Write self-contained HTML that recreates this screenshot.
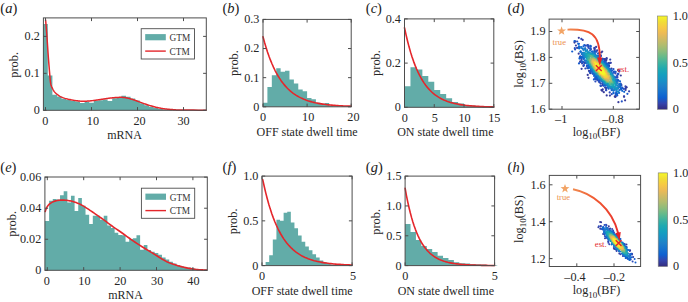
<!DOCTYPE html>
<html><head><meta charset="utf-8"><style>
html,body{margin:0;padding:0;background:#fff;width:688px;height:302px;overflow:hidden}
svg{display:block;font-family:"Liberation Serif", serif}
</style></head><body>
<svg width="688" height="302" viewBox="0 0 688 302">
<rect width="688" height="302" fill="#fff"/>
<g>
<path d="M43.2 110.3V24H47.8V110.3ZM47.8 110.3V75.56H52.4V110.3ZM52.4 110.3V94.8H57V110.3ZM57 110.3V96.54H61.6V110.3ZM61.6 110.3V98.72H66.2V110.3ZM66.2 110.3V99.98H70.8V110.3ZM70.8 110.3V100.89H75.4V110.3ZM75.4 110.3V101.57H80V110.3ZM80 110.3V102.9H84.6V110.3ZM84.6 110.3V101.83H89.2V110.3ZM89.2 110.3V102.84H93.8V110.3ZM93.8 110.3V100.85H98.4V110.3ZM98.4 110.3V100.19H103V110.3ZM103 110.3V99.46H107.6V110.3ZM107.6 110.3V101.01H112.2V110.3ZM112.2 110.3V98.34H116.8V110.3ZM116.8 110.3V98.07H121.4V110.3ZM121.4 110.3V95.77H126V110.3ZM126 110.3V96.67H130.6V110.3ZM130.6 110.3V98.48H135.2V110.3ZM135.2 110.3V100.61H139.8V110.3ZM139.8 110.3V103.14H144.4V110.3ZM144.4 110.3V105.24H149V110.3ZM149 110.3V106.68H153.6V110.3ZM153.6 110.3V107.92H158.2V110.3ZM158.2 110.3V108.89H162.8V110.3ZM162.8 110.3V109.61H167.4V110.3ZM167.4 110.3V110.07H172V110.3Z" fill="#62aca8"/>
<path d="M45.6 20 L45.81 22.39 L46.1 25.78 L46.44 29.9 L46.8 34.5 L47.16 39.75 L47.56 45.72 L47.97 51.95 L48.4 58 L48.9 64.32 L49.45 70.97 L49.95 76.88 L50.3 81 L50.37 81.44 L50.45 82.06 L50.56 82.78 L50.68 83.56 L50.83 84.32 L51 85 L51.2 85.62 L51.44 86.23 L51.7 86.83 L51.97 87.41 L52.24 87.97 L52.5 88.5 L52.74 89 L52.98 89.48 L53.22 89.93 L53.46 90.37 L53.72 90.79 L54 91.2 L54.3 91.6 L54.61 91.98 L54.94 92.35 L55.28 92.71 L55.63 93.06 L56 93.4 L56.39 93.74 L56.8 94.07 L57.22 94.39 L57.65 94.71 L58.08 95.01 L58.5 95.3 L58.9 95.57 L59.28 95.83 L59.66 96.07 L60.06 96.31 L60.5 96.55 L61 96.8 L61.57 97.07 L62.19 97.34 L62.84 97.62 L63.54 97.89 L64.26 98.16 L65 98.4 L65.78 98.63 L66.59 98.84 L67.44 99.04 L68.3 99.24 L69.16 99.42 L70 99.6 L70.83 99.77 L71.67 99.93 L72.5 100.09 L73.33 100.23 L74.17 100.37 L75 100.5 L75.83 100.62 L76.67 100.74 L77.5 100.85 L78.33 100.95 L79.17 101.03 L80 101.1 L80.83 101.15 L81.67 101.19 L82.5 101.21 L83.33 101.21 L84.17 101.21 L85 101.2 L85.83 101.18 L86.67 101.14 L87.5 101.09 L88.33 101.04 L89.17 100.97 L90 100.9 L90.83 100.82 L91.67 100.73 L92.5 100.63 L93.33 100.52 L94.17 100.41 L95 100.3 L95.83 100.19 L96.67 100.08 L97.5 99.96 L98.33 99.84 L99.17 99.72 L100 99.6 L100.83 99.47 L101.67 99.34 L102.5 99.2 L103.33 99.06 L104.17 98.93 L105 98.8 L105.83 98.68 L106.67 98.55 L107.5 98.43 L108.33 98.31 L109.17 98.2 L110 98.1 L110.83 98 L111.67 97.91 L112.5 97.82 L113.33 97.74 L114.17 97.67 L115 97.6 L115.84 97.54 L116.7 97.48 L117.56 97.43 L118.41 97.39 L119.22 97.37 L120 97.35 L120.72 97.35 L121.41 97.35 L122.06 97.37 L122.7 97.39 L123.34 97.44 L124 97.5 L124.67 97.58 L125.33 97.68 L126 97.79 L126.67 97.92 L127.33 98.05 L128 98.2 L128.68 98.36 L129.37 98.54 L130.06 98.73 L130.74 98.93 L131.39 99.12 L132 99.3 L132.56 99.47 L133.07 99.64 L133.56 99.8 L134.04 99.96 L134.51 100.13 L135 100.3 L135.49 100.47 L135.96 100.64 L136.44 100.82 L136.93 101 L137.44 101.19 L138 101.4 L138.61 101.63 L139.26 101.87 L139.94 102.13 L140.63 102.39 L141.32 102.65 L142 102.9 L142.67 103.14 L143.33 103.38 L144 103.61 L144.67 103.84 L145.33 104.07 L146 104.3 L146.66 104.52 L147.3 104.74 L147.94 104.95 L148.59 105.16 L149.28 105.38 L150 105.6 L150.78 105.83 L151.59 106.07 L152.44 106.31 L153.3 106.55 L154.16 106.78 L155 107 L155.83 107.2 L156.67 107.4 L157.5 107.59 L158.33 107.77 L159.17 107.94 L160 108.1 L160.83 108.25 L161.67 108.4 L162.5 108.54 L163.33 108.67 L164.17 108.79 L165 108.9 L165.83 109 L166.67 109.09 L167.5 109.18 L168.33 109.25 L169.17 109.33 L170 109.4 L170.83 109.47 L171.67 109.55 L172.5 109.62 L173.33 109.69 L174.17 109.75 L175 109.8 L175.59 109.84 L175.89 109.88 L176.19 109.91 L176.78 109.94 L177.95 109.97 L180 110 L183.42 110.04 L188.07 110.07 L193.31 110.11 L198.48 110.15 L202.93 110.18 L206 110.2" fill="none" stroke="#e4262b" stroke-width="1.5" stroke-linejoin="round" stroke-linecap="round"/>
<rect x="43.4" y="17.9" width="162.9" height="92.4" fill="none" stroke="#4d4d4d" stroke-width="1"/>
<path d="M45.5 110.3v-3.2M45.5 17.9v3.2" stroke="#4d4d4d" stroke-width="1"/>
<text x="45.4" y="124.6" font-size="12.2" text-anchor="middle" fill="#262626" >0</text>
<path d="M91.5 110.3v-3.2M91.5 17.9v3.2" stroke="#4d4d4d" stroke-width="1"/>
<text x="92.9" y="124.6" font-size="12.2" text-anchor="middle" fill="#262626" >10</text>
<path d="M137.5 110.3v-3.2M137.5 17.9v3.2" stroke="#4d4d4d" stroke-width="1"/>
<text x="139.5" y="124.6" font-size="12.2" text-anchor="middle" fill="#262626" >20</text>
<path d="M183.5 110.3v-3.2M183.5 17.9v3.2" stroke="#4d4d4d" stroke-width="1"/>
<text x="183.6" y="124.6" font-size="12.2" text-anchor="middle" fill="#262626" >30</text>
<path d="M43.4 110.3h3.2M206.3 110.3h-3.2" stroke="#4d4d4d" stroke-width="1"/>
<text x="39.8" y="114.2" font-size="12.2" text-anchor="end" fill="#262626" >0</text>
<path d="M43.4 73.34h3.2M206.3 73.34h-3.2" stroke="#4d4d4d" stroke-width="1"/>
<text x="39.8" y="77.24" font-size="12.2" text-anchor="end" fill="#262626" >0.1</text>
<path d="M43.4 36.38h3.2M206.3 36.38h-3.2" stroke="#4d4d4d" stroke-width="1"/>
<text x="39.8" y="40.28" font-size="12.2" text-anchor="end" fill="#262626" >0.2</text>
<rect x="141.2" y="28.7" width="53.3" height="30.3" fill="#fff" stroke="#4d4d4d" stroke-width="0.9"/>
<rect x="145.2" y="34.1" width="20.6" height="6.2" fill="#62aca8"/>
<path d="M145.2 51.1h20.6" stroke="#e4262b" stroke-width="1.4"/>
<text x="169.6" y="41.1" font-size="9.3" text-anchor="start" fill="#333" >GTM</text>
<text x="169.6" y="54.5" font-size="9.3" text-anchor="start" fill="#333" >CTM</text>
<text x="124.5" y="139.2" font-size="12.0" text-anchor="middle" fill="#262626" >mRNA</text>
<text transform="translate(18.4,64.9) rotate(-90)" font-size="12.4" text-anchor="middle" fill="#262626">prob.</text>
<text x="0.3" y="12.8" font-size="14.5" fill="#1a1a1a">(<tspan font-style="italic">a</tspan>)</text>
</g>
<path d="M263 106.8V102.7H267.41V106.8ZM267.41 106.8V87.1H271.82V106.8ZM271.82 106.8V75.2H276.23V106.8ZM276.23 106.8V68.2H280.64V106.8ZM280.64 106.8V71.7H285.05V106.8ZM285.05 106.8V70.8H289.46V106.8ZM289.46 106.8V79.6H293.87V106.8ZM293.87 106.8V83.6H298.28V106.8ZM298.28 106.8V89.4H302.69V106.8ZM302.69 106.8V91.2H307.1V106.8ZM307.1 106.8V98.1H311.51V106.8ZM311.51 106.8V99.3H315.92V106.8ZM315.92 106.8V102.8H320.33V106.8ZM320.33 106.8V103.8H324.74V106.8ZM324.74 106.8V103.1H329.15V106.8ZM329.15 106.8V105.4H333.56V106.8ZM333.56 106.8V106.2H337.97V106.8ZM337.97 106.8V106.5H342.38V106.8ZM342.38 106.8V106.6H346.79V106.8ZM346.79 106.8V106.6H351.2V106.8Z" fill="#62aca8"/>
<path d="M263 36.74 L264.49 42.22 L265.99 47.26 L267.48 51.91 L268.98 56.2 L270.47 60.16 L271.97 63.8 L273.46 67.16 L274.96 70.26 L276.45 73.11 L277.95 75.75 L279.44 78.17 L280.94 80.41 L282.43 82.47 L283.93 84.37 L285.42 86.12 L286.92 87.74 L288.41 89.23 L289.91 90.6 L291.4 91.87 L292.9 93.03 L294.39 94.11 L295.89 95.1 L297.38 96.02 L298.88 96.86 L300.37 97.63 L301.87 98.35 L303.36 99.01 L304.86 99.62 L306.35 100.18 L307.85 100.7 L309.34 101.17 L310.84 101.61 L312.33 102.02 L313.83 102.39 L315.32 102.74 L316.82 103.05 L318.31 103.35 L319.81 103.62 L321.3 103.87 L322.8 104.1 L324.29 104.31 L325.79 104.5 L327.28 104.68 L328.78 104.85 L330.27 105 L331.77 105.14 L333.26 105.27 L334.76 105.39 L336.25 105.5 L337.75 105.6 L339.24 105.69 L340.74 105.78 L342.23 105.86 L343.73 105.93 L345.22 106 L346.72 106.06 L348.21 106.12 L349.71 106.17 L351.2 106.22" fill="none" stroke="#e4262b" stroke-width="1.6" stroke-linejoin="round" stroke-linecap="round"/>
<rect x="263" y="19.4" width="88.2" height="87.4" fill="none" stroke="#4d4d4d" stroke-width="1"/>
<path d="M263 106.8v-3.2M263 19.4v3.2" stroke="#4d4d4d" stroke-width="1"/>
<text x="263.1" y="121.4" font-size="12.2" text-anchor="middle" fill="#262626" >0</text>
<path d="M307.1 106.8v-3.2M307.1 19.4v3.2" stroke="#4d4d4d" stroke-width="1"/>
<text x="308.2" y="121.4" font-size="12.2" text-anchor="middle" fill="#262626" >10</text>
<path d="M351.2 106.8v-3.2M351.2 19.4v3.2" stroke="#4d4d4d" stroke-width="1"/>
<text x="353.4" y="121.4" font-size="12.2" text-anchor="middle" fill="#262626" >20</text>
<path d="M263 106.8h3.2M351.2 106.8h-3.2" stroke="#4d4d4d" stroke-width="1"/>
<text x="259.4" y="110.7" font-size="12.2" text-anchor="end" fill="#262626" >0</text>
<path d="M263 77.67h3.2M351.2 77.67h-3.2" stroke="#4d4d4d" stroke-width="1"/>
<text x="259.4" y="81.57" font-size="12.2" text-anchor="end" fill="#262626" >0.1</text>
<path d="M263 48.54h3.2M351.2 48.54h-3.2" stroke="#4d4d4d" stroke-width="1"/>
<text x="259.4" y="52.44" font-size="12.2" text-anchor="end" fill="#262626" >0.2</text>
<path d="M263 19.41h3.2M351.2 19.41h-3.2" stroke="#4d4d4d" stroke-width="1"/>
<text x="259.4" y="23.31" font-size="12.2" text-anchor="end" fill="#262626" >0.3</text>
<text x="307.1" y="135.9" font-size="12.0" text-anchor="middle" fill="#262626" >OFF state dwell time</text>
<text transform="translate(237.6,63) rotate(-90)" font-size="12.4" text-anchor="middle" fill="#262626">prob.</text>
<text x="222.4" y="12.8" font-size="14.5" fill="#1a1a1a">(<tspan font-style="italic">b</tspan>)</text>
<path d="M404.5 107.3V86.2H410.45V107.3ZM410.45 107.3V67.2H416.41V107.3ZM416.41 107.3V69.5H422.36V107.3ZM422.36 107.3V76.1H428.31V107.3ZM428.31 107.3V81.8H434.26V107.3ZM434.26 107.3V90.1H440.22V107.3ZM440.22 107.3V94.1H446.17V107.3ZM446.17 107.3V98.2H452.12V107.3ZM452.12 107.3V101.9H458.08V107.3ZM458.08 107.3V103.4H464.03V107.3ZM464.03 107.3V105.4H469.98V107.3ZM469.98 107.3V105.4H475.94V107.3ZM475.94 107.3V106.7H481.89V107.3ZM481.89 107.3V107H487.84V107.3ZM487.84 107.3V107.2H493.8V107.3Z" fill="#62aca8"/>
<path d="M404.5 27.74 L406.01 34.7 L407.53 41.05 L409.04 46.84 L410.55 52.13 L412.07 56.96 L413.58 61.36 L415.09 65.38 L416.61 69.04 L418.12 72.39 L419.63 75.44 L421.15 78.23 L422.66 80.77 L424.18 83.09 L425.69 85.21 L427.2 87.14 L428.72 88.9 L430.23 90.51 L431.74 91.98 L433.26 93.32 L434.77 94.54 L436.28 95.66 L437.8 96.68 L439.31 97.61 L440.82 98.45 L442.34 99.23 L443.85 99.93 L445.36 100.58 L446.88 101.17 L448.39 101.7 L449.9 102.19 L451.42 102.64 L452.93 103.05 L454.44 103.42 L455.96 103.76 L457.47 104.07 L458.99 104.35 L460.5 104.61 L462.01 104.84 L463.53 105.06 L465.04 105.25 L466.55 105.43 L468.07 105.6 L469.58 105.75 L471.09 105.88 L472.61 106.01 L474.12 106.12 L475.63 106.22 L477.15 106.32 L478.66 106.4 L480.17 106.48 L481.69 106.55 L483.2 106.62 L484.71 106.68 L486.23 106.73 L487.74 106.78 L489.25 106.83 L490.77 106.87 L492.28 106.91 L493.8 106.94" fill="none" stroke="#e4262b" stroke-width="1.6" stroke-linejoin="round" stroke-linecap="round"/>
<rect x="404.5" y="18.9" width="89.3" height="88.4" fill="none" stroke="#4d4d4d" stroke-width="1"/>
<path d="M404.5 107.3v-3.2M404.5 18.9v3.2" stroke="#4d4d4d" stroke-width="1"/>
<text x="404.7" y="121.6" font-size="12.2" text-anchor="middle" fill="#262626" >0</text>
<path d="M434.26 107.3v-3.2M434.26 18.9v3.2" stroke="#4d4d4d" stroke-width="1"/>
<text x="434.8" y="121.6" font-size="12.2" text-anchor="middle" fill="#262626" >5</text>
<path d="M464.03 107.3v-3.2M464.03 18.9v3.2" stroke="#4d4d4d" stroke-width="1"/>
<text x="464.6" y="121.6" font-size="12.2" text-anchor="middle" fill="#262626" >10</text>
<path d="M493.8 107.3v-3.2M493.8 18.9v3.2" stroke="#4d4d4d" stroke-width="1"/>
<text x="494.3" y="121.6" font-size="12.2" text-anchor="middle" fill="#262626" >15</text>
<path d="M404.5 107.3h3.2M493.8 107.3h-3.2" stroke="#4d4d4d" stroke-width="1"/>
<text x="400.9" y="111.2" font-size="12.2" text-anchor="end" fill="#262626" >0</text>
<path d="M404.5 63.1h3.2M493.8 63.1h-3.2" stroke="#4d4d4d" stroke-width="1"/>
<text x="400.9" y="67" font-size="12.2" text-anchor="end" fill="#262626" >0.2</text>
<path d="M404.5 18.9h3.2M493.8 18.9h-3.2" stroke="#4d4d4d" stroke-width="1"/>
<text x="400.9" y="22.8" font-size="12.2" text-anchor="end" fill="#262626" >0.4</text>
<text x="445.3" y="136.2" font-size="12.0" text-anchor="middle" fill="#262626" >ON state dwell time</text>
<text transform="translate(380,63) rotate(-90)" font-size="12.4" text-anchor="middle" fill="#262626">prob.</text>
<text x="365.8" y="12.8" font-size="14.5" fill="#1a1a1a">(<tspan font-style="italic">c</tspan>)</text>
<g><circle cx="615.3" cy="97.0" r="1.1" fill="#373b9b"/><circle cx="601.9" cy="59.2" r="1.1" fill="#373b9b"/><circle cx="590.3" cy="72.0" r="1.1" fill="#373b9b"/><circle cx="604.3" cy="59.2" r="1.1" fill="#373b9b"/><circle cx="602.7" cy="84.7" r="1.1" fill="#373b9b"/><circle cx="606.7" cy="95.4" r="1.1" fill="#373b9b"/><circle cx="583.4" cy="65.9" r="1.1" fill="#373b9b"/><circle cx="608.6" cy="63.1" r="1.1" fill="#373b9b"/><circle cx="590.2" cy="71.1" r="1.1" fill="#373b9b"/><circle cx="625.6" cy="90.0" r="1.1" fill="#373b9b"/><circle cx="615.8" cy="96.2" r="1.1" fill="#373b9b"/><circle cx="625.1" cy="100.3" r="1.1" fill="#373b9b"/><circle cx="617.6" cy="80.4" r="1.1" fill="#373b9b"/><circle cx="606.0" cy="60.2" r="1.1" fill="#373b9b"/><circle cx="606.4" cy="63.5" r="1.1" fill="#373b9b"/><circle cx="594.5" cy="50.3" r="1.1" fill="#373b9b"/><circle cx="580.4" cy="56.4" r="1.1" fill="#373b9b"/><circle cx="574.5" cy="42.6" r="1.1" fill="#373b9b"/><circle cx="625.6" cy="88.6" r="1.1" fill="#373b9b"/><circle cx="608.1" cy="64.0" r="1.1" fill="#373b9b"/><circle cx="587.7" cy="74.9" r="1.1" fill="#373b9b"/><circle cx="600.6" cy="55.7" r="1.1" fill="#373b9b"/><circle cx="602.7" cy="89.4" r="1.1" fill="#373b9b"/><circle cx="589.0" cy="70.9" r="1.1" fill="#373b9b"/><circle cx="614.8" cy="96.4" r="1.1" fill="#373b9b"/><circle cx="601.4" cy="90.1" r="1.1" fill="#373b9b"/><circle cx="602.2" cy="90.8" r="1.1" fill="#373b9b"/><circle cx="590.2" cy="73.2" r="1.1" fill="#373b9b"/><circle cx="618.2" cy="70.2" r="1.1" fill="#373b9b"/><circle cx="599.7" cy="82.5" r="1.1" fill="#373b9b"/><circle cx="606.2" cy="60.6" r="1.1" fill="#373b9b"/><circle cx="626.7" cy="87.3" r="1.1" fill="#373b9b"/><circle cx="609.1" cy="65.8" r="1.1" fill="#373b9b"/><circle cx="626.0" cy="87.2" r="1.1" fill="#373b9b"/><circle cx="587.4" cy="45.1" r="1.1" fill="#373b9b"/><circle cx="601.3" cy="52.5" r="1.1" fill="#373b9b"/><circle cx="618.4" cy="74.0" r="1.1" fill="#373b9b"/><circle cx="615.8" cy="94.4" r="1.1" fill="#373b9b"/><circle cx="595.4" cy="77.8" r="1.1" fill="#373b9b"/><circle cx="585.3" cy="62.7" r="1.1" fill="#373b9b"/><circle cx="603.8" cy="92.2" r="1.1" fill="#373b9b"/><circle cx="620.8" cy="75.5" r="1.1" fill="#373b9b"/><circle cx="618.4" cy="102.2" r="1.1" fill="#373b9b"/><circle cx="609.9" cy="95.6" r="1.1" fill="#373b9b"/><circle cx="605.1" cy="87.6" r="1.1" fill="#373b9b"/><circle cx="588.5" cy="77.8" r="1.1" fill="#373b9b"/><circle cx="611.5" cy="68.5" r="1.1" fill="#373b9b"/><circle cx="578.8" cy="37.8" r="1.1" fill="#373b9b"/><circle cx="605.6" cy="63.2" r="1.1" fill="#373c9c"/><circle cx="578.7" cy="53.7" r="1.1" fill="#373c9c"/><circle cx="619.2" cy="71.6" r="1.1" fill="#373c9d"/><circle cx="602.2" cy="51.6" r="1.1" fill="#373c9d"/><circle cx="616.6" cy="77.3" r="1.1" fill="#373c9d"/><circle cx="580.2" cy="62.0" r="1.1" fill="#373d9e"/><circle cx="606.6" cy="58.9" r="1.1" fill="#373d9e"/><circle cx="609.0" cy="63.6" r="1.1" fill="#373d9e"/><circle cx="581.6" cy="68.8" r="1.1" fill="#373d9f"/><circle cx="581.5" cy="59.2" r="1.1" fill="#373e9f"/><circle cx="582.7" cy="39.9" r="1.1" fill="#373ea0"/><circle cx="580.3" cy="61.4" r="1.1" fill="#373ea0"/><circle cx="604.4" cy="60.7" r="1.1" fill="#373ea0"/><circle cx="594.7" cy="49.1" r="1.1" fill="#373ea1"/><circle cx="577.1" cy="47.9" r="1.1" fill="#373ea1"/><circle cx="600.9" cy="55.5" r="1.1" fill="#373fa3"/><circle cx="594.4" cy="47.8" r="1.1" fill="#373fa3"/><circle cx="610.8" cy="62.8" r="1.1" fill="#3740a4"/><circle cx="588.7" cy="46.6" r="1.1" fill="#3740a4"/><circle cx="606.7" cy="58.0" r="1.1" fill="#3740a4"/><circle cx="582.1" cy="57.1" r="1.1" fill="#3740a5"/><circle cx="597.1" cy="50.4" r="1.1" fill="#3641a5"/><circle cx="618.4" cy="80.5" r="1.1" fill="#3641a6"/><circle cx="624.1" cy="96.7" r="1.1" fill="#3641a6"/><circle cx="594.5" cy="48.4" r="1.1" fill="#3641a6"/><circle cx="580.5" cy="57.6" r="1.1" fill="#3641a7"/><circle cx="575.3" cy="41.3" r="1.1" fill="#3642a7"/><circle cx="600.9" cy="85.9" r="1.1" fill="#3642a7"/><circle cx="585.2" cy="62.7" r="1.1" fill="#3642a7"/><circle cx="608.2" cy="66.0" r="1.1" fill="#3642a7"/><circle cx="575.9" cy="45.5" r="1.1" fill="#3642a8"/><circle cx="597.4" cy="79.9" r="1.1" fill="#3642a8"/><circle cx="624.0" cy="96.4" r="1.1" fill="#3642a8"/><circle cx="606.1" cy="88.2" r="1.1" fill="#3642a8"/><circle cx="596.1" cy="46.9" r="1.1" fill="#3543aa"/><circle cx="605.3" cy="59.0" r="1.1" fill="#3543aa"/><circle cx="610.2" cy="62.9" r="1.1" fill="#3543aa"/><circle cx="616.9" cy="93.9" r="1.1" fill="#3544ab"/><circle cx="605.0" cy="62.5" r="1.1" fill="#3544ac"/><circle cx="602.9" cy="85.3" r="1.1" fill="#3544ac"/><circle cx="595.2" cy="78.7" r="1.1" fill="#3544ac"/><circle cx="582.1" cy="63.5" r="1.1" fill="#3544ad"/><circle cx="592.6" cy="73.6" r="1.1" fill="#3545ad"/><circle cx="625.5" cy="86.4" r="1.1" fill="#3545ad"/><circle cx="619.9" cy="84.3" r="1.1" fill="#3545ad"/><circle cx="617.2" cy="75.3" r="1.1" fill="#3446af"/><circle cx="629.1" cy="91.3" r="1.1" fill="#3446af"/><circle cx="594.3" cy="52.2" r="1.1" fill="#3446af"/><circle cx="610.2" cy="59.6" r="1.1" fill="#3446b0"/><circle cx="620.7" cy="84.2" r="1.1" fill="#3347b0"/><circle cx="600.8" cy="83.5" r="1.1" fill="#3347b1"/><circle cx="581.4" cy="57.4" r="1.1" fill="#3347b1"/><circle cx="621.5" cy="85.1" r="1.1" fill="#3347b1"/><circle cx="606.1" cy="90.2" r="1.1" fill="#3348b2"/><circle cx="590.9" cy="49.3" r="1.1" fill="#3248b3"/><circle cx="606.7" cy="64.5" r="1.1" fill="#3248b3"/><circle cx="588.7" cy="68.0" r="1.1" fill="#3248b3"/><circle cx="596.1" cy="76.2" r="1.1" fill="#3248b3"/><circle cx="585.3" cy="45.7" r="1.1" fill="#3248b3"/><circle cx="599.2" cy="80.9" r="1.1" fill="#3248b3"/><circle cx="606.8" cy="87.5" r="1.1" fill="#3248b4"/><circle cx="584.4" cy="63.3" r="1.1" fill="#3249b4"/><circle cx="603.0" cy="58.8" r="1.1" fill="#3249b4"/><circle cx="596.4" cy="51.7" r="1.1" fill="#3249b4"/><circle cx="583.4" cy="62.0" r="1.1" fill="#3149b5"/><circle cx="615.3" cy="73.5" r="1.1" fill="#314ab6"/><circle cx="617.4" cy="77.4" r="1.1" fill="#314ab6"/><circle cx="585.4" cy="68.5" r="1.1" fill="#304ab7"/><circle cx="594.8" cy="51.4" r="1.1" fill="#304ab7"/><circle cx="616.9" cy="77.5" r="1.1" fill="#304bb8"/><circle cx="579.5" cy="46.9" r="1.1" fill="#304bb8"/><circle cx="618.1" cy="80.4" r="1.1" fill="#304bb8"/><circle cx="581.3" cy="38.9" r="1.1" fill="#304bb8"/><circle cx="587.4" cy="68.2" r="1.1" fill="#304bb8"/><circle cx="588.4" cy="47.8" r="1.1" fill="#304bb8"/><circle cx="598.8" cy="53.4" r="1.1" fill="#304bb9"/><circle cx="599.9" cy="57.8" r="1.1" fill="#2f4bb9"/><circle cx="582.2" cy="62.3" r="1.1" fill="#2f4cb9"/><circle cx="609.7" cy="92.4" r="1.1" fill="#2f4cb9"/><circle cx="613.7" cy="72.7" r="1.1" fill="#2f4cba"/><circle cx="613.5" cy="93.1" r="1.1" fill="#2e4dbb"/><circle cx="595.4" cy="81.5" r="1.1" fill="#2e4dbb"/><circle cx="620.5" cy="83.6" r="1.1" fill="#2e4dbb"/><circle cx="611.7" cy="94.2" r="1.1" fill="#2d4dbb"/><circle cx="599.3" cy="80.8" r="1.1" fill="#2d4dbc"/><circle cx="616.0" cy="94.0" r="1.1" fill="#2c4ebc"/><circle cx="596.1" cy="79.4" r="1.1" fill="#2c4ebd"/><circle cx="600.9" cy="55.9" r="1.1" fill="#2b4fbe"/><circle cx="617.3" cy="76.0" r="1.1" fill="#2b4fbe"/><circle cx="606.2" cy="90.2" r="1.1" fill="#2b4fbf"/><circle cx="579.8" cy="57.5" r="1.1" fill="#2a50c0"/><circle cx="588.3" cy="45.4" r="1.1" fill="#2950c0"/><circle cx="593.9" cy="73.7" r="1.1" fill="#2950c0"/><circle cx="622.3" cy="87.5" r="1.1" fill="#2950c1"/><circle cx="619.4" cy="70.6" r="1.1" fill="#2950c1"/><circle cx="599.2" cy="79.9" r="1.1" fill="#2950c1"/><circle cx="601.6" cy="59.2" r="1.1" fill="#2951c1"/><circle cx="596.4" cy="77.1" r="1.1" fill="#2951c1"/><circle cx="577.2" cy="41.5" r="1.1" fill="#2851c2"/><circle cx="615.7" cy="71.9" r="1.1" fill="#2851c2"/><circle cx="623.9" cy="88.9" r="1.1" fill="#2851c2"/><circle cx="598.9" cy="81.7" r="1.1" fill="#2851c2"/><circle cx="591.4" cy="71.6" r="1.1" fill="#2851c2"/><circle cx="586.9" cy="66.3" r="1.1" fill="#2851c2"/><circle cx="575.1" cy="49.5" r="1.1" fill="#2752c3"/><circle cx="611.0" cy="71.9" r="1.1" fill="#2752c4"/><circle cx="593.1" cy="73.6" r="1.1" fill="#2752c4"/><circle cx="583.9" cy="65.2" r="1.1" fill="#2653c4"/><circle cx="574.8" cy="48.2" r="1.1" fill="#2553c5"/><circle cx="590.1" cy="48.7" r="1.1" fill="#2553c5"/><circle cx="604.8" cy="61.5" r="1.1" fill="#2553c5"/><circle cx="621.8" cy="101.4" r="1.1" fill="#2553c5"/><circle cx="599.1" cy="57.0" r="1.1" fill="#2454c5"/><circle cx="607.0" cy="66.9" r="1.1" fill="#2454c5"/><circle cx="590.6" cy="48.3" r="1.1" fill="#2354c6"/><circle cx="598.2" cy="55.8" r="1.1" fill="#2354c6"/><circle cx="598.7" cy="81.0" r="1.1" fill="#2354c6"/><circle cx="602.5" cy="83.1" r="1.1" fill="#2255c7"/><circle cx="581.6" cy="60.7" r="1.1" fill="#2255c7"/><circle cx="613.5" cy="69.1" r="1.1" fill="#2155c7"/><circle cx="591.1" cy="70.7" r="1.1" fill="#2056c8"/><circle cx="580.0" cy="56.8" r="1.1" fill="#2056c8"/><circle cx="599.2" cy="78.5" r="1.1" fill="#2056c8"/><circle cx="589.7" cy="72.1" r="1.1" fill="#1f56c8"/><circle cx="595.3" cy="74.8" r="1.1" fill="#1f56c8"/><circle cx="600.5" cy="85.7" r="1.1" fill="#1f56c8"/><circle cx="587.2" cy="45.8" r="1.1" fill="#1e57c9"/><circle cx="613.9" cy="71.8" r="1.1" fill="#1d58c9"/><circle cx="583.6" cy="58.7" r="1.1" fill="#1c58ca"/><circle cx="596.2" cy="76.6" r="1.1" fill="#1c58ca"/><circle cx="612.3" cy="70.6" r="1.1" fill="#1c58ca"/><circle cx="608.1" cy="87.0" r="1.1" fill="#1b59cb"/><circle cx="609.0" cy="66.6" r="1.1" fill="#1b59cb"/><circle cx="627.4" cy="93.8" r="1.1" fill="#1b59cb"/><circle cx="617.3" cy="95.4" r="1.1" fill="#1a59cb"/><circle cx="602.3" cy="59.7" r="1.1" fill="#1a59cb"/><circle cx="610.5" cy="70.2" r="1.1" fill="#1a59cb"/><circle cx="605.5" cy="85.7" r="1.1" fill="#1a59cc"/><circle cx="608.7" cy="88.7" r="1.1" fill="#195acc"/><circle cx="617.8" cy="73.8" r="1.1" fill="#195acc"/><circle cx="595.2" cy="74.0" r="1.1" fill="#185acd"/><circle cx="590.8" cy="46.4" r="1.1" fill="#185bcd"/><circle cx="611.6" cy="90.1" r="1.1" fill="#175bcd"/><circle cx="616.9" cy="94.1" r="1.1" fill="#175bcd"/><circle cx="579.0" cy="63.4" r="1.1" fill="#175bcd"/><circle cx="593.9" cy="79.4" r="1.1" fill="#165bcd"/><circle cx="587.0" cy="65.3" r="1.1" fill="#165bcd"/><circle cx="614.5" cy="71.6" r="1.1" fill="#165ccd"/><circle cx="582.3" cy="62.1" r="1.1" fill="#165ccd"/><circle cx="607.0" cy="63.6" r="1.1" fill="#165ccd"/><circle cx="620.7" cy="88.1" r="1.1" fill="#155ccd"/><circle cx="604.8" cy="85.2" r="1.1" fill="#155cce"/><circle cx="605.5" cy="61.9" r="1.1" fill="#155cce"/><circle cx="603.8" cy="85.8" r="1.1" fill="#155cce"/><circle cx="600.0" cy="58.4" r="1.1" fill="#145dce"/><circle cx="597.2" cy="78.2" r="1.1" fill="#135dce"/><circle cx="574.5" cy="41.2" r="1.1" fill="#135dce"/><circle cx="616.1" cy="92.8" r="1.1" fill="#135dce"/><circle cx="583.0" cy="56.6" r="1.1" fill="#135dce"/><circle cx="622.0" cy="88.5" r="1.1" fill="#135ece"/><circle cx="588.3" cy="65.1" r="1.1" fill="#135ece"/><circle cx="620.3" cy="85.0" r="1.1" fill="#135ece"/><circle cx="615.2" cy="77.5" r="1.1" fill="#125ece"/><circle cx="590.4" cy="45.8" r="1.1" fill="#125ece"/><circle cx="613.4" cy="90.5" r="1.1" fill="#125ecf"/><circle cx="584.3" cy="45.0" r="1.1" fill="#125ecf"/><circle cx="572.2" cy="51.5" r="1.1" fill="#125ecf"/><circle cx="578.9" cy="43.8" r="1.1" fill="#115ecf"/><circle cx="597.6" cy="75.9" r="1.1" fill="#115fcf"/><circle cx="598.0" cy="53.5" r="1.1" fill="#105fcf"/><circle cx="596.6" cy="78.9" r="1.1" fill="#105fcf"/><circle cx="621.1" cy="89.2" r="1.1" fill="#105fcf"/><circle cx="595.4" cy="51.7" r="1.1" fill="#0f60cf"/><circle cx="615.2" cy="77.5" r="1.1" fill="#0f60cf"/><circle cx="583.4" cy="46.3" r="1.1" fill="#0e60d0"/><circle cx="595.7" cy="77.6" r="1.1" fill="#0d61d0"/><circle cx="605.2" cy="84.2" r="1.1" fill="#0d61d0"/><circle cx="597.7" cy="77.0" r="1.1" fill="#0d61d0"/><circle cx="581.4" cy="57.4" r="1.1" fill="#0d61d0"/><circle cx="589.2" cy="67.1" r="1.1" fill="#0d61d0"/><circle cx="579.5" cy="58.6" r="1.1" fill="#0d61d0"/><circle cx="595.3" cy="54.3" r="1.1" fill="#0d62d0"/><circle cx="594.1" cy="75.9" r="1.1" fill="#0c63d0"/><circle cx="624.2" cy="91.8" r="1.1" fill="#0c63d0"/><circle cx="622.2" cy="90.8" r="1.1" fill="#0c63d0"/><circle cx="620.0" cy="81.3" r="1.1" fill="#0c63d0"/><circle cx="578.2" cy="43.8" r="1.1" fill="#0c63d0"/><circle cx="598.8" cy="56.6" r="1.1" fill="#0c63d0"/><circle cx="613.5" cy="93.1" r="1.1" fill="#0c63d0"/><circle cx="602.0" cy="58.9" r="1.1" fill="#0c63d0"/><circle cx="588.6" cy="68.2" r="1.1" fill="#0c63d0"/><circle cx="620.5" cy="86.6" r="1.1" fill="#0c64d0"/><circle cx="581.8" cy="57.7" r="1.1" fill="#0c64d0"/><circle cx="608.3" cy="67.0" r="1.1" fill="#0c64d0"/><circle cx="596.1" cy="75.8" r="1.1" fill="#0c65d0"/><circle cx="583.3" cy="56.9" r="1.1" fill="#0c65d0"/><circle cx="592.3" cy="73.0" r="1.1" fill="#0c65d0"/><circle cx="611.7" cy="73.0" r="1.1" fill="#0c66d1"/><circle cx="605.8" cy="65.3" r="1.1" fill="#0c66d1"/><circle cx="580.4" cy="51.8" r="1.1" fill="#0c66d1"/><circle cx="616.0" cy="94.5" r="1.1" fill="#0c66d1"/><circle cx="620.1" cy="84.0" r="1.1" fill="#0c66d1"/><circle cx="581.7" cy="53.9" r="1.1" fill="#0c66d1"/><circle cx="591.0" cy="69.4" r="1.1" fill="#0c67d1"/><circle cx="594.5" cy="74.2" r="1.1" fill="#0c67d1"/><circle cx="606.1" cy="65.0" r="1.1" fill="#0c67d0"/><circle cx="609.8" cy="68.9" r="1.1" fill="#0d67d0"/><circle cx="592.5" cy="70.9" r="1.1" fill="#0d67d0"/><circle cx="599.1" cy="57.0" r="1.1" fill="#0d67d0"/><circle cx="617.8" cy="80.3" r="1.1" fill="#0d68d0"/><circle cx="603.0" cy="61.9" r="1.1" fill="#0d68d0"/><circle cx="592.2" cy="71.0" r="1.1" fill="#0d68d0"/><circle cx="599.3" cy="79.2" r="1.1" fill="#0d68d0"/><circle cx="597.8" cy="56.2" r="1.1" fill="#0d68d0"/><circle cx="612.4" cy="73.8" r="1.1" fill="#0d68d0"/><circle cx="592.7" cy="51.6" r="1.1" fill="#0d68d0"/><circle cx="579.2" cy="48.4" r="1.1" fill="#0d68d0"/><circle cx="606.9" cy="65.2" r="1.1" fill="#0d68d0"/><circle cx="588.8" cy="66.1" r="1.1" fill="#0d69d0"/><circle cx="619.1" cy="92.8" r="1.1" fill="#0d69d0"/><circle cx="585.6" cy="60.5" r="1.1" fill="#0e69d0"/><circle cx="611.3" cy="70.4" r="1.1" fill="#0e69d0"/><circle cx="619.6" cy="90.2" r="1.1" fill="#0e69d0"/><circle cx="578.8" cy="47.8" r="1.1" fill="#0e6ad0"/><circle cx="580.7" cy="51.4" r="1.1" fill="#0e6ad0"/><circle cx="599.2" cy="57.6" r="1.1" fill="#0e6ad0"/><circle cx="581.2" cy="47.0" r="1.1" fill="#0e6ad0"/><circle cx="591.9" cy="51.7" r="1.1" fill="#0e6ad0"/><circle cx="597.9" cy="76.2" r="1.1" fill="#0e6ad0"/><circle cx="613.5" cy="90.7" r="1.1" fill="#0e6ad0"/><circle cx="617.1" cy="80.6" r="1.1" fill="#0e6ad0"/><circle cx="583.9" cy="58.8" r="1.1" fill="#0e6ad0"/><circle cx="578.9" cy="46.3" r="1.1" fill="#0e6ad0"/><circle cx="585.9" cy="50.8" r="1.1" fill="#0f6bd0"/><circle cx="619.3" cy="86.6" r="1.1" fill="#0f6bd0"/><circle cx="582.5" cy="48.6" r="1.1" fill="#0f6bd0"/><circle cx="608.5" cy="64.5" r="1.1" fill="#0f6bd0"/><circle cx="595.8" cy="75.4" r="1.1" fill="#106cd0"/><circle cx="616.1" cy="80.1" r="1.1" fill="#106cd0"/><circle cx="620.3" cy="86.0" r="1.1" fill="#106cd0"/><circle cx="590.9" cy="68.2" r="1.1" fill="#116dcf"/><circle cx="604.2" cy="63.5" r="1.1" fill="#116dcf"/><circle cx="607.6" cy="87.5" r="1.1" fill="#116dcf"/><circle cx="607.3" cy="66.9" r="1.1" fill="#116dcf"/><circle cx="607.9" cy="85.6" r="1.1" fill="#116dcf"/><circle cx="620.1" cy="84.1" r="1.1" fill="#116dcf"/><circle cx="612.0" cy="88.4" r="1.1" fill="#126ecf"/><circle cx="614.6" cy="76.6" r="1.1" fill="#126ecf"/><circle cx="608.4" cy="69.3" r="1.1" fill="#126ecf"/><circle cx="615.4" cy="80.8" r="1.1" fill="#126ecf"/><circle cx="608.4" cy="87.4" r="1.1" fill="#126ecf"/><circle cx="612.6" cy="89.1" r="1.1" fill="#126ecf"/><circle cx="583.6" cy="49.5" r="1.1" fill="#126ecf"/><circle cx="582.8" cy="54.5" r="1.1" fill="#126fcf"/><circle cx="602.4" cy="81.5" r="1.1" fill="#136fcf"/><circle cx="583.5" cy="56.7" r="1.1" fill="#136fcf"/><circle cx="585.1" cy="48.9" r="1.1" fill="#136fcf"/><circle cx="604.6" cy="84.1" r="1.1" fill="#136fcf"/><circle cx="583.4" cy="57.0" r="1.1" fill="#136fcf"/><circle cx="619.1" cy="84.3" r="1.1" fill="#1470cf"/><circle cx="601.3" cy="60.4" r="1.1" fill="#1470cf"/><circle cx="602.9" cy="61.5" r="1.1" fill="#1470ce"/><circle cx="594.6" cy="53.2" r="1.1" fill="#1470ce"/><circle cx="592.6" cy="71.1" r="1.1" fill="#1570ce"/><circle cx="597.6" cy="56.8" r="1.1" fill="#1571ce"/><circle cx="590.1" cy="50.5" r="1.1" fill="#1571ce"/><circle cx="615.9" cy="82.3" r="1.1" fill="#1571ce"/><circle cx="596.0" cy="74.7" r="1.1" fill="#1571ce"/><circle cx="601.1" cy="81.0" r="1.1" fill="#1571ce"/><circle cx="592.7" cy="71.6" r="1.1" fill="#1672ce"/><circle cx="599.1" cy="78.6" r="1.1" fill="#1672ce"/><circle cx="593.7" cy="71.8" r="1.1" fill="#1672ce"/><circle cx="605.0" cy="63.3" r="1.1" fill="#1672ce"/><circle cx="616.4" cy="91.2" r="1.1" fill="#1672ce"/><circle cx="604.0" cy="83.1" r="1.1" fill="#1672ce"/><circle cx="618.7" cy="92.6" r="1.1" fill="#1672ce"/><circle cx="605.1" cy="84.4" r="1.1" fill="#1772ce"/><circle cx="586.6" cy="62.8" r="1.1" fill="#1772ce"/><circle cx="606.8" cy="66.9" r="1.1" fill="#1773ce"/><circle cx="604.6" cy="64.0" r="1.1" fill="#1773ce"/><circle cx="591.7" cy="68.7" r="1.1" fill="#1773ce"/><circle cx="593.0" cy="53.5" r="1.1" fill="#1773cd"/><circle cx="599.0" cy="57.7" r="1.1" fill="#1773cd"/><circle cx="607.3" cy="67.2" r="1.1" fill="#1873cd"/><circle cx="594.7" cy="54.5" r="1.1" fill="#1874cd"/><circle cx="611.4" cy="73.1" r="1.1" fill="#1874cd"/><circle cx="598.7" cy="78.0" r="1.1" fill="#1874cd"/><circle cx="586.4" cy="63.2" r="1.1" fill="#1874cd"/><circle cx="593.6" cy="53.6" r="1.1" fill="#1874cd"/><circle cx="616.0" cy="81.1" r="1.1" fill="#1874cd"/><circle cx="582.4" cy="54.6" r="1.1" fill="#1874cd"/><circle cx="606.9" cy="67.5" r="1.1" fill="#1874cd"/><circle cx="583.5" cy="53.0" r="1.1" fill="#1874cd"/><circle cx="608.6" cy="69.4" r="1.1" fill="#1975cd"/><circle cx="594.4" cy="72.4" r="1.1" fill="#1975cd"/><circle cx="595.7" cy="55.9" r="1.1" fill="#1975cd"/><circle cx="595.9" cy="55.9" r="1.1" fill="#1975cd"/><circle cx="606.5" cy="85.0" r="1.1" fill="#1975cd"/><circle cx="596.3" cy="75.0" r="1.1" fill="#1975cd"/><circle cx="616.4" cy="88.9" r="1.1" fill="#1975cd"/><circle cx="587.2" cy="50.0" r="1.1" fill="#1975cd"/><circle cx="602.1" cy="60.8" r="1.1" fill="#1975cc"/><circle cx="582.1" cy="52.8" r="1.1" fill="#1975cc"/><circle cx="584.6" cy="60.7" r="1.1" fill="#1975cc"/><circle cx="616.7" cy="81.9" r="1.1" fill="#1975cc"/><circle cx="597.0" cy="55.5" r="1.1" fill="#1976cc"/><circle cx="599.7" cy="78.1" r="1.1" fill="#1a76cc"/><circle cx="585.1" cy="48.3" r="1.1" fill="#1a76cc"/><circle cx="602.8" cy="61.8" r="1.1" fill="#1a76cc"/><circle cx="585.3" cy="48.6" r="1.1" fill="#1a76cc"/><circle cx="609.8" cy="70.7" r="1.1" fill="#1a76cc"/><circle cx="601.2" cy="80.2" r="1.1" fill="#1a76cc"/><circle cx="619.2" cy="86.6" r="1.1" fill="#1a77cc"/><circle cx="619.3" cy="87.2" r="1.1" fill="#1a77cc"/><circle cx="616.0" cy="80.4" r="1.1" fill="#1b77cc"/><circle cx="584.4" cy="56.7" r="1.1" fill="#1b77cc"/><circle cx="584.0" cy="54.5" r="1.1" fill="#1b77cc"/><circle cx="614.9" cy="89.8" r="1.1" fill="#1b77cc"/><circle cx="609.1" cy="86.6" r="1.1" fill="#1b77cc"/><circle cx="584.3" cy="55.3" r="1.1" fill="#1b78cb"/><circle cx="614.9" cy="80.7" r="1.1" fill="#1b78cb"/><circle cx="605.8" cy="84.2" r="1.1" fill="#1b78cb"/><circle cx="586.0" cy="60.5" r="1.1" fill="#1c79cb"/><circle cx="611.5" cy="73.6" r="1.1" fill="#1c79cb"/><circle cx="597.3" cy="75.0" r="1.1" fill="#1c79cb"/><circle cx="607.7" cy="67.3" r="1.1" fill="#1d7aca"/><circle cx="609.4" cy="69.7" r="1.1" fill="#1d7aca"/><circle cx="592.0" cy="68.7" r="1.1" fill="#1d7aca"/><circle cx="615.0" cy="79.3" r="1.1" fill="#1d7bca"/><circle cx="596.7" cy="74.3" r="1.1" fill="#1d7bca"/><circle cx="618.0" cy="87.8" r="1.1" fill="#1d7bca"/><circle cx="605.8" cy="65.5" r="1.1" fill="#1d7bca"/><circle cx="596.1" cy="74.6" r="1.1" fill="#1d7bca"/><circle cx="611.4" cy="87.5" r="1.1" fill="#1d7bca"/><circle cx="612.5" cy="88.3" r="1.1" fill="#1d7bca"/><circle cx="592.5" cy="54.5" r="1.1" fill="#1d7bca"/><circle cx="610.9" cy="73.4" r="1.1" fill="#1d7cca"/><circle cx="612.2" cy="75.2" r="1.1" fill="#1d7cca"/><circle cx="617.5" cy="85.3" r="1.1" fill="#1d7cca"/><circle cx="583.4" cy="55.8" r="1.1" fill="#1d7cca"/><circle cx="610.7" cy="88.3" r="1.1" fill="#1d7cca"/><circle cx="611.9" cy="74.0" r="1.1" fill="#1d7cca"/><circle cx="598.6" cy="77.1" r="1.1" fill="#1d7cca"/><circle cx="604.4" cy="64.2" r="1.1" fill="#1e7cc9"/><circle cx="592.8" cy="53.2" r="1.1" fill="#1e7cc9"/><circle cx="592.9" cy="53.7" r="1.1" fill="#1e7cc9"/><circle cx="606.8" cy="67.5" r="1.1" fill="#1e7cc9"/><circle cx="595.9" cy="74.5" r="1.1" fill="#1e7dc9"/><circle cx="612.8" cy="90.0" r="1.1" fill="#1e7dc9"/><circle cx="618.1" cy="91.5" r="1.1" fill="#1e7dc9"/><circle cx="606.5" cy="83.8" r="1.1" fill="#1e7dc9"/><circle cx="608.7" cy="86.7" r="1.1" fill="#1e7dc9"/><circle cx="601.6" cy="80.7" r="1.1" fill="#1e7dc9"/><circle cx="584.9" cy="57.2" r="1.1" fill="#1e7dc9"/><circle cx="617.7" cy="83.1" r="1.1" fill="#1e7ec9"/><circle cx="597.7" cy="75.6" r="1.1" fill="#1e7ec9"/><circle cx="598.3" cy="58.8" r="1.1" fill="#1e7ec9"/><circle cx="605.9" cy="66.0" r="1.1" fill="#1e7ec9"/><circle cx="615.8" cy="79.8" r="1.1" fill="#1e7ec9"/><circle cx="609.1" cy="85.9" r="1.1" fill="#1e7fc8"/><circle cx="607.6" cy="68.8" r="1.1" fill="#1e7fc8"/><circle cx="603.0" cy="63.4" r="1.1" fill="#1e7fc8"/><circle cx="617.8" cy="85.8" r="1.1" fill="#1e7fc8"/><circle cx="585.8" cy="56.9" r="1.1" fill="#1e80c8"/><circle cx="612.5" cy="75.8" r="1.1" fill="#1f80c8"/><circle cx="591.5" cy="53.5" r="1.1" fill="#1f80c8"/><circle cx="604.0" cy="81.6" r="1.1" fill="#1f80c8"/><circle cx="592.2" cy="69.5" r="1.1" fill="#1f80c8"/><circle cx="608.6" cy="86.5" r="1.1" fill="#1f81c8"/><circle cx="604.3" cy="64.5" r="1.1" fill="#1f81c8"/><circle cx="593.4" cy="53.0" r="1.1" fill="#1f81c8"/><circle cx="607.3" cy="84.6" r="1.1" fill="#1f81c8"/><circle cx="594.3" cy="72.6" r="1.1" fill="#1f81c8"/><circle cx="582.5" cy="53.6" r="1.1" fill="#1f81c8"/><circle cx="601.0" cy="79.5" r="1.1" fill="#1f81c8"/><circle cx="581.3" cy="47.9" r="1.1" fill="#1f81c8"/><circle cx="609.1" cy="86.2" r="1.1" fill="#1f81c8"/><circle cx="602.2" cy="62.7" r="1.1" fill="#1f81c8"/><circle cx="612.5" cy="87.4" r="1.1" fill="#1f82c7"/><circle cx="612.6" cy="75.0" r="1.1" fill="#1f82c7"/><circle cx="599.3" cy="60.3" r="1.1" fill="#1f82c7"/><circle cx="601.6" cy="61.7" r="1.1" fill="#1f82c7"/><circle cx="588.8" cy="52.6" r="1.1" fill="#1f82c7"/><circle cx="605.1" cy="82.1" r="1.1" fill="#1f82c7"/><circle cx="613.7" cy="77.0" r="1.1" fill="#1f82c7"/><circle cx="598.7" cy="76.8" r="1.1" fill="#1f83c7"/><circle cx="589.0" cy="63.6" r="1.1" fill="#1f83c7"/><circle cx="610.5" cy="73.1" r="1.1" fill="#1e83c7"/><circle cx="608.3" cy="84.9" r="1.1" fill="#1e83c7"/><circle cx="618.1" cy="88.7" r="1.1" fill="#1e83c7"/><circle cx="596.8" cy="74.5" r="1.1" fill="#1e84c7"/><circle cx="591.0" cy="67.9" r="1.1" fill="#1e84c7"/><circle cx="587.1" cy="61.7" r="1.1" fill="#1e84c7"/><circle cx="597.0" cy="57.4" r="1.1" fill="#1e84c7"/><circle cx="615.8" cy="87.0" r="1.1" fill="#1e85c7"/><circle cx="587.0" cy="63.0" r="1.1" fill="#1e85c7"/><circle cx="608.8" cy="85.2" r="1.1" fill="#1e85c7"/><circle cx="589.6" cy="52.5" r="1.1" fill="#1e85c7"/><circle cx="615.9" cy="83.8" r="1.1" fill="#1e85c7"/><circle cx="604.9" cy="82.5" r="1.1" fill="#1e85c7"/><circle cx="603.7" cy="64.7" r="1.1" fill="#1e86c7"/><circle cx="583.5" cy="49.9" r="1.1" fill="#1e86c7"/><circle cx="588.7" cy="62.9" r="1.1" fill="#1e86c7"/><circle cx="615.9" cy="84.0" r="1.1" fill="#1e86c7"/><circle cx="612.8" cy="75.6" r="1.1" fill="#1e87c7"/><circle cx="589.3" cy="53.1" r="1.1" fill="#1e87c7"/><circle cx="616.7" cy="89.5" r="1.1" fill="#1e87c7"/><circle cx="585.6" cy="53.7" r="1.1" fill="#1e87c7"/><circle cx="599.5" cy="77.9" r="1.1" fill="#1d87c7"/><circle cx="593.6" cy="55.2" r="1.1" fill="#1d87c7"/><circle cx="594.3" cy="55.8" r="1.1" fill="#1d87c7"/><circle cx="585.8" cy="57.2" r="1.1" fill="#1d88c7"/><circle cx="584.2" cy="49.5" r="1.1" fill="#1d88c7"/><circle cx="599.6" cy="59.8" r="1.1" fill="#1d88c7"/><circle cx="611.0" cy="87.6" r="1.1" fill="#1d88c7"/><circle cx="591.5" cy="67.2" r="1.1" fill="#1d88c7"/><circle cx="608.3" cy="86.1" r="1.1" fill="#1d88c7"/><circle cx="584.0" cy="52.6" r="1.1" fill="#1d88c7"/><circle cx="591.1" cy="66.8" r="1.1" fill="#1d88c6"/><circle cx="610.4" cy="72.3" r="1.1" fill="#1d88c6"/><circle cx="607.1" cy="84.4" r="1.1" fill="#1d89c6"/><circle cx="594.4" cy="55.1" r="1.1" fill="#1d89c6"/><circle cx="610.2" cy="87.0" r="1.1" fill="#1d89c6"/><circle cx="613.7" cy="78.2" r="1.1" fill="#1d89c6"/><circle cx="614.7" cy="88.5" r="1.1" fill="#1d89c6"/><circle cx="601.9" cy="61.7" r="1.1" fill="#1c89c6"/><circle cx="602.1" cy="63.2" r="1.1" fill="#1c89c6"/><circle cx="591.4" cy="66.4" r="1.1" fill="#1c89c6"/><circle cx="590.5" cy="65.5" r="1.1" fill="#1c89c6"/><circle cx="607.7" cy="70.0" r="1.1" fill="#1c8ac6"/><circle cx="612.0" cy="75.3" r="1.1" fill="#1c8ac6"/><circle cx="585.8" cy="53.8" r="1.1" fill="#1c8ac6"/><circle cx="590.9" cy="66.5" r="1.1" fill="#1c8ac6"/><circle cx="599.7" cy="60.0" r="1.1" fill="#1b8bc6"/><circle cx="595.6" cy="72.3" r="1.1" fill="#1b8bc6"/><circle cx="594.7" cy="71.9" r="1.1" fill="#1b8bc6"/><circle cx="609.3" cy="85.6" r="1.1" fill="#1b8cc6"/><circle cx="600.4" cy="77.8" r="1.1" fill="#1b8cc6"/><circle cx="607.9" cy="69.6" r="1.1" fill="#1b8cc6"/><circle cx="606.7" cy="68.5" r="1.1" fill="#1a8dc6"/><circle cx="611.0" cy="74.8" r="1.1" fill="#1a8dc6"/><circle cx="584.5" cy="54.5" r="1.1" fill="#1a8dc6"/><circle cx="591.5" cy="67.4" r="1.1" fill="#1a8dc6"/><circle cx="587.2" cy="50.8" r="1.1" fill="#1a8dc6"/><circle cx="590.9" cy="54.0" r="1.1" fill="#1a8dc6"/><circle cx="585.0" cy="55.6" r="1.1" fill="#1a8ec6"/><circle cx="604.6" cy="82.7" r="1.1" fill="#1a8ec6"/><circle cx="601.2" cy="61.8" r="1.1" fill="#1a8ec6"/><circle cx="593.3" cy="68.9" r="1.1" fill="#198ec6"/><circle cx="588.2" cy="61.7" r="1.1" fill="#198fc6"/><circle cx="601.0" cy="77.8" r="1.1" fill="#198fc6"/><circle cx="617.8" cy="91.5" r="1.1" fill="#198fc6"/><circle cx="615.8" cy="88.9" r="1.1" fill="#1890c6"/><circle cx="587.8" cy="52.9" r="1.1" fill="#1890c6"/><circle cx="588.3" cy="62.8" r="1.1" fill="#1890c6"/><circle cx="584.1" cy="53.7" r="1.1" fill="#1890c6"/><circle cx="592.0" cy="67.4" r="1.1" fill="#1791c6"/><circle cx="588.2" cy="62.0" r="1.1" fill="#1791c6"/><circle cx="611.1" cy="74.2" r="1.1" fill="#1791c6"/><circle cx="595.2" cy="55.9" r="1.1" fill="#1792c6"/><circle cx="615.3" cy="82.5" r="1.1" fill="#1792c6"/><circle cx="611.2" cy="74.4" r="1.1" fill="#1792c6"/><circle cx="607.1" cy="69.2" r="1.1" fill="#1792c6"/><circle cx="612.6" cy="77.1" r="1.1" fill="#1792c6"/><circle cx="606.7" cy="83.8" r="1.1" fill="#1693c6"/><circle cx="608.5" cy="84.2" r="1.1" fill="#1693c6"/><circle cx="588.1" cy="52.1" r="1.1" fill="#1693c6"/><circle cx="607.2" cy="83.3" r="1.1" fill="#1693c6"/><circle cx="594.6" cy="71.4" r="1.1" fill="#1693c6"/><circle cx="588.1" cy="61.5" r="1.1" fill="#1693c6"/><circle cx="589.9" cy="65.0" r="1.1" fill="#1694c6"/><circle cx="596.6" cy="73.9" r="1.1" fill="#1594c6"/><circle cx="602.0" cy="62.6" r="1.1" fill="#1594c6"/><circle cx="595.7" cy="72.4" r="1.1" fill="#1594c6"/><circle cx="602.6" cy="63.7" r="1.1" fill="#1594c6"/><circle cx="612.1" cy="76.5" r="1.1" fill="#1595c6"/><circle cx="609.4" cy="72.4" r="1.1" fill="#1595c5"/><circle cx="615.4" cy="88.9" r="1.1" fill="#1595c5"/><circle cx="599.3" cy="60.1" r="1.1" fill="#1595c5"/><circle cx="614.6" cy="81.4" r="1.1" fill="#1596c5"/><circle cx="591.0" cy="65.2" r="1.1" fill="#1596c5"/><circle cx="604.8" cy="66.5" r="1.1" fill="#1596c5"/><circle cx="596.0" cy="56.9" r="1.1" fill="#1596c5"/><circle cx="594.8" cy="71.1" r="1.1" fill="#1596c5"/><circle cx="605.8" cy="82.2" r="1.1" fill="#1596c5"/><circle cx="616.2" cy="85.1" r="1.1" fill="#1596c5"/><circle cx="611.4" cy="86.9" r="1.1" fill="#1596c5"/><circle cx="586.6" cy="57.7" r="1.1" fill="#1497c5"/><circle cx="590.1" cy="53.5" r="1.1" fill="#1497c5"/><circle cx="599.7" cy="60.8" r="1.1" fill="#1497c5"/><circle cx="584.7" cy="53.0" r="1.1" fill="#1497c5"/><circle cx="589.6" cy="53.2" r="1.1" fill="#1498c5"/><circle cx="607.6" cy="69.9" r="1.1" fill="#1498c5"/><circle cx="604.8" cy="81.8" r="1.1" fill="#1498c5"/><circle cx="616.9" cy="88.1" r="1.1" fill="#1498c4"/><circle cx="589.9" cy="53.8" r="1.1" fill="#1498c4"/><circle cx="603.3" cy="80.0" r="1.1" fill="#1499c4"/><circle cx="587.2" cy="53.3" r="1.1" fill="#1499c4"/><circle cx="609.4" cy="84.7" r="1.1" fill="#1499c4"/><circle cx="585.8" cy="56.5" r="1.1" fill="#1499c4"/><circle cx="614.3" cy="87.2" r="1.1" fill="#1499c4"/><circle cx="613.8" cy="87.3" r="1.1" fill="#1499c4"/><circle cx="597.4" cy="58.5" r="1.1" fill="#1499c4"/><circle cx="608.8" cy="71.4" r="1.1" fill="#149bc3"/><circle cx="607.4" cy="69.2" r="1.1" fill="#149bc3"/><circle cx="589.6" cy="63.0" r="1.1" fill="#149bc3"/><circle cx="586.7" cy="58.1" r="1.1" fill="#149bc3"/><circle cx="594.1" cy="55.4" r="1.1" fill="#149bc3"/><circle cx="609.2" cy="85.4" r="1.1" fill="#149bc3"/><circle cx="596.8" cy="73.6" r="1.1" fill="#149cc3"/><circle cx="600.0" cy="76.8" r="1.1" fill="#149cc3"/><circle cx="591.8" cy="66.8" r="1.1" fill="#149cc2"/><circle cx="591.8" cy="67.2" r="1.1" fill="#149cc2"/><circle cx="592.3" cy="66.7" r="1.1" fill="#149cc2"/><circle cx="593.9" cy="70.7" r="1.1" fill="#149cc2"/><circle cx="603.2" cy="80.6" r="1.1" fill="#149cc2"/><circle cx="615.4" cy="84.9" r="1.1" fill="#149cc2"/><circle cx="607.3" cy="69.9" r="1.1" fill="#149cc2"/><circle cx="612.7" cy="86.4" r="1.1" fill="#149dc2"/><circle cx="587.4" cy="56.0" r="1.1" fill="#149dc1"/><circle cx="598.6" cy="60.2" r="1.1" fill="#149dc1"/><circle cx="590.7" cy="64.8" r="1.1" fill="#149dc1"/><circle cx="609.5" cy="72.3" r="1.1" fill="#149dc1"/><circle cx="611.8" cy="77.6" r="1.1" fill="#149dc1"/><circle cx="608.3" cy="71.3" r="1.1" fill="#149dc1"/><circle cx="597.7" cy="74.1" r="1.1" fill="#149ec1"/><circle cx="604.8" cy="66.4" r="1.1" fill="#149ec0"/><circle cx="614.4" cy="82.6" r="1.1" fill="#149ec0"/><circle cx="597.8" cy="59.7" r="1.1" fill="#149fc0"/><circle cx="587.6" cy="53.4" r="1.1" fill="#149fc0"/><circle cx="590.3" cy="64.5" r="1.1" fill="#149fc0"/><circle cx="586.0" cy="51.3" r="1.1" fill="#149fc0"/><circle cx="587.5" cy="57.1" r="1.1" fill="#149fc0"/><circle cx="605.5" cy="82.5" r="1.1" fill="#149fc0"/><circle cx="604.3" cy="66.5" r="1.1" fill="#149fbf"/><circle cx="611.4" cy="75.1" r="1.1" fill="#14a0bf"/><circle cx="587.4" cy="55.8" r="1.1" fill="#14a0bf"/><circle cx="598.4" cy="60.7" r="1.1" fill="#14a0bf"/><circle cx="586.4" cy="55.7" r="1.1" fill="#14a0be"/><circle cx="589.4" cy="54.0" r="1.1" fill="#14a0be"/><circle cx="587.4" cy="58.6" r="1.1" fill="#14a0be"/><circle cx="609.8" cy="84.7" r="1.1" fill="#14a1bd"/><circle cx="613.1" cy="78.9" r="1.1" fill="#14a1bd"/><circle cx="591.9" cy="54.6" r="1.1" fill="#14a1bd"/><circle cx="603.1" cy="80.1" r="1.1" fill="#14a1bd"/><circle cx="587.6" cy="59.4" r="1.1" fill="#14a1bd"/><circle cx="602.3" cy="63.9" r="1.1" fill="#14a1bd"/><circle cx="602.8" cy="64.5" r="1.1" fill="#14a2bd"/><circle cx="602.4" cy="64.2" r="1.1" fill="#14a2bd"/><circle cx="589.1" cy="61.9" r="1.1" fill="#14a2bd"/><circle cx="613.4" cy="79.6" r="1.1" fill="#14a2bd"/><circle cx="612.4" cy="77.1" r="1.1" fill="#14a2bd"/><circle cx="598.0" cy="74.0" r="1.1" fill="#14a2bc"/><circle cx="604.2" cy="66.6" r="1.1" fill="#14a2bc"/><circle cx="605.8" cy="81.6" r="1.1" fill="#14a2bc"/><circle cx="601.3" cy="77.8" r="1.1" fill="#14a2bc"/><circle cx="603.4" cy="64.6" r="1.1" fill="#14a2bc"/><circle cx="590.9" cy="54.2" r="1.1" fill="#14a2bc"/><circle cx="613.8" cy="80.7" r="1.1" fill="#14a2bc"/><circle cx="612.0" cy="78.6" r="1.1" fill="#14a2bc"/><circle cx="597.2" cy="73.1" r="1.1" fill="#14a2bb"/><circle cx="606.7" cy="69.3" r="1.1" fill="#14a3bb"/><circle cx="604.5" cy="80.8" r="1.1" fill="#14a3bb"/><circle cx="594.0" cy="70.5" r="1.1" fill="#14a3bb"/><circle cx="587.1" cy="54.6" r="1.1" fill="#14a3bb"/><circle cx="613.8" cy="86.6" r="1.1" fill="#15a3ba"/><circle cx="600.8" cy="77.6" r="1.1" fill="#15a3ba"/><circle cx="602.9" cy="64.5" r="1.1" fill="#15a3ba"/><circle cx="587.1" cy="58.3" r="1.1" fill="#15a3ba"/><circle cx="597.0" cy="72.9" r="1.1" fill="#15a3ba"/><circle cx="603.6" cy="80.2" r="1.1" fill="#15a4ba"/><circle cx="613.3" cy="80.6" r="1.1" fill="#15a4ba"/><circle cx="605.3" cy="67.5" r="1.1" fill="#15a4ba"/><circle cx="601.2" cy="63.4" r="1.1" fill="#15a4b9"/><circle cx="590.3" cy="62.9" r="1.1" fill="#15a4b9"/><circle cx="602.3" cy="78.3" r="1.1" fill="#15a4b9"/><circle cx="588.8" cy="60.9" r="1.1" fill="#15a4b9"/><circle cx="586.0" cy="54.2" r="1.1" fill="#15a4b9"/><circle cx="596.7" cy="58.6" r="1.1" fill="#15a4b9"/><circle cx="614.1" cy="79.6" r="1.1" fill="#15a4b9"/><circle cx="590.5" cy="54.3" r="1.1" fill="#15a4b9"/><circle cx="614.6" cy="82.7" r="1.1" fill="#16a5b9"/><circle cx="588.0" cy="59.5" r="1.1" fill="#16a5b9"/><circle cx="598.2" cy="61.0" r="1.1" fill="#16a5b8"/><circle cx="602.7" cy="78.9" r="1.1" fill="#16a5b8"/><circle cx="588.8" cy="54.3" r="1.1" fill="#16a5b8"/><circle cx="592.3" cy="66.7" r="1.1" fill="#16a5b8"/><circle cx="612.3" cy="83.3" r="1.1" fill="#16a5b8"/><circle cx="606.2" cy="81.3" r="1.1" fill="#16a5b8"/><circle cx="597.6" cy="60.2" r="1.1" fill="#16a5b8"/><circle cx="592.4" cy="67.2" r="1.1" fill="#16a5b8"/><circle cx="605.8" cy="68.7" r="1.1" fill="#17a6b7"/><circle cx="604.8" cy="67.2" r="1.1" fill="#17a6b6"/><circle cx="597.8" cy="60.5" r="1.1" fill="#17a6b6"/><circle cx="609.0" cy="84.6" r="1.1" fill="#18a7b6"/><circle cx="587.2" cy="58.0" r="1.1" fill="#18a7b5"/><circle cx="590.1" cy="62.6" r="1.1" fill="#19a7b5"/><circle cx="601.6" cy="78.5" r="1.1" fill="#19a7b5"/><circle cx="587.3" cy="56.5" r="1.1" fill="#19a7b5"/><circle cx="603.1" cy="79.6" r="1.1" fill="#1aa7b4"/><circle cx="613.7" cy="85.1" r="1.1" fill="#1aa7b4"/><circle cx="606.1" cy="83.1" r="1.1" fill="#1aa7b4"/><circle cx="609.7" cy="72.7" r="1.1" fill="#1aa8b4"/><circle cx="587.8" cy="59.6" r="1.1" fill="#1aa8b4"/><circle cx="587.8" cy="57.0" r="1.1" fill="#1aa8b4"/><circle cx="613.6" cy="82.9" r="1.1" fill="#1aa8b4"/><circle cx="588.0" cy="54.9" r="1.1" fill="#1ba8b4"/><circle cx="589.2" cy="58.3" r="1.1" fill="#1ba8b4"/><circle cx="589.5" cy="62.7" r="1.1" fill="#1ba8b4"/><circle cx="596.1" cy="72.0" r="1.1" fill="#1ba8b4"/><circle cx="591.5" cy="65.6" r="1.1" fill="#1ba8b3"/><circle cx="600.2" cy="62.2" r="1.1" fill="#1ba8b3"/><circle cx="590.2" cy="54.8" r="1.1" fill="#1ba8b3"/><circle cx="588.4" cy="59.3" r="1.1" fill="#1ba8b3"/><circle cx="592.9" cy="55.3" r="1.1" fill="#1ca8b3"/><circle cx="606.1" cy="69.1" r="1.1" fill="#1ca8b3"/><circle cx="591.1" cy="65.0" r="1.1" fill="#1da9b2"/><circle cx="588.0" cy="54.8" r="1.1" fill="#1da9b2"/><circle cx="591.3" cy="55.4" r="1.1" fill="#1da9b2"/><circle cx="612.4" cy="85.2" r="1.1" fill="#1da9b2"/><circle cx="606.7" cy="70.2" r="1.1" fill="#1da9b2"/><circle cx="601.0" cy="76.6" r="1.1" fill="#1da9b2"/><circle cx="608.8" cy="83.6" r="1.1" fill="#1da9b2"/><circle cx="595.0" cy="58.1" r="1.1" fill="#1da9b2"/><circle cx="589.8" cy="63.2" r="1.1" fill="#1ea9b1"/><circle cx="614.4" cy="82.7" r="1.1" fill="#1eaab1"/><circle cx="603.3" cy="79.2" r="1.1" fill="#1faab1"/><circle cx="603.6" cy="79.8" r="1.1" fill="#1faab1"/><circle cx="613.7" cy="83.7" r="1.1" fill="#1faab1"/><circle cx="603.4" cy="66.1" r="1.1" fill="#1faab1"/><circle cx="603.8" cy="65.9" r="1.1" fill="#1faab0"/><circle cx="596.1" cy="71.3" r="1.1" fill="#1faab0"/><circle cx="605.3" cy="67.6" r="1.1" fill="#1faab0"/><circle cx="598.5" cy="60.9" r="1.1" fill="#1faab0"/><circle cx="592.8" cy="67.6" r="1.1" fill="#20aab0"/><circle cx="603.8" cy="67.2" r="1.1" fill="#20aab0"/><circle cx="588.6" cy="55.0" r="1.1" fill="#20aab0"/><circle cx="587.6" cy="54.8" r="1.1" fill="#20aab0"/><circle cx="598.5" cy="73.9" r="1.1" fill="#20aab0"/><circle cx="613.0" cy="82.4" r="1.1" fill="#21abaf"/><circle cx="612.1" cy="84.7" r="1.1" fill="#22abaf"/><circle cx="590.0" cy="62.9" r="1.1" fill="#24abae"/><circle cx="589.0" cy="58.7" r="1.1" fill="#25acad"/><circle cx="603.9" cy="67.3" r="1.1" fill="#26acac"/><circle cx="593.3" cy="67.6" r="1.1" fill="#26acac"/><circle cx="589.9" cy="62.5" r="1.1" fill="#26acac"/><circle cx="612.8" cy="81.9" r="1.1" fill="#26acac"/><circle cx="590.5" cy="56.1" r="1.1" fill="#26acac"/><circle cx="589.3" cy="57.7" r="1.1" fill="#27adac"/><circle cx="600.1" cy="76.2" r="1.1" fill="#27adab"/><circle cx="606.2" cy="69.3" r="1.1" fill="#28adab"/><circle cx="602.7" cy="65.0" r="1.1" fill="#28adab"/><circle cx="591.7" cy="65.5" r="1.1" fill="#28adab"/><circle cx="602.0" cy="78.0" r="1.1" fill="#29adaa"/><circle cx="601.2" cy="63.7" r="1.1" fill="#29adaa"/><circle cx="611.2" cy="82.3" r="1.1" fill="#29adaa"/><circle cx="613.5" cy="81.5" r="1.1" fill="#29adaa"/><circle cx="589.1" cy="54.7" r="1.1" fill="#2aaeaa"/><circle cx="605.9" cy="69.5" r="1.1" fill="#2aaeaa"/><circle cx="612.1" cy="82.7" r="1.1" fill="#2aaeaa"/><circle cx="589.1" cy="56.1" r="1.1" fill="#2aaeaa"/><circle cx="588.8" cy="60.3" r="1.1" fill="#2baea9"/><circle cx="588.8" cy="55.3" r="1.1" fill="#2baea9"/><circle cx="612.0" cy="84.5" r="1.1" fill="#2baea9"/><circle cx="603.8" cy="79.3" r="1.1" fill="#2daea8"/><circle cx="589.8" cy="59.7" r="1.1" fill="#2daea8"/><circle cx="612.1" cy="78.1" r="1.1" fill="#2daea8"/><circle cx="605.0" cy="80.2" r="1.1" fill="#2daea8"/><circle cx="596.9" cy="60.1" r="1.1" fill="#2daea8"/><circle cx="588.5" cy="58.9" r="1.1" fill="#2dafa8"/><circle cx="599.6" cy="75.3" r="1.1" fill="#2eafa8"/><circle cx="612.5" cy="82.2" r="1.1" fill="#2eafa7"/><circle cx="591.0" cy="63.5" r="1.1" fill="#2eafa7"/><circle cx="604.0" cy="79.5" r="1.1" fill="#2eafa7"/><circle cx="610.6" cy="83.7" r="1.1" fill="#2eafa7"/><circle cx="597.2" cy="60.3" r="1.1" fill="#2fafa7"/><circle cx="610.5" cy="84.5" r="1.1" fill="#30afa6"/><circle cx="595.6" cy="71.8" r="1.1" fill="#31b0a6"/><circle cx="592.7" cy="56.3" r="1.1" fill="#32b0a5"/><circle cx="590.2" cy="63.2" r="1.1" fill="#33b0a4"/><circle cx="588.1" cy="58.5" r="1.1" fill="#33b0a4"/><circle cx="588.3" cy="58.2" r="1.1" fill="#34b0a4"/><circle cx="590.4" cy="55.5" r="1.1" fill="#34b0a4"/><circle cx="592.4" cy="56.0" r="1.1" fill="#35b1a3"/><circle cx="595.7" cy="70.4" r="1.1" fill="#35b1a3"/><circle cx="611.3" cy="83.1" r="1.1" fill="#35b1a3"/><circle cx="590.1" cy="62.4" r="1.1" fill="#36b1a3"/><circle cx="601.0" cy="76.0" r="1.1" fill="#37b1a2"/><circle cx="601.4" cy="64.7" r="1.1" fill="#37b1a2"/><circle cx="592.8" cy="56.8" r="1.1" fill="#38b1a2"/><circle cx="610.3" cy="83.5" r="1.1" fill="#38b1a2"/><circle cx="610.3" cy="76.8" r="1.1" fill="#39b2a1"/><circle cx="588.9" cy="59.6" r="1.1" fill="#3ab2a1"/><circle cx="590.8" cy="56.1" r="1.1" fill="#3bb2a0"/><circle cx="608.9" cy="73.3" r="1.1" fill="#3cb2a0"/><circle cx="592.7" cy="66.9" r="1.1" fill="#3cb2a0"/><circle cx="601.9" cy="64.7" r="1.1" fill="#3cb29f"/><circle cx="611.1" cy="76.8" r="1.1" fill="#3db39f"/><circle cx="590.5" cy="63.5" r="1.1" fill="#3db39f"/><circle cx="611.5" cy="83.3" r="1.1" fill="#3fb39e"/><circle cx="594.3" cy="68.6" r="1.1" fill="#40b39d"/><circle cx="610.9" cy="82.8" r="1.1" fill="#41b49d"/><circle cx="596.6" cy="71.8" r="1.1" fill="#41b49d"/><circle cx="612.8" cy="83.1" r="1.1" fill="#41b49c"/><circle cx="590.2" cy="59.9" r="1.1" fill="#42b49c"/><circle cx="599.0" cy="62.1" r="1.1" fill="#42b49c"/><circle cx="607.2" cy="81.7" r="1.1" fill="#42b49c"/><circle cx="591.3" cy="63.7" r="1.1" fill="#43b49c"/><circle cx="590.3" cy="62.5" r="1.1" fill="#43b49b"/><circle cx="598.2" cy="61.2" r="1.1" fill="#43b49b"/><circle cx="592.2" cy="56.8" r="1.1" fill="#44b49b"/><circle cx="588.4" cy="59.9" r="1.1" fill="#44b49b"/><circle cx="598.0" cy="73.4" r="1.1" fill="#44b49b"/><circle cx="598.3" cy="73.1" r="1.1" fill="#45b49b"/><circle cx="606.4" cy="70.6" r="1.1" fill="#45b49b"/><circle cx="589.3" cy="57.8" r="1.1" fill="#45b59a"/><circle cx="597.3" cy="72.2" r="1.1" fill="#46b59a"/><circle cx="608.6" cy="73.6" r="1.1" fill="#46b59a"/><circle cx="605.1" cy="68.8" r="1.1" fill="#47b59a"/><circle cx="611.1" cy="76.6" r="1.1" fill="#47b59a"/><circle cx="596.3" cy="59.2" r="1.1" fill="#48b599"/><circle cx="611.4" cy="80.3" r="1.1" fill="#48b599"/><circle cx="595.9" cy="70.6" r="1.1" fill="#4ab598"/><circle cx="597.9" cy="62.0" r="1.1" fill="#4ab598"/><circle cx="609.4" cy="75.3" r="1.1" fill="#4ab598"/><circle cx="601.4" cy="64.9" r="1.1" fill="#4ab698"/><circle cx="590.5" cy="62.5" r="1.1" fill="#4ab698"/><circle cx="599.8" cy="62.6" r="1.1" fill="#4bb698"/><circle cx="610.1" cy="82.1" r="1.1" fill="#4bb697"/><circle cx="607.8" cy="71.7" r="1.1" fill="#4bb697"/><circle cx="610.3" cy="84.0" r="1.1" fill="#4eb696"/><circle cx="590.6" cy="58.8" r="1.1" fill="#4fb696"/><circle cx="611.4" cy="81.9" r="1.1" fill="#4fb695"/><circle cx="608.3" cy="81.7" r="1.1" fill="#50b695"/><circle cx="601.5" cy="64.6" r="1.1" fill="#50b695"/><circle cx="603.1" cy="78.3" r="1.1" fill="#50b795"/><circle cx="600.7" cy="76.0" r="1.1" fill="#50b795"/><circle cx="594.4" cy="68.4" r="1.1" fill="#51b795"/><circle cx="602.2" cy="77.0" r="1.1" fill="#51b794"/><circle cx="606.1" cy="81.2" r="1.1" fill="#52b794"/><circle cx="599.3" cy="74.5" r="1.1" fill="#52b794"/><circle cx="598.0" cy="73.4" r="1.1" fill="#52b794"/><circle cx="591.1" cy="62.8" r="1.1" fill="#52b794"/><circle cx="604.5" cy="79.3" r="1.1" fill="#53b794"/><circle cx="602.4" cy="65.8" r="1.1" fill="#53b794"/><circle cx="597.9" cy="61.3" r="1.1" fill="#55b793"/><circle cx="603.3" cy="78.3" r="1.1" fill="#55b793"/><circle cx="605.6" cy="70.1" r="1.1" fill="#56b892"/><circle cx="600.0" cy="74.7" r="1.1" fill="#56b892"/><circle cx="611.3" cy="78.2" r="1.1" fill="#56b892"/><circle cx="606.5" cy="70.7" r="1.1" fill="#58b891"/><circle cx="590.5" cy="56.0" r="1.1" fill="#58b891"/><circle cx="607.1" cy="81.7" r="1.1" fill="#59b891"/><circle cx="590.0" cy="60.7" r="1.1" fill="#5bb890"/><circle cx="601.0" cy="76.3" r="1.1" fill="#5bb890"/><circle cx="590.1" cy="61.5" r="1.1" fill="#5bb890"/><circle cx="595.8" cy="69.7" r="1.1" fill="#5eb98e"/><circle cx="599.4" cy="62.9" r="1.1" fill="#5fb98e"/><circle cx="609.9" cy="83.1" r="1.1" fill="#5fb98e"/><circle cx="590.6" cy="62.0" r="1.1" fill="#60b98d"/><circle cx="595.7" cy="69.5" r="1.1" fill="#62b98d"/><circle cx="610.2" cy="81.5" r="1.1" fill="#62b98d"/><circle cx="590.9" cy="56.1" r="1.1" fill="#62b98d"/><circle cx="602.1" cy="65.3" r="1.1" fill="#64b98c"/><circle cx="591.2" cy="62.3" r="1.1" fill="#64b98c"/><circle cx="612.2" cy="82.1" r="1.1" fill="#65b98b"/><circle cx="599.7" cy="74.4" r="1.1" fill="#66ba8b"/><circle cx="590.8" cy="59.6" r="1.1" fill="#66ba8b"/><circle cx="598.0" cy="61.8" r="1.1" fill="#67ba8a"/><circle cx="591.8" cy="57.0" r="1.1" fill="#68ba8a"/><circle cx="609.7" cy="82.5" r="1.1" fill="#68ba8a"/><circle cx="589.6" cy="59.6" r="1.1" fill="#6aba89"/><circle cx="605.7" cy="70.1" r="1.1" fill="#6bba89"/><circle cx="593.0" cy="58.0" r="1.1" fill="#6cba88"/><circle cx="594.8" cy="59.3" r="1.1" fill="#6cba88"/><circle cx="609.5" cy="76.3" r="1.1" fill="#6dba88"/><circle cx="593.6" cy="67.4" r="1.1" fill="#6dba88"/><circle cx="595.2" cy="68.8" r="1.1" fill="#6dba88"/><circle cx="590.5" cy="62.1" r="1.1" fill="#6eba88"/><circle cx="607.8" cy="81.0" r="1.1" fill="#6eba88"/><circle cx="607.4" cy="80.3" r="1.1" fill="#6fbb87"/><circle cx="605.0" cy="69.4" r="1.1" fill="#6fbb87"/><circle cx="595.1" cy="59.5" r="1.1" fill="#70bb87"/><circle cx="599.1" cy="73.8" r="1.1" fill="#71bb86"/><circle cx="608.9" cy="74.6" r="1.1" fill="#71bb86"/><circle cx="597.6" cy="61.4" r="1.1" fill="#71bb86"/><circle cx="596.7" cy="70.6" r="1.1" fill="#71bb86"/><circle cx="592.9" cy="58.6" r="1.1" fill="#71bb86"/><circle cx="602.8" cy="67.1" r="1.1" fill="#71bb86"/><circle cx="604.7" cy="79.5" r="1.1" fill="#72bb86"/><circle cx="605.4" cy="79.6" r="1.1" fill="#73bb85"/><circle cx="603.2" cy="67.2" r="1.1" fill="#74bb85"/><circle cx="591.3" cy="62.7" r="1.1" fill="#75bb85"/><circle cx="603.1" cy="78.0" r="1.1" fill="#75bb85"/><circle cx="608.2" cy="74.1" r="1.1" fill="#76bb84"/><circle cx="593.7" cy="66.8" r="1.1" fill="#77bb84"/><circle cx="601.5" cy="65.1" r="1.1" fill="#78bb84"/><circle cx="596.2" cy="60.2" r="1.1" fill="#78bb84"/><circle cx="605.9" cy="69.8" r="1.1" fill="#78bb84"/><circle cx="592.1" cy="64.8" r="1.1" fill="#79bb83"/><circle cx="607.1" cy="81.6" r="1.1" fill="#79bb83"/><circle cx="596.5" cy="70.7" r="1.1" fill="#79bb83"/><circle cx="595.2" cy="69.6" r="1.1" fill="#7abb83"/><circle cx="608.3" cy="73.4" r="1.1" fill="#7abb83"/><circle cx="607.8" cy="81.1" r="1.1" fill="#7bbb83"/><circle cx="595.7" cy="60.4" r="1.1" fill="#7cbb82"/><circle cx="597.5" cy="71.9" r="1.1" fill="#7cbb82"/><circle cx="593.1" cy="65.5" r="1.1" fill="#7dbb82"/><circle cx="604.1" cy="78.8" r="1.1" fill="#7ebc81"/><circle cx="610.9" cy="82.0" r="1.1" fill="#7ebc81"/><circle cx="606.3" cy="80.2" r="1.1" fill="#81bc80"/><circle cx="599.3" cy="73.7" r="1.1" fill="#82bc80"/><circle cx="608.5" cy="74.2" r="1.1" fill="#82bc80"/><circle cx="609.8" cy="78.0" r="1.1" fill="#82bc80"/><circle cx="608.4" cy="74.0" r="1.1" fill="#83bc7f"/><circle cx="600.6" cy="64.1" r="1.1" fill="#84bc7f"/><circle cx="608.7" cy="74.1" r="1.1" fill="#84bc7f"/><circle cx="596.5" cy="61.1" r="1.1" fill="#85bc7f"/><circle cx="591.4" cy="60.0" r="1.1" fill="#85bc7f"/><circle cx="610.3" cy="79.1" r="1.1" fill="#86bc7e"/><circle cx="605.3" cy="79.1" r="1.1" fill="#86bc7e"/><circle cx="599.5" cy="73.7" r="1.1" fill="#87bc7e"/><circle cx="593.7" cy="58.9" r="1.1" fill="#87bc7e"/><circle cx="610.8" cy="79.8" r="1.1" fill="#87bc7e"/><circle cx="594.8" cy="69.0" r="1.1" fill="#88bc7d"/><circle cx="604.2" cy="68.1" r="1.1" fill="#89bc7d"/><circle cx="592.9" cy="59.4" r="1.1" fill="#89bc7d"/><circle cx="595.2" cy="68.9" r="1.1" fill="#89bc7d"/><circle cx="606.3" cy="70.3" r="1.1" fill="#89bc7d"/><circle cx="609.4" cy="75.9" r="1.1" fill="#8abc7d"/><circle cx="599.9" cy="74.8" r="1.1" fill="#8abc7d"/><circle cx="598.8" cy="62.5" r="1.1" fill="#8abc7d"/><circle cx="595.2" cy="69.0" r="1.1" fill="#8bbc7d"/><circle cx="609.0" cy="79.5" r="1.1" fill="#8bbc7c"/><circle cx="606.0" cy="79.8" r="1.1" fill="#8cbc7c"/><circle cx="594.9" cy="59.6" r="1.1" fill="#8cbc7c"/><circle cx="602.0" cy="77.0" r="1.1" fill="#8dbc7c"/><circle cx="596.8" cy="71.0" r="1.1" fill="#8dbc7c"/><circle cx="590.7" cy="61.5" r="1.1" fill="#8ebc7b"/><circle cx="590.3" cy="60.3" r="1.1" fill="#8ebc7b"/><circle cx="593.6" cy="65.9" r="1.1" fill="#8ebc7b"/><circle cx="610.0" cy="77.5" r="1.1" fill="#8fbc7b"/><circle cx="592.4" cy="63.7" r="1.1" fill="#8fbc7b"/><circle cx="594.3" cy="67.4" r="1.1" fill="#90bc7b"/><circle cx="606.6" cy="71.4" r="1.1" fill="#90bc7b"/><circle cx="593.5" cy="65.8" r="1.1" fill="#90bc7b"/><circle cx="600.6" cy="65.0" r="1.1" fill="#91bc7a"/><circle cx="606.5" cy="71.3" r="1.1" fill="#92bc7a"/><circle cx="607.2" cy="80.8" r="1.1" fill="#93bc7a"/><circle cx="602.4" cy="66.9" r="1.1" fill="#94bc79"/><circle cx="601.3" cy="65.6" r="1.1" fill="#94bc79"/><circle cx="602.8" cy="77.2" r="1.1" fill="#95bc79"/><circle cx="608.6" cy="75.2" r="1.1" fill="#96bc79"/><circle cx="607.6" cy="74.1" r="1.1" fill="#97bc78"/><circle cx="593.1" cy="65.4" r="1.1" fill="#97bc78"/><circle cx="592.3" cy="58.9" r="1.1" fill="#97bc78"/><circle cx="599.6" cy="63.1" r="1.1" fill="#97bc78"/><circle cx="607.2" cy="80.2" r="1.1" fill="#98bc78"/><circle cx="596.9" cy="71.1" r="1.1" fill="#98bc78"/><circle cx="595.2" cy="59.8" r="1.1" fill="#99bc77"/><circle cx="609.2" cy="76.2" r="1.1" fill="#99bc77"/><circle cx="604.5" cy="69.4" r="1.1" fill="#9abc77"/><circle cx="592.3" cy="59.6" r="1.1" fill="#9bbc77"/><circle cx="592.8" cy="58.9" r="1.1" fill="#9bbc77"/><circle cx="604.9" cy="69.8" r="1.1" fill="#9bbc77"/><circle cx="591.4" cy="62.1" r="1.1" fill="#9cbc76"/><circle cx="607.5" cy="73.1" r="1.1" fill="#9dbc76"/><circle cx="600.0" cy="64.2" r="1.1" fill="#9dbc76"/><circle cx="608.5" cy="75.6" r="1.1" fill="#9dbc76"/><circle cx="594.7" cy="68.2" r="1.1" fill="#9dbc76"/><circle cx="592.5" cy="64.4" r="1.1" fill="#9ebc76"/><circle cx="594.0" cy="66.5" r="1.1" fill="#9ebc76"/><circle cx="602.9" cy="76.9" r="1.1" fill="#9fbc75"/><circle cx="596.0" cy="61.1" r="1.1" fill="#9fbc75"/><circle cx="607.0" cy="79.1" r="1.1" fill="#9fbc75"/><circle cx="591.3" cy="59.2" r="1.1" fill="#9fbc75"/><circle cx="605.3" cy="78.7" r="1.1" fill="#9fbc75"/><circle cx="608.3" cy="81.0" r="1.1" fill="#a0bc75"/><circle cx="609.9" cy="78.6" r="1.1" fill="#a0bc75"/><circle cx="602.1" cy="75.9" r="1.1" fill="#a1bc75"/><circle cx="593.7" cy="65.5" r="1.1" fill="#a3bc74"/><circle cx="597.0" cy="62.5" r="1.1" fill="#a5bc73"/><circle cx="594.6" cy="67.1" r="1.1" fill="#a5bc73"/><circle cx="594.1" cy="59.4" r="1.1" fill="#a5bc73"/><circle cx="597.6" cy="71.3" r="1.1" fill="#a5bc73"/><circle cx="590.9" cy="59.0" r="1.1" fill="#a6bc73"/><circle cx="608.1" cy="73.9" r="1.1" fill="#a6bc73"/><circle cx="600.3" cy="64.4" r="1.1" fill="#a6bc73"/><circle cx="610.9" cy="80.7" r="1.1" fill="#a7bc72"/><circle cx="596.8" cy="70.1" r="1.1" fill="#a7bc72"/><circle cx="595.4" cy="68.8" r="1.1" fill="#a8bc72"/><circle cx="594.2" cy="60.9" r="1.1" fill="#a8bc72"/><circle cx="603.3" cy="77.6" r="1.1" fill="#a9bc72"/><circle cx="607.1" cy="79.7" r="1.1" fill="#a9bc72"/><circle cx="592.3" cy="60.6" r="1.1" fill="#a9bc72"/><circle cx="599.8" cy="74.1" r="1.1" fill="#aabc71"/><circle cx="609.1" cy="76.0" r="1.1" fill="#aabc71"/><circle cx="606.8" cy="80.1" r="1.1" fill="#abbc71"/><circle cx="604.8" cy="69.4" r="1.1" fill="#abbc71"/><circle cx="596.8" cy="61.8" r="1.1" fill="#acbc71"/><circle cx="602.2" cy="66.9" r="1.1" fill="#acbc70"/><circle cx="608.4" cy="81.2" r="1.1" fill="#adbc70"/><circle cx="607.5" cy="73.8" r="1.1" fill="#adbc70"/><circle cx="596.4" cy="62.1" r="1.1" fill="#aebc70"/><circle cx="596.3" cy="69.3" r="1.1" fill="#afbc70"/><circle cx="596.1" cy="70.3" r="1.1" fill="#b0bc6f"/><circle cx="592.2" cy="62.4" r="1.1" fill="#b1bc6f"/><circle cx="596.3" cy="62.1" r="1.1" fill="#b1bc6f"/><circle cx="592.8" cy="59.6" r="1.1" fill="#b1bc6f"/><circle cx="596.7" cy="70.3" r="1.1" fill="#b2bc6e"/><circle cx="607.3" cy="79.9" r="1.1" fill="#b3bc6e"/><circle cx="594.9" cy="67.3" r="1.1" fill="#b4bc6e"/><circle cx="597.8" cy="70.5" r="1.1" fill="#b7bc6d"/><circle cx="609.6" cy="78.6" r="1.1" fill="#b8bb6c"/><circle cx="592.2" cy="61.2" r="1.1" fill="#b8bb6c"/><circle cx="595.2" cy="68.1" r="1.1" fill="#b9bb6c"/><circle cx="605.0" cy="78.2" r="1.1" fill="#b9bb6c"/><circle cx="605.2" cy="70.9" r="1.1" fill="#babb6c"/><circle cx="606.9" cy="73.3" r="1.1" fill="#babb6c"/><circle cx="596.8" cy="70.2" r="1.1" fill="#babb6c"/><circle cx="605.5" cy="78.9" r="1.1" fill="#babb6b"/><circle cx="594.9" cy="60.4" r="1.1" fill="#bbbb6b"/><circle cx="600.7" cy="74.5" r="1.1" fill="#bcbb6b"/><circle cx="595.7" cy="61.3" r="1.1" fill="#bcbb6b"/><circle cx="606.9" cy="78.7" r="1.1" fill="#bcbb6b"/><circle cx="593.9" cy="60.1" r="1.1" fill="#bdbb6a"/><circle cx="607.6" cy="80.0" r="1.1" fill="#bdbb6a"/><circle cx="602.5" cy="67.5" r="1.1" fill="#bdbb6a"/><circle cx="608.4" cy="79.8" r="1.1" fill="#bdbb6a"/><circle cx="597.3" cy="70.4" r="1.1" fill="#bdbb6a"/><circle cx="607.3" cy="73.6" r="1.1" fill="#bdbb6a"/><circle cx="596.4" cy="69.4" r="1.1" fill="#bebb6a"/><circle cx="609.7" cy="78.4" r="1.1" fill="#bebb6a"/><circle cx="600.0" cy="73.8" r="1.1" fill="#bfbb6a"/><circle cx="596.8" cy="70.0" r="1.1" fill="#bfbb6a"/><circle cx="599.6" cy="73.4" r="1.1" fill="#c0bb6a"/><circle cx="595.6" cy="68.6" r="1.1" fill="#c1bb69"/><circle cx="604.4" cy="69.8" r="1.1" fill="#c3bb68"/><circle cx="608.1" cy="79.0" r="1.1" fill="#c4bb68"/><circle cx="599.0" cy="63.9" r="1.1" fill="#c4bb68"/><circle cx="592.5" cy="63.2" r="1.1" fill="#c4bb68"/><circle cx="593.1" cy="59.6" r="1.1" fill="#c5bb68"/><circle cx="608.6" cy="78.8" r="1.1" fill="#c5bb68"/><circle cx="592.4" cy="60.8" r="1.1" fill="#c7bb67"/><circle cx="601.8" cy="75.8" r="1.1" fill="#c8bb67"/><circle cx="599.8" cy="64.3" r="1.1" fill="#c8bb67"/><circle cx="593.1" cy="63.6" r="1.1" fill="#c8bb67"/><circle cx="595.9" cy="61.8" r="1.1" fill="#c8bb66"/><circle cx="607.6" cy="74.3" r="1.1" fill="#c8bb66"/><circle cx="607.0" cy="79.2" r="1.1" fill="#c9bb66"/><circle cx="593.6" cy="60.4" r="1.1" fill="#cabb66"/><circle cx="608.1" cy="76.1" r="1.1" fill="#cbba65"/><circle cx="608.0" cy="76.8" r="1.1" fill="#cbba65"/><circle cx="607.5" cy="75.2" r="1.1" fill="#cbba65"/><circle cx="594.2" cy="60.4" r="1.1" fill="#cbba65"/><circle cx="601.3" cy="65.9" r="1.1" fill="#ccba65"/><circle cx="607.6" cy="79.9" r="1.1" fill="#ccba65"/><circle cx="596.5" cy="69.6" r="1.1" fill="#cdba65"/><circle cx="600.5" cy="65.5" r="1.1" fill="#cdba65"/><circle cx="593.4" cy="63.3" r="1.1" fill="#cdba64"/><circle cx="604.7" cy="77.2" r="1.1" fill="#ceba64"/><circle cx="597.8" cy="63.2" r="1.1" fill="#ceba64"/><circle cx="600.0" cy="72.8" r="1.1" fill="#ceba64"/><circle cx="608.8" cy="78.9" r="1.1" fill="#ceba64"/><circle cx="592.9" cy="60.4" r="1.1" fill="#cfba64"/><circle cx="606.7" cy="79.0" r="1.1" fill="#cfba64"/><circle cx="605.4" cy="77.5" r="1.1" fill="#cfba64"/><circle cx="605.6" cy="71.4" r="1.1" fill="#cfba64"/><circle cx="608.0" cy="78.6" r="1.1" fill="#d0ba64"/><circle cx="605.3" cy="77.7" r="1.1" fill="#d0ba63"/><circle cx="605.7" cy="72.0" r="1.1" fill="#d1ba63"/><circle cx="606.8" cy="78.2" r="1.1" fill="#d2ba63"/><circle cx="608.0" cy="76.9" r="1.1" fill="#d2ba63"/><circle cx="600.0" cy="64.6" r="1.1" fill="#d2ba63"/><circle cx="600.2" cy="73.9" r="1.1" fill="#d2ba63"/><circle cx="603.8" cy="69.2" r="1.1" fill="#d2ba62"/><circle cx="607.0" cy="74.1" r="1.1" fill="#d3ba62"/><circle cx="592.3" cy="61.8" r="1.1" fill="#d3ba62"/><circle cx="592.4" cy="61.6" r="1.1" fill="#d3ba62"/><circle cx="603.3" cy="76.4" r="1.1" fill="#d4ba62"/><circle cx="595.9" cy="62.4" r="1.1" fill="#d4ba62"/><circle cx="607.2" cy="78.2" r="1.1" fill="#d4ba62"/><circle cx="605.4" cy="71.1" r="1.1" fill="#d6ba61"/><circle cx="598.2" cy="71.0" r="1.1" fill="#d6ba61"/><circle cx="609.0" cy="76.1" r="1.1" fill="#d6ba61"/><circle cx="598.5" cy="70.9" r="1.1" fill="#d8ba60"/><circle cx="596.2" cy="61.8" r="1.1" fill="#d9ba60"/><circle cx="599.0" cy="63.7" r="1.1" fill="#d9ba60"/><circle cx="597.0" cy="70.5" r="1.1" fill="#daba5f"/><circle cx="594.2" cy="65.3" r="1.1" fill="#daba5f"/><circle cx="594.4" cy="60.7" r="1.1" fill="#dbba5f"/><circle cx="598.9" cy="71.8" r="1.1" fill="#dbba5f"/><circle cx="597.5" cy="69.9" r="1.1" fill="#dcba5f"/><circle cx="605.9" cy="71.6" r="1.1" fill="#ddb95e"/><circle cx="595.5" cy="67.8" r="1.1" fill="#deb95e"/><circle cx="593.8" cy="62.9" r="1.1" fill="#deb95e"/><circle cx="606.8" cy="73.9" r="1.1" fill="#dfb95d"/><circle cx="604.9" cy="71.2" r="1.1" fill="#dfb95d"/><circle cx="595.7" cy="68.3" r="1.1" fill="#e0b95d"/><circle cx="604.1" cy="70.5" r="1.1" fill="#e0b95d"/><circle cx="598.9" cy="64.7" r="1.1" fill="#e0b95d"/><circle cx="602.5" cy="67.8" r="1.1" fill="#e0b95d"/><circle cx="606.4" cy="73.4" r="1.1" fill="#e0b95d"/><circle cx="597.1" cy="62.5" r="1.1" fill="#e1b95c"/><circle cx="602.8" cy="68.6" r="1.1" fill="#e1b95c"/><circle cx="594.7" cy="65.0" r="1.1" fill="#e2b95c"/><circle cx="594.9" cy="60.8" r="1.1" fill="#e2b95c"/><circle cx="601.2" cy="74.1" r="1.1" fill="#e2b95c"/><circle cx="602.9" cy="76.0" r="1.1" fill="#e3b95c"/><circle cx="608.2" cy="76.5" r="1.1" fill="#e3b95c"/><circle cx="596.6" cy="68.8" r="1.1" fill="#e3b95b"/><circle cx="597.8" cy="69.8" r="1.1" fill="#e4b95b"/><circle cx="594.1" cy="65.0" r="1.1" fill="#e5b95a"/><circle cx="599.2" cy="64.5" r="1.1" fill="#e7b95a"/><circle cx="594.1" cy="61.8" r="1.1" fill="#e7b959"/><circle cx="593.9" cy="62.2" r="1.1" fill="#e7b959"/><circle cx="604.1" cy="76.9" r="1.1" fill="#e8ba59"/><circle cx="601.3" cy="74.5" r="1.1" fill="#e8ba59"/><circle cx="601.6" cy="67.5" r="1.1" fill="#e8ba59"/><circle cx="593.0" cy="60.7" r="1.1" fill="#e9ba59"/><circle cx="601.0" cy="66.7" r="1.1" fill="#e9ba58"/><circle cx="602.9" cy="68.9" r="1.1" fill="#e9ba58"/><circle cx="594.5" cy="61.5" r="1.1" fill="#eaba58"/><circle cx="607.9" cy="78.0" r="1.1" fill="#eaba58"/><circle cx="596.3" cy="68.3" r="1.1" fill="#eaba58"/><circle cx="606.1" cy="77.3" r="1.1" fill="#eaba58"/><circle cx="594.8" cy="63.0" r="1.1" fill="#ebba57"/><circle cx="608.1" cy="78.1" r="1.1" fill="#ebba57"/><circle cx="604.7" cy="77.4" r="1.1" fill="#ecba57"/><circle cx="605.0" cy="76.9" r="1.1" fill="#ecba56"/><circle cx="595.1" cy="61.7" r="1.1" fill="#ecba56"/><circle cx="608.4" cy="77.0" r="1.1" fill="#ecba56"/><circle cx="594.6" cy="62.1" r="1.1" fill="#edba56"/><circle cx="594.1" cy="63.6" r="1.1" fill="#eeba55"/><circle cx="603.6" cy="69.0" r="1.1" fill="#eeba55"/><circle cx="597.5" cy="63.6" r="1.1" fill="#eeba55"/><circle cx="595.8" cy="66.2" r="1.1" fill="#efba55"/><circle cx="605.6" cy="77.6" r="1.1" fill="#efbb55"/><circle cx="593.7" cy="64.2" r="1.1" fill="#efbb55"/><circle cx="605.4" cy="71.8" r="1.1" fill="#efbb54"/><circle cx="607.9" cy="76.9" r="1.1" fill="#f0bb54"/><circle cx="595.3" cy="62.1" r="1.1" fill="#f1bb53"/><circle cx="598.7" cy="71.5" r="1.1" fill="#f1bb53"/><circle cx="601.9" cy="67.5" r="1.1" fill="#f1bb53"/><circle cx="602.7" cy="68.4" r="1.1" fill="#f1bb53"/><circle cx="595.8" cy="63.0" r="1.1" fill="#f1bb53"/><circle cx="603.3" cy="75.3" r="1.1" fill="#f1bb53"/><circle cx="601.5" cy="67.5" r="1.1" fill="#f2bb53"/><circle cx="601.2" cy="67.2" r="1.1" fill="#f2bb53"/><circle cx="606.9" cy="77.4" r="1.1" fill="#f2bb52"/><circle cx="607.9" cy="77.5" r="1.1" fill="#f2bb52"/><circle cx="595.7" cy="63.1" r="1.1" fill="#f2bb52"/><circle cx="596.5" cy="67.8" r="1.1" fill="#f2bc52"/><circle cx="602.3" cy="67.9" r="1.1" fill="#f3bc51"/><circle cx="605.9" cy="76.4" r="1.1" fill="#f3bc51"/><circle cx="598.0" cy="64.1" r="1.1" fill="#f4bd50"/><circle cx="605.9" cy="73.5" r="1.1" fill="#f4bd4f"/><circle cx="600.5" cy="73.4" r="1.1" fill="#f5be4f"/><circle cx="602.7" cy="68.7" r="1.1" fill="#f5be4f"/><circle cx="595.6" cy="63.2" r="1.1" fill="#f6be4e"/><circle cx="605.9" cy="74.9" r="1.1" fill="#f6be4e"/><circle cx="593.2" cy="61.8" r="1.1" fill="#f6bf4d"/><circle cx="605.8" cy="73.3" r="1.1" fill="#f6bf4d"/><circle cx="597.7" cy="63.7" r="1.1" fill="#f7c04c"/><circle cx="600.6" cy="66.6" r="1.1" fill="#f7c04c"/><circle cx="602.3" cy="68.7" r="1.1" fill="#f7c14b"/><circle cx="594.5" cy="65.6" r="1.1" fill="#f7c14b"/><circle cx="594.0" cy="63.8" r="1.1" fill="#f7c14b"/><circle cx="599.7" cy="65.0" r="1.1" fill="#f7c14a"/><circle cx="600.6" cy="73.5" r="1.1" fill="#f7c14a"/><circle cx="595.8" cy="66.3" r="1.1" fill="#f7c24a"/><circle cx="602.7" cy="69.1" r="1.1" fill="#f7c24a"/><circle cx="602.2" cy="68.9" r="1.1" fill="#f7c249"/><circle cx="595.3" cy="62.6" r="1.1" fill="#f7c249"/><circle cx="600.5" cy="72.7" r="1.1" fill="#f8c249"/><circle cx="594.6" cy="62.6" r="1.1" fill="#f8c349"/><circle cx="595.0" cy="65.6" r="1.1" fill="#f8c349"/><circle cx="594.7" cy="64.3" r="1.1" fill="#f8c349"/><circle cx="595.5" cy="66.5" r="1.1" fill="#f8c349"/><circle cx="596.7" cy="63.2" r="1.1" fill="#f8c448"/><circle cx="599.5" cy="65.2" r="1.1" fill="#f8c448"/><circle cx="594.4" cy="62.4" r="1.1" fill="#f8c447"/><circle cx="603.5" cy="70.2" r="1.1" fill="#f8c547"/><circle cx="598.2" cy="65.4" r="1.1" fill="#f8c547"/><circle cx="602.4" cy="74.9" r="1.1" fill="#f8c546"/><circle cx="600.2" cy="66.1" r="1.1" fill="#f8c646"/><circle cx="601.7" cy="74.2" r="1.1" fill="#f8c646"/><circle cx="606.3" cy="75.4" r="1.1" fill="#f7c745"/><circle cx="603.5" cy="69.9" r="1.1" fill="#f7c844"/><circle cx="605.5" cy="73.8" r="1.1" fill="#f7c944"/><circle cx="600.2" cy="66.7" r="1.1" fill="#f7c943"/><circle cx="604.7" cy="72.0" r="1.1" fill="#f7c943"/><circle cx="594.4" cy="65.4" r="1.1" fill="#f7c943"/><circle cx="598.9" cy="71.2" r="1.1" fill="#f7ca43"/><circle cx="600.8" cy="67.3" r="1.1" fill="#f7ca43"/><circle cx="594.9" cy="64.1" r="1.1" fill="#f7ca42"/><circle cx="601.7" cy="69.3" r="1.1" fill="#f7cb42"/><circle cx="599.7" cy="65.9" r="1.1" fill="#f7cb42"/><circle cx="600.9" cy="66.9" r="1.1" fill="#f7cb42"/><circle cx="596.6" cy="63.6" r="1.1" fill="#f6cc41"/><circle cx="595.2" cy="65.3" r="1.1" fill="#f6cc41"/><circle cx="604.0" cy="70.9" r="1.1" fill="#f6cc41"/><circle cx="600.9" cy="73.0" r="1.1" fill="#f6cd41"/><circle cx="599.9" cy="72.2" r="1.1" fill="#f6cd41"/><circle cx="598.2" cy="70.3" r="1.1" fill="#f6cd40"/><circle cx="599.9" cy="72.1" r="1.1" fill="#f6ce40"/><circle cx="603.9" cy="71.4" r="1.1" fill="#f6ce40"/><circle cx="598.9" cy="65.2" r="1.1" fill="#f6ce40"/><circle cx="605.8" cy="76.2" r="1.1" fill="#f6ce40"/><circle cx="598.1" cy="64.6" r="1.1" fill="#f5ce40"/><circle cx="602.0" cy="69.0" r="1.1" fill="#f5ce40"/><circle cx="601.5" cy="68.4" r="1.1" fill="#f5cf3f"/><circle cx="598.1" cy="64.7" r="1.1" fill="#f5cf3f"/><circle cx="597.0" cy="68.7" r="1.1" fill="#f5cf3f"/><circle cx="595.9" cy="65.9" r="1.1" fill="#f5d03f"/><circle cx="603.6" cy="75.2" r="1.1" fill="#f5d03f"/><circle cx="597.8" cy="69.5" r="1.1" fill="#f5d03e"/><circle cx="599.4" cy="65.5" r="1.1" fill="#f4d13e"/><circle cx="606.6" cy="76.7" r="1.1" fill="#f4d13e"/><circle cx="597.1" cy="66.0" r="1.1" fill="#f4d13e"/><circle cx="601.1" cy="67.4" r="1.1" fill="#f4d13e"/><circle cx="601.8" cy="68.7" r="1.1" fill="#f4d13e"/><circle cx="604.5" cy="75.6" r="1.1" fill="#f4d23d"/><circle cx="605.7" cy="75.0" r="1.1" fill="#f4d23d"/><circle cx="598.8" cy="65.8" r="1.1" fill="#f4d23d"/><circle cx="600.1" cy="71.9" r="1.1" fill="#f4d23d"/><circle cx="598.4" cy="70.5" r="1.1" fill="#f4d23d"/><circle cx="595.5" cy="64.4" r="1.1" fill="#f4d23d"/><circle cx="598.6" cy="64.9" r="1.1" fill="#f4d33d"/><circle cx="603.8" cy="75.3" r="1.1" fill="#f4d33c"/><circle cx="603.6" cy="70.5" r="1.1" fill="#f4d33c"/><circle cx="600.2" cy="66.5" r="1.1" fill="#f3d43c"/><circle cx="599.8" cy="65.8" r="1.1" fill="#f3d43c"/><circle cx="602.8" cy="74.6" r="1.1" fill="#f3d43b"/><circle cx="603.5" cy="75.1" r="1.1" fill="#f3d63a"/><circle cx="598.9" cy="65.7" r="1.1" fill="#f3d63a"/><circle cx="606.5" cy="76.5" r="1.1" fill="#f2d63a"/><circle cx="596.0" cy="66.4" r="1.1" fill="#f2d63a"/><circle cx="599.1" cy="70.4" r="1.1" fill="#f2d73a"/><circle cx="599.9" cy="66.4" r="1.1" fill="#f2d73a"/><circle cx="601.5" cy="73.4" r="1.1" fill="#f2d739"/><circle cx="606.4" cy="75.5" r="1.1" fill="#f2d739"/><circle cx="604.9" cy="76.8" r="1.1" fill="#f2d739"/><circle cx="605.0" cy="74.1" r="1.1" fill="#f2d839"/><circle cx="601.7" cy="71.9" r="1.1" fill="#f2d839"/><circle cx="598.4" cy="64.7" r="1.1" fill="#f2d839"/><circle cx="602.8" cy="70.0" r="1.1" fill="#f2d938"/><circle cx="600.9" cy="72.1" r="1.1" fill="#f2d938"/><circle cx="597.7" cy="65.5" r="1.1" fill="#f2d938"/><circle cx="604.1" cy="74.6" r="1.1" fill="#f2d938"/><circle cx="603.7" cy="73.0" r="1.1" fill="#f1da38"/><circle cx="597.7" cy="69.4" r="1.1" fill="#f1da37"/><circle cx="599.2" cy="70.8" r="1.1" fill="#f1db37"/><circle cx="598.3" cy="69.4" r="1.1" fill="#f1dd36"/><circle cx="597.5" cy="65.8" r="1.1" fill="#f1dd36"/><circle cx="597.7" cy="69.3" r="1.1" fill="#f1de35"/><circle cx="598.2" cy="65.9" r="1.1" fill="#f1de35"/><circle cx="595.9" cy="66.4" r="1.1" fill="#f1df35"/><circle cx="601.5" cy="72.5" r="1.1" fill="#f1df35"/><circle cx="604.5" cy="75.0" r="1.1" fill="#f1df34"/><circle cx="605.0" cy="73.8" r="1.1" fill="#f1df34"/><circle cx="596.3" cy="66.9" r="1.1" fill="#f1e034"/><circle cx="600.8" cy="68.4" r="1.1" fill="#f1e134"/><circle cx="602.0" cy="69.3" r="1.1" fill="#f1e133"/><circle cx="596.4" cy="64.1" r="1.1" fill="#f0e233"/><circle cx="597.4" cy="66.4" r="1.1" fill="#f1e332"/><circle cx="601.5" cy="72.7" r="1.1" fill="#f1e332"/><circle cx="596.2" cy="67.0" r="1.1" fill="#f1e332"/><circle cx="603.2" cy="71.7" r="1.1" fill="#f1e432"/><circle cx="597.4" cy="64.5" r="1.1" fill="#f1e432"/><circle cx="601.0" cy="72.4" r="1.1" fill="#f1e531"/><circle cx="597.1" cy="66.7" r="1.1" fill="#f1e531"/><circle cx="600.9" cy="71.7" r="1.1" fill="#f1e531"/><circle cx="596.5" cy="65.4" r="1.1" fill="#f1e630"/><circle cx="599.6" cy="66.8" r="1.1" fill="#f1e630"/><circle cx="604.3" cy="74.9" r="1.1" fill="#f1e730"/><circle cx="598.3" cy="65.9" r="1.1" fill="#f1e92f"/><circle cx="594.8" cy="62.5" r="1.1" fill="#f1e92f"/><circle cx="603.2" cy="72.7" r="1.1" fill="#f1e92f"/><circle cx="596.0" cy="66.3" r="1.1" fill="#f1e92e"/><circle cx="604.8" cy="74.0" r="1.1" fill="#f1ea2e"/><circle cx="604.1" cy="74.5" r="1.1" fill="#f1ea2e"/><circle cx="601.0" cy="68.8" r="1.1" fill="#f1ea2e"/><circle cx="597.8" cy="69.2" r="1.1" fill="#f1ea2e"/><circle cx="600.3" cy="71.2" r="1.1" fill="#f2ea2e"/><circle cx="602.6" cy="72.5" r="1.1" fill="#f2eb2e"/><circle cx="601.7" cy="69.0" r="1.1" fill="#f2eb2e"/><circle cx="600.9" cy="72.0" r="1.1" fill="#f2ec2d"/><circle cx="604.4" cy="73.4" r="1.1" fill="#f2ec2d"/><circle cx="603.4" cy="73.5" r="1.1" fill="#f2ec2d"/><circle cx="597.7" cy="66.0" r="1.1" fill="#f2ed2d"/><circle cx="599.2" cy="70.1" r="1.1" fill="#f2ed2d"/><circle cx="598.3" cy="69.2" r="1.1" fill="#f3ef2b"/><circle cx="600.7" cy="68.0" r="1.1" fill="#f3f02b"/><circle cx="600.1" cy="71.2" r="1.1" fill="#f3f12b"/><circle cx="601.2" cy="71.8" r="1.1" fill="#f4f12a"/><circle cx="598.0" cy="67.1" r="1.1" fill="#f4f12a"/><circle cx="598.2" cy="66.4" r="1.1" fill="#f4f12a"/><circle cx="602.6" cy="73.9" r="1.1" fill="#f4f22a"/><circle cx="598.3" cy="68.1" r="1.1" fill="#f4f22a"/><circle cx="599.9" cy="68.2" r="1.1" fill="#f4f22a"/><circle cx="601.3" cy="68.7" r="1.1" fill="#f4f22a"/><circle cx="596.1" cy="64.1" r="1.1" fill="#f5f429"/><circle cx="602.9" cy="70.4" r="1.1" fill="#f5f428"/><circle cx="603.2" cy="71.8" r="1.1" fill="#f5f628"/><circle cx="599.2" cy="68.4" r="1.1" fill="#f5f627"/><circle cx="597.4" cy="66.1" r="1.1" fill="#f6f727"/><circle cx="599.4" cy="69.1" r="1.1" fill="#f6f727"/><circle cx="600.5" cy="67.8" r="1.1" fill="#f6f727"/><circle cx="599.1" cy="68.5" r="1.1" fill="#f6f727"/><circle cx="601.7" cy="72.8" r="1.1" fill="#f6f727"/><circle cx="604.0" cy="73.6" r="1.1" fill="#f6f727"/><circle cx="602.1" cy="70.3" r="1.1" fill="#f6f727"/><circle cx="601.1" cy="69.9" r="1.1" fill="#f6f727"/><circle cx="599.2" cy="69.8" r="1.1" fill="#f6f727"/><circle cx="600.0" cy="67.8" r="1.1" fill="#f6f727"/><circle cx="601.1" cy="69.9" r="1.1" fill="#f6f727"/><circle cx="598.2" cy="67.3" r="1.1" fill="#f6f727"/><circle cx="601.9" cy="72.4" r="1.1" fill="#f6f727"/><circle cx="598.0" cy="66.0" r="1.1" fill="#f6f727"/><circle cx="599.3" cy="70.0" r="1.1" fill="#f6f727"/><circle cx="602.6" cy="72.4" r="1.1" fill="#f6f727"/><circle cx="601.5" cy="68.6" r="1.1" fill="#f6f727"/><circle cx="601.1" cy="70.1" r="1.1" fill="#f6f727"/><circle cx="601.0" cy="69.5" r="1.1" fill="#f6f727"/><circle cx="600.9" cy="72.1" r="1.1" fill="#f6f727"/><circle cx="599.7" cy="68.3" r="1.1" fill="#f6f727"/><circle cx="600.3" cy="69.1" r="1.1" fill="#f6f727"/><circle cx="602.5" cy="72.3" r="1.1" fill="#f6f727"/><circle cx="602.5" cy="72.2" r="1.1" fill="#f6f727"/><circle cx="601.1" cy="69.8" r="1.1" fill="#f6f727"/><circle cx="600.9" cy="72.5" r="1.1" fill="#f6f727"/><circle cx="601.1" cy="72.2" r="1.1" fill="#f6f727"/><circle cx="597.8" cy="67.2" r="1.1" fill="#f6f727"/><circle cx="603.1" cy="72.9" r="1.1" fill="#f6f727"/><circle cx="599.5" cy="69.2" r="1.1" fill="#f6f727"/><circle cx="601.5" cy="71.2" r="1.1" fill="#f6f727"/><circle cx="600.0" cy="69.8" r="1.1" fill="#f6f727"/><circle cx="598.0" cy="66.9" r="1.1" fill="#f6f727"/><circle cx="603.3" cy="71.7" r="1.1" fill="#f6f727"/><circle cx="602.1" cy="71.0" r="1.1" fill="#f6f727"/><circle cx="603.8" cy="72.5" r="1.1" fill="#f6f727"/><circle cx="601.2" cy="70.5" r="1.1" fill="#f6f727"/><circle cx="602.3" cy="71.3" r="1.1" fill="#f6f727"/><circle cx="599.5" cy="69.4" r="1.1" fill="#f6f727"/><circle cx="599.7" cy="70.0" r="1.1" fill="#f6f727"/><circle cx="600.9" cy="70.2" r="1.1" fill="#f6f727"/><circle cx="597.3" cy="65.8" r="1.1" fill="#f6f727"/><circle cx="600.9" cy="70.6" r="1.1" fill="#f6f727"/><circle cx="598.1" cy="68.8" r="1.1" fill="#f6f727"/><circle cx="601.1" cy="70.1" r="1.1" fill="#f6f727"/><circle cx="598.3" cy="67.0" r="1.1" fill="#f6f727"/></g>
<polygon points="561.60,26.30 562.72,29.46 566.07,29.55 563.41,31.59 564.36,34.80 561.60,32.90 558.84,34.80 559.79,31.59 557.13,29.55 560.48,29.46" fill="#f2a466"/>
<text x="559.3" y="44.6" font-size="8.6" text-anchor="middle" fill="#ec9050" >true</text>
<defs><linearGradient id="ar1" gradientUnits="userSpaceOnUse" x1="567.5" y1="29.6" x2="599.8" y2="65.8"><stop offset="0" stop-color="#f08a50"/><stop offset="0.3" stop-color="#f05a32"/><stop offset="1" stop-color="#e6262a"/></linearGradient></defs>
<path d="M567.5 29.6C590 29 600 33 599.8 58" fill="none" stroke="url(#ar1)" stroke-width="1.9"/>
<polygon points="599.80,65.80 597.10,57.40 602.50,57.40" fill="#e52228"/>
<path d="M595.9 65.3L601.6999999999999 71.10000000000001M595.9 71.10000000000001L601.6999999999999 65.3" stroke="#e8202a" stroke-width="1.4"/>
<text x="623.2" y="71.5" font-size="8.8" text-anchor="middle" fill="#e42a30" >est.</text>
<rect x="549.1" y="19.1" width="90.3" height="90.1" fill="none" stroke="#4d4d4d" stroke-width="1"/>
<path d="M562 109.2v-3.2M562 19.1v3.2" stroke="#4d4d4d" stroke-width="1"/>
<text x="561.2" y="122.7" font-size="12.2" text-anchor="middle" fill="#262626" >–1</text>
<path d="M613.3 109.2v-3.2M613.3 19.1v3.2" stroke="#4d4d4d" stroke-width="1"/>
<text x="613" y="122.7" font-size="12.2" text-anchor="middle" fill="#262626" >–0.8</text>
<path d="M549.1 109.2h3.2M639.4 109.2h-3.2" stroke="#4d4d4d" stroke-width="1"/>
<text x="545.5" y="113.1" font-size="12.2" text-anchor="end" fill="#262626" >1.6</text>
<path d="M549.1 83.3h3.2M639.4 83.3h-3.2" stroke="#4d4d4d" stroke-width="1"/>
<text x="545.5" y="87.2" font-size="12.2" text-anchor="end" fill="#262626" >1.7</text>
<path d="M549.1 57.4h3.2M639.4 57.4h-3.2" stroke="#4d4d4d" stroke-width="1"/>
<text x="545.5" y="61.3" font-size="12.2" text-anchor="end" fill="#262626" >1.8</text>
<path d="M549.1 31.5h3.2M639.4 31.5h-3.2" stroke="#4d4d4d" stroke-width="1"/>
<text x="545.5" y="35.4" font-size="12.2" text-anchor="end" fill="#262626" >1.9</text>
<text x="596.5" y="135.6" font-size="12.2" text-anchor="middle" fill="#262626">log<tspan font-size="9" dy="3.6">10</tspan><tspan dy="-3.6">(BF)</tspan></text>
<text transform="translate(522.5,63.9) rotate(-90)" font-size="12.2" text-anchor="middle" fill="#262626">log<tspan font-size="9" dy="3.4">10</tspan><tspan dy="-3.4">(BS)</tspan></text>
<text x="507.4" y="12.8" font-size="14.5" fill="#1a1a1a">(<tspan font-style="italic">d</tspan>)</text>
<defs><linearGradient id="cb1" x1="0" y1="0" x2="0" y2="1"><stop offset="0.0000" stop-color="#f6f727"/><stop offset="0.0625" stop-color="#f1dd36"/><stop offset="0.1250" stop-color="#f7c944"/><stop offset="0.1875" stop-color="#ecba57"/><stop offset="0.2500" stop-color="#cfba64"/><stop offset="0.3125" stop-color="#b1bc6f"/><stop offset="0.3750" stop-color="#8ebc7b"/><stop offset="0.4375" stop-color="#65ba8b"/><stop offset="0.5000" stop-color="#3eb39f"/><stop offset="0.5625" stop-color="#20aab0"/><stop offset="0.6250" stop-color="#14a0be"/><stop offset="0.6875" stop-color="#1792c6"/><stop offset="0.7500" stop-color="#1f81c8"/><stop offset="0.8125" stop-color="#1672ce"/><stop offset="0.8750" stop-color="#0e60d0"/><stop offset="0.9375" stop-color="#3544ac"/><stop offset="1.0000" stop-color="#352c7d"/></linearGradient></defs>
<rect x="657.5" y="16.0" width="9.70" height="93.30" fill="url(#cb1)" stroke="#7a7a7a" stroke-width="0.6"/>
<text x="672.7" y="113.2" font-size="12.2" text-anchor="start" fill="#262626" >0</text>
<text x="672.7" y="66.55" font-size="12.2" text-anchor="start" fill="#262626" >0.5</text>
<text x="672.7" y="19.9" font-size="12.2" text-anchor="start" fill="#262626" >1.0</text>
<path d="M44.9 270.3V221.1H49.12V270.3ZM49.12 270.3V200.7H52.76V270.3ZM52.76 270.3V199H56.4V270.3ZM56.4 270.3V199.5H60.04V270.3ZM60.04 270.3V195.2H63.68V270.3ZM63.68 270.3V191.3H67.32V270.3ZM67.32 270.3V202.4H70.96V270.3ZM70.96 270.3V195.7H74.6V270.3ZM74.6 270.3V211.1H78.24V270.3ZM78.24 270.3V197.9H81.88V270.3ZM81.88 270.3V205.7H85.52V270.3ZM85.52 270.3V214.8H89.16V270.3ZM89.16 270.3V223.9H92.8V270.3ZM92.8 270.3V215.7H96.44V270.3ZM96.44 270.3V215.7H100.08V270.3ZM100.08 270.3V219.8H103.72V270.3ZM103.72 270.3V215.7H107.36V270.3ZM107.36 270.3V225.6H111V270.3ZM111 270.3V228H114.64V270.3ZM114.64 270.3V232.7H118.28V270.3ZM118.28 270.3V234.9H121.92V270.3ZM121.92 270.3V235.2H125.56V270.3ZM125.56 270.3V241.8H129.2V270.3ZM129.2 270.3V239H132.84V270.3ZM132.84 270.3V238.2H136.48V270.3ZM136.48 270.3V235.2H140.12V270.3ZM140.12 270.3V249.8H143.76V270.3ZM143.76 270.3V245.1H147.4V270.3ZM147.4 270.3V250.1H151.04V270.3ZM151.04 270.3V251.8H154.68V270.3ZM154.68 270.3V253H158.32V270.3ZM158.32 270.3V254.8H161.96V270.3ZM161.96 270.3V257.5H165.6V270.3ZM165.6 270.3V259.6H169.24V270.3ZM169.24 270.3V261.8H172.88V270.3ZM172.88 270.3V263.5H176.52V270.3ZM176.52 270.3V265H180.16V270.3ZM180.16 270.3V266.3H183.8V270.3ZM183.8 270.3V267.4H187.44V270.3ZM187.44 270.3V267.5H191.08V270.3ZM191.08 270.3V268.3H194.72V270.3ZM194.72 270.3V269.4H198.36V270.3ZM198.36 270.3V270H202V270.3ZM202 270.3V270.2H205.64V270.3Z" fill="#62aca8"/>
<path d="M45.2 211.5 L45.43 210.87 L45.73 209.97 L46.11 208.94 L46.53 207.9 L47 207 L47.51 206.23 L48.07 205.5 L48.67 204.82 L49.32 204.19 L50 203.6 L50.74 203.06 L51.53 202.58 L52.35 202.14 L53.18 201.74 L54 201.4 L54.8 201.11 L55.59 200.88 L56.39 200.69 L57.19 200.54 L58 200.4 L58.82 200.29 L59.64 200.2 L60.47 200.14 L61.32 200.11 L62.2 200.1 L63.12 200.11 L64.07 200.15 L65.04 200.21 L66.02 200.29 L67 200.4 L67.99 200.53 L68.99 200.68 L69.99 200.86 L71 201.07 L72 201.3 L73.03 201.58 L74.1 201.9 L75.14 202.25 L76.13 202.59 L77 202.9 L77.71 203.16 L78.3 203.4 L78.82 203.63 L79.37 203.89 L80 204.2 L80.7 204.56 L81.43 204.93 L82.21 205.35 L83.06 205.84 L84 206.4 L85.06 207.06 L86.23 207.81 L87.46 208.62 L88.73 209.45 L90 210.3 L91.26 211.14 L92.52 211.99 L93.82 212.88 L95.17 213.81 L96.6 214.8 L98.15 215.88 L99.81 217.05 L101.52 218.25 L103.2 219.44 L104.8 220.6 L106.29 221.7 L107.71 222.78 L109.11 223.85 L110.52 224.92 L112 226 L113.49 227.05 L114.97 228.06 L116.5 229.09 L118.16 230.22 L120 231.5 L122.14 233.02 L124.53 234.75 L127.02 236.54 L129.43 238.27 L131.6 239.8 L133.49 241.1 L135.2 242.26 L136.82 243.33 L138.39 244.36 L140 245.4 L141.66 246.45 L143.32 247.48 L144.96 248.49 L146.56 249.46 L148.1 250.4 L149.55 251.28 L150.93 252.12 L152.27 252.93 L153.61 253.75 L155 254.6 L156.46 255.52 L157.97 256.49 L159.48 257.46 L160.94 258.38 L162.3 259.2 L163.53 259.91 L164.66 260.54 L165.74 261.12 L166.83 261.66 L168 262.2 L169.26 262.73 L170.59 263.24 L171.93 263.72 L173.25 264.17 L174.5 264.6 L175.64 264.99 L176.71 265.34 L177.75 265.66 L178.83 265.98 L180 266.3 L181.29 266.63 L182.66 266.97 L184.06 267.3 L185.46 267.61 L186.8 267.9 L188.08 268.16 L189.33 268.4 L190.56 268.61 L191.78 268.81 L193 269 L194.19 269.17 L195.34 269.32 L196.5 269.46 L197.71 269.59 L199 269.7 L200.52 269.81 L202.25 269.9 L203.97 269.98 L205.46 270.05 L206.5 270.1" fill="none" stroke="#e4262b" stroke-width="1.6" stroke-linejoin="round" stroke-linecap="round"/>
<rect x="44.9" y="177" width="162.4" height="93.3" fill="none" stroke="#4d4d4d" stroke-width="1"/>
<path d="M47.3 270.3v-3.2M47.3 177v3.2" stroke="#4d4d4d" stroke-width="1"/>
<text x="46.8" y="284.6" font-size="12.2" text-anchor="middle" fill="#262626" >0</text>
<path d="M83.7 270.3v-3.2M83.7 177v3.2" stroke="#4d4d4d" stroke-width="1"/>
<text x="84.4" y="284.6" font-size="12.2" text-anchor="middle" fill="#262626" >10</text>
<path d="M120.1 270.3v-3.2M120.1 177v3.2" stroke="#4d4d4d" stroke-width="1"/>
<text x="120.3" y="284.6" font-size="12.2" text-anchor="middle" fill="#262626" >20</text>
<path d="M156.5 270.3v-3.2M156.5 177v3.2" stroke="#4d4d4d" stroke-width="1"/>
<text x="157.2" y="284.6" font-size="12.2" text-anchor="middle" fill="#262626" >30</text>
<path d="M192.9 270.3v-3.2M192.9 177v3.2" stroke="#4d4d4d" stroke-width="1"/>
<text x="193.4" y="284.6" font-size="12.2" text-anchor="middle" fill="#262626" >40</text>
<path d="M44.9 270.3h3.2M207.3 270.3h-3.2" stroke="#4d4d4d" stroke-width="1"/>
<text x="41.3" y="274.2" font-size="12.2" text-anchor="end" fill="#262626" >0</text>
<path d="M44.9 239.26h3.2M207.3 239.26h-3.2" stroke="#4d4d4d" stroke-width="1"/>
<text x="41.3" y="243.16" font-size="12.2" text-anchor="end" fill="#262626" >0.02</text>
<path d="M44.9 208.22h3.2M207.3 208.22h-3.2" stroke="#4d4d4d" stroke-width="1"/>
<text x="41.3" y="212.12" font-size="12.2" text-anchor="end" fill="#262626" >0.04</text>
<path d="M44.9 177.18h3.2M207.3 177.18h-3.2" stroke="#4d4d4d" stroke-width="1"/>
<text x="41.3" y="181.08" font-size="12.2" text-anchor="end" fill="#262626" >0.06</text>
<rect x="141.4" y="188.2" width="53.3" height="30.1" fill="#fff" stroke="#4d4d4d" stroke-width="0.9"/>
<rect x="145.4" y="193.6" width="20.6" height="6.2" fill="#62aca8"/>
<path d="M145.4 210.6h20.6" stroke="#e4262b" stroke-width="1.4"/>
<text x="169.8" y="200.6" font-size="9.3" text-anchor="start" fill="#333" >GTM</text>
<text x="169.8" y="214" font-size="9.3" text-anchor="start" fill="#333" >CTM</text>
<text x="125.5" y="298.5" font-size="12.0" text-anchor="middle" fill="#262626" >mRNA</text>
<text transform="translate(15.6,223.8) rotate(-90)" font-size="12.4" text-anchor="middle" fill="#262626">prob.</text>
<text x="0.3" y="171.7" font-size="14.5" fill="#1a1a1a">(<tspan font-style="italic">e</tspan>)</text>
<path d="M262 265.6V265.3H265.6V265.6ZM265.6 265.6V261.9H269.21V265.6ZM269.21 265.6V255.2H272.81V265.6ZM272.81 265.6V239.4H276.42V265.6ZM276.42 265.6V219.8H280.02V265.6ZM280.02 265.6V220.7H283.62V265.6ZM283.62 265.6V212.8H287.23V265.6ZM287.23 265.6V211.7H290.83V265.6ZM290.83 265.6V222.5H294.44V265.6ZM294.44 265.6V228.2H298.04V265.6ZM298.04 265.6V235.6H301.64V265.6ZM301.64 265.6V241.7H305.25V265.6ZM305.25 265.6V246.4H308.85V265.6ZM308.85 265.6V250.3H312.46V265.6ZM312.46 265.6V254.2H316.06V265.6ZM316.06 265.6V257.6H319.66V265.6ZM319.66 265.6V260.5H323.27V265.6ZM323.27 265.6V262.4H326.87V265.6ZM326.87 265.6V263.6H330.48V265.6ZM330.48 265.6V264.4H334.08V265.6ZM334.08 265.6V264.9H337.68V265.6ZM337.68 265.6V265.2H341.29V265.6ZM341.29 265.6V265.4H344.89V265.6ZM344.89 265.6V265.5H348.5V265.6ZM348.5 265.6V265.5H352.1V265.6Z" fill="#62aca8"/>
<path d="M262.72 179.61 L264.24 186.54 L265.75 192.92 L267.27 198.78 L268.78 204.17 L270.3 209.12 L271.81 213.67 L273.33 217.86 L274.84 221.71 L276.35 225.25 L277.87 228.5 L279.38 231.49 L280.9 234.24 L282.41 236.77 L283.93 239.1 L285.44 241.23 L286.96 243.2 L288.47 245 L289.99 246.66 L291.5 248.19 L293.02 249.6 L294.53 250.89 L296.05 252.07 L297.56 253.16 L299.08 254.17 L300.59 255.09 L302.11 255.94 L303.62 256.71 L305.14 257.43 L306.65 258.09 L308.17 258.7 L309.68 259.25 L311.2 259.76 L312.71 260.23 L314.23 260.67 L315.74 261.06 L317.26 261.43 L318.77 261.77 L320.29 262.08 L321.8 262.36 L323.32 262.62 L324.83 262.86 L326.35 263.08 L327.86 263.29 L329.38 263.47 L330.89 263.64 L332.41 263.8 L333.92 263.95 L335.44 264.08 L336.95 264.2 L338.47 264.31 L339.98 264.42 L341.5 264.51 L343.01 264.6 L344.53 264.68 L346.04 264.76 L347.56 264.82 L349.07 264.89 L350.59 264.94 L352.1 265" fill="none" stroke="#e4262b" stroke-width="1.6" stroke-linejoin="round" stroke-linecap="round"/>
<rect x="262" y="176.1" width="90.1" height="89.5" fill="none" stroke="#4d4d4d" stroke-width="1"/>
<path d="M262 265.6v-3.2M262 176.1v3.2" stroke="#4d4d4d" stroke-width="1"/>
<text x="262" y="279.9" font-size="12.2" text-anchor="middle" fill="#262626" >0</text>
<path d="M352.1 265.6v-3.2M352.1 176.1v3.2" stroke="#4d4d4d" stroke-width="1"/>
<text x="353.1" y="279.9" font-size="12.2" text-anchor="middle" fill="#262626" >5</text>
<path d="M262 265.6h3.2M352.1 265.6h-3.2" stroke="#4d4d4d" stroke-width="1"/>
<text x="258.4" y="269.5" font-size="12.2" text-anchor="end" fill="#262626" >0</text>
<path d="M262 220.85h3.2M352.1 220.85h-3.2" stroke="#4d4d4d" stroke-width="1"/>
<text x="258.4" y="224.75" font-size="12.2" text-anchor="end" fill="#262626" >0.5</text>
<path d="M262 176.1h3.2M352.1 176.1h-3.2" stroke="#4d4d4d" stroke-width="1"/>
<text x="258.4" y="180" font-size="12.2" text-anchor="end" fill="#262626" >1.0</text>
<text x="302.2" y="294.5" font-size="12.0" text-anchor="middle" fill="#262626" >OFF state dwell time</text>
<text transform="translate(237,221.4) rotate(-90)" font-size="12.4" text-anchor="middle" fill="#262626">prob.</text>
<text x="222.6" y="171.7" font-size="14.5" fill="#1a1a1a">(<tspan font-style="italic">f</tspan>)</text>
<path d="M405.1 265.6V223.9H410.52V265.6ZM410.52 265.6V232H415.94V265.6ZM415.94 265.6V239.9H421.36V265.6ZM421.36 265.6V245.9H426.78V265.6ZM426.78 265.6V249H432.2V265.6ZM432.2 265.6V252H437.62V265.6ZM437.62 265.6V255.8H443.04V265.6ZM443.04 265.6V258H448.46V265.6ZM448.46 265.6V260.1H453.88V265.6ZM453.88 265.6V262.3H459.3V265.6ZM459.3 265.6V263.2H464.72V265.6ZM464.72 265.6V263.6H470.14V265.6ZM470.14 265.6V264H475.56V265.6ZM475.56 265.6V264.3H480.98V265.6ZM480.98 265.6V264.6H486.4V265.6ZM486.4 265.6V264.9H491.82V265.6ZM491.82 265.6V265.1H497.24V265.6Z" fill="#62aca8"/>
<path d="M405.1 188.21 L406.4 195.27 L407.69 201.68 L408.99 207.51 L410.29 212.81 L411.59 217.63 L412.88 222 L414.18 225.98 L415.48 229.59 L416.77 232.88 L418.07 235.86 L419.37 238.58 L420.67 241.04 L421.96 243.28 L423.26 245.32 L424.56 247.17 L425.85 248.85 L427.15 250.38 L428.45 251.77 L429.74 253.03 L431.04 254.17 L432.34 255.22 L433.64 256.16 L434.93 257.02 L436.23 257.81 L437.53 258.52 L438.82 259.16 L440.12 259.75 L441.42 260.28 L442.72 260.77 L444.01 261.21 L445.31 261.61 L446.61 261.97 L447.9 262.31 L449.2 262.61 L450.5 262.88 L451.8 263.13 L453.09 263.35 L454.39 263.56 L455.69 263.74 L456.98 263.91 L458.28 264.07 L459.58 264.21 L460.88 264.33 L462.17 264.45 L463.47 264.55 L464.77 264.65 L466.06 264.74 L467.36 264.82 L468.66 264.89 L469.96 264.95 L471.25 265.01 L472.55 265.06 L473.85 265.11 L475.14 265.16 L476.44 265.2 L477.74 265.23 L479.03 265.27 L480.33 265.3 L481.63 265.33 L482.93 265.35 L484.22 265.37 L485.52 265.39 L486.82 265.41 L488.11 265.43 L489.41 265.45 L490.71 265.46 L492.01 265.47 L493.3 265.48 L494.6 265.49" fill="none" stroke="#e4262b" stroke-width="1.6" stroke-linejoin="round" stroke-linecap="round"/>
<rect x="405.1" y="176.1" width="89.5" height="89.5" fill="none" stroke="#4d4d4d" stroke-width="1"/>
<path d="M405.1 265.6v-3.2M405.1 176.1v3.2" stroke="#4d4d4d" stroke-width="1"/>
<text x="405.4" y="279.9" font-size="12.2" text-anchor="middle" fill="#262626" >0</text>
<path d="M494.6 265.6v-3.2M494.6 176.1v3.2" stroke="#4d4d4d" stroke-width="1"/>
<text x="494.9" y="279.9" font-size="12.2" text-anchor="middle" fill="#262626" >5</text>
<path d="M405.1 265.6h3.2M494.6 265.6h-3.2" stroke="#4d4d4d" stroke-width="1"/>
<text x="401.5" y="269.5" font-size="12.2" text-anchor="end" fill="#262626" >0</text>
<path d="M405.1 235.77h3.2M494.6 235.77h-3.2" stroke="#4d4d4d" stroke-width="1"/>
<text x="401.5" y="239.67" font-size="12.2" text-anchor="end" fill="#262626" >0.5</text>
<path d="M405.1 205.93h3.2M494.6 205.93h-3.2" stroke="#4d4d4d" stroke-width="1"/>
<text x="401.5" y="209.83" font-size="12.2" text-anchor="end" fill="#262626" >1.0</text>
<path d="M405.1 176.1h3.2M494.6 176.1h-3.2" stroke="#4d4d4d" stroke-width="1"/>
<text x="401.5" y="180" font-size="12.2" text-anchor="end" fill="#262626" >1.5</text>
<text x="445.8" y="294.5" font-size="12.0" text-anchor="middle" fill="#262626" >ON state dwell time</text>
<text transform="translate(380,221.9) rotate(-90)" font-size="12.4" text-anchor="middle" fill="#262626">prob.</text>
<text x="365.8" y="171.7" font-size="14.5" fill="#1a1a1a">(<tspan font-style="italic">g</tspan>)</text>
<g><circle cx="633.2" cy="257.0" r="1.0" fill="#373b9b"/><circle cx="600.2" cy="228.7" r="1.0" fill="#373b9b"/><circle cx="616.3" cy="234.6" r="1.0" fill="#373b9b"/><circle cx="603.1" cy="234.0" r="1.0" fill="#373b9b"/><circle cx="626.3" cy="247.3" r="1.0" fill="#373b9b"/><circle cx="626.5" cy="244.4" r="1.0" fill="#373b9b"/><circle cx="614.3" cy="249.0" r="1.0" fill="#373b9b"/><circle cx="615.9" cy="249.5" r="1.0" fill="#373b9b"/><circle cx="632.0" cy="253.8" r="1.0" fill="#373b9b"/><circle cx="601.1" cy="222.2" r="1.0" fill="#373b9b"/><circle cx="609.3" cy="229.0" r="1.0" fill="#373b9b"/><circle cx="613.9" cy="232.6" r="1.0" fill="#373b9b"/><circle cx="613.8" cy="247.9" r="1.0" fill="#373b9b"/><circle cx="605.0" cy="238.2" r="1.0" fill="#373b9b"/><circle cx="600.1" cy="222.1" r="1.0" fill="#373b9b"/><circle cx="608.8" cy="226.3" r="1.0" fill="#373b9b"/><circle cx="630.1" cy="250.2" r="1.0" fill="#373b9b"/><circle cx="618.7" cy="236.5" r="1.0" fill="#373b9b"/><circle cx="619.9" cy="239.7" r="1.0" fill="#373b9b"/><circle cx="624.4" cy="244.0" r="1.0" fill="#373c9d"/><circle cx="613.4" cy="232.3" r="1.0" fill="#373d9d"/><circle cx="629.8" cy="251.0" r="1.0" fill="#373d9e"/><circle cx="600.8" cy="226.1" r="1.0" fill="#373d9e"/><circle cx="619.5" cy="238.4" r="1.0" fill="#373ea0"/><circle cx="619.3" cy="253.6" r="1.0" fill="#373ea0"/><circle cx="617.5" cy="235.4" r="1.0" fill="#373fa2"/><circle cx="598.4" cy="227.3" r="1.0" fill="#373fa2"/><circle cx="629.5" cy="259.6" r="1.0" fill="#3641a7"/><circle cx="616.5" cy="236.3" r="1.0" fill="#3641a7"/><circle cx="608.1" cy="241.3" r="1.0" fill="#3642a7"/><circle cx="610.1" cy="228.4" r="1.0" fill="#3543aa"/><circle cx="616.6" cy="251.1" r="1.0" fill="#3543aa"/><circle cx="620.5" cy="254.3" r="1.0" fill="#3544ab"/><circle cx="618.9" cy="238.3" r="1.0" fill="#3544ac"/><circle cx="606.5" cy="225.3" r="1.0" fill="#3544ac"/><circle cx="623.9" cy="255.8" r="1.0" fill="#3545ad"/><circle cx="616.8" cy="235.2" r="1.0" fill="#3545ad"/><circle cx="624.7" cy="244.2" r="1.0" fill="#3446af"/><circle cx="612.1" cy="229.0" r="1.0" fill="#3446af"/><circle cx="627.6" cy="258.7" r="1.0" fill="#3446af"/><circle cx="626.0" cy="258.1" r="1.0" fill="#3446af"/><circle cx="611.9" cy="243.9" r="1.0" fill="#3446af"/><circle cx="630.7" cy="259.4" r="1.0" fill="#3347b1"/><circle cx="622.9" cy="255.9" r="1.0" fill="#3347b1"/><circle cx="609.3" cy="244.2" r="1.0" fill="#3347b1"/><circle cx="608.3" cy="239.0" r="1.0" fill="#3248b3"/><circle cx="600.7" cy="226.5" r="1.0" fill="#3248b3"/><circle cx="604.8" cy="236.0" r="1.0" fill="#3149b5"/><circle cx="607.8" cy="228.1" r="1.0" fill="#3149b5"/><circle cx="632.1" cy="254.4" r="1.0" fill="#3149b6"/><circle cx="613.1" cy="230.6" r="1.0" fill="#3149b6"/><circle cx="608.4" cy="242.8" r="1.0" fill="#304ab7"/><circle cx="615.7" cy="234.8" r="1.0" fill="#2f4cb9"/><circle cx="624.2" cy="245.4" r="1.0" fill="#2f4cb9"/><circle cx="617.0" cy="249.8" r="1.0" fill="#2f4cba"/><circle cx="598.9" cy="226.3" r="1.0" fill="#2f4cba"/><circle cx="632.6" cy="261.5" r="1.0" fill="#2d4dbb"/><circle cx="604.5" cy="225.0" r="1.0" fill="#2c4ebc"/><circle cx="606.0" cy="224.7" r="1.0" fill="#2950c1"/><circle cx="603.8" cy="229.8" r="1.0" fill="#2553c5"/><circle cx="624.6" cy="245.2" r="1.0" fill="#2553c5"/><circle cx="626.2" cy="247.7" r="1.0" fill="#2354c6"/><circle cx="616.1" cy="249.2" r="1.0" fill="#2354c6"/><circle cx="602.7" cy="229.5" r="1.0" fill="#2354c6"/><circle cx="619.0" cy="239.1" r="1.0" fill="#2056c8"/><circle cx="606.5" cy="237.4" r="1.0" fill="#2056c8"/><circle cx="617.9" cy="237.1" r="1.0" fill="#1f56c8"/><circle cx="601.4" cy="229.1" r="1.0" fill="#1c58ca"/><circle cx="603.5" cy="227.2" r="1.0" fill="#1a59cb"/><circle cx="607.2" cy="238.2" r="1.0" fill="#1a59cb"/><circle cx="630.0" cy="254.0" r="1.0" fill="#1a59cb"/><circle cx="604.7" cy="234.2" r="1.0" fill="#195acc"/><circle cx="613.8" cy="245.9" r="1.0" fill="#185acc"/><circle cx="612.7" cy="232.0" r="1.0" fill="#165bcd"/><circle cx="634.6" cy="259.0" r="1.0" fill="#165ccd"/><circle cx="626.6" cy="247.1" r="1.0" fill="#165ccd"/><circle cx="625.9" cy="256.1" r="1.0" fill="#165ccd"/><circle cx="622.5" cy="242.4" r="1.0" fill="#165ccd"/><circle cx="620.5" cy="239.1" r="1.0" fill="#155cce"/><circle cx="627.4" cy="249.9" r="1.0" fill="#155cce"/><circle cx="635.5" cy="262.6" r="1.0" fill="#145dce"/><circle cx="631.8" cy="257.3" r="1.0" fill="#135dce"/><circle cx="626.6" cy="256.8" r="1.0" fill="#135dce"/><circle cx="630.4" cy="255.5" r="1.0" fill="#135ece"/><circle cx="603.2" cy="227.8" r="1.0" fill="#125ece"/><circle cx="631.2" cy="253.8" r="1.0" fill="#115fcf"/><circle cx="605.9" cy="236.8" r="1.0" fill="#115fcf"/><circle cx="628.0" cy="258.8" r="1.0" fill="#0f60cf"/><circle cx="609.3" cy="230.9" r="1.0" fill="#0f60cf"/><circle cx="626.4" cy="247.9" r="1.0" fill="#0f60cf"/><circle cx="619.0" cy="251.2" r="1.0" fill="#0f60cf"/><circle cx="625.2" cy="246.4" r="1.0" fill="#0f60cf"/><circle cx="629.5" cy="259.5" r="1.0" fill="#0d61d0"/><circle cx="612.3" cy="231.7" r="1.0" fill="#0d61d0"/><circle cx="613.6" cy="233.5" r="1.0" fill="#0d61d0"/><circle cx="603.9" cy="232.1" r="1.0" fill="#0d61d0"/><circle cx="627.5" cy="257.3" r="1.0" fill="#0d62d0"/><circle cx="603.1" cy="227.0" r="1.0" fill="#0d62d0"/><circle cx="612.9" cy="231.7" r="1.0" fill="#0d62d0"/><circle cx="619.0" cy="236.7" r="1.0" fill="#0d62d0"/><circle cx="622.4" cy="243.5" r="1.0" fill="#0d63d0"/><circle cx="629.4" cy="255.5" r="1.0" fill="#0c63d0"/><circle cx="622.5" cy="242.9" r="1.0" fill="#0c64d0"/><circle cx="607.3" cy="229.7" r="1.0" fill="#0c64d0"/><circle cx="622.5" cy="243.5" r="1.0" fill="#0c64d0"/><circle cx="625.6" cy="257.9" r="1.0" fill="#0c64d0"/><circle cx="627.6" cy="249.9" r="1.0" fill="#0c65d0"/><circle cx="629.9" cy="257.5" r="1.0" fill="#0c65d0"/><circle cx="624.5" cy="255.9" r="1.0" fill="#0c65d0"/><circle cx="606.0" cy="227.0" r="1.0" fill="#0c65d0"/><circle cx="602.7" cy="227.9" r="1.0" fill="#0c65d0"/><circle cx="625.8" cy="256.9" r="1.0" fill="#0c66d1"/><circle cx="617.5" cy="237.4" r="1.0" fill="#0c67d1"/><circle cx="626.4" cy="248.7" r="1.0" fill="#0c67d0"/><circle cx="623.7" cy="245.1" r="1.0" fill="#0c67d0"/><circle cx="613.3" cy="233.6" r="1.0" fill="#0d68d0"/><circle cx="610.8" cy="231.3" r="1.0" fill="#0d68d0"/><circle cx="629.5" cy="260.1" r="1.0" fill="#0d69d0"/><circle cx="613.9" cy="234.3" r="1.0" fill="#0e69d0"/><circle cx="605.0" cy="229.0" r="1.0" fill="#0e69d0"/><circle cx="615.3" cy="247.4" r="1.0" fill="#0e6ad0"/><circle cx="626.3" cy="248.3" r="1.0" fill="#0e6ad0"/><circle cx="615.3" cy="235.4" r="1.0" fill="#0f6bd0"/><circle cx="608.7" cy="239.7" r="1.0" fill="#0f6bd0"/><circle cx="608.7" cy="239.6" r="1.0" fill="#0f6bd0"/><circle cx="623.9" cy="243.8" r="1.0" fill="#106cd0"/><circle cx="612.9" cy="243.7" r="1.0" fill="#106cd0"/><circle cx="605.8" cy="233.4" r="1.0" fill="#106cd0"/><circle cx="604.2" cy="233.1" r="1.0" fill="#106cd0"/><circle cx="623.6" cy="254.6" r="1.0" fill="#116dd0"/><circle cx="606.8" cy="228.1" r="1.0" fill="#116dd0"/><circle cx="611.8" cy="231.8" r="1.0" fill="#116dcf"/><circle cx="603.6" cy="228.0" r="1.0" fill="#116dcf"/><circle cx="610.6" cy="230.3" r="1.0" fill="#116dcf"/><circle cx="630.3" cy="258.3" r="1.0" fill="#126ecf"/><circle cx="627.4" cy="250.2" r="1.0" fill="#126ecf"/><circle cx="608.9" cy="230.5" r="1.0" fill="#126ecf"/><circle cx="611.6" cy="244.5" r="1.0" fill="#126ecf"/><circle cx="607.0" cy="236.5" r="1.0" fill="#126ecf"/><circle cx="607.7" cy="230.1" r="1.0" fill="#136fcf"/><circle cx="629.0" cy="258.3" r="1.0" fill="#136fcf"/><circle cx="628.9" cy="249.9" r="1.0" fill="#136fcf"/><circle cx="619.1" cy="250.0" r="1.0" fill="#146fcf"/><circle cx="610.4" cy="240.9" r="1.0" fill="#1470cf"/><circle cx="616.6" cy="247.7" r="1.0" fill="#1470cf"/><circle cx="621.9" cy="253.5" r="1.0" fill="#1470ce"/><circle cx="614.7" cy="245.8" r="1.0" fill="#1470ce"/><circle cx="607.4" cy="229.1" r="1.0" fill="#1470ce"/><circle cx="625.4" cy="247.6" r="1.0" fill="#1571ce"/><circle cx="616.0" cy="247.4" r="1.0" fill="#1571ce"/><circle cx="610.7" cy="231.2" r="1.0" fill="#1571ce"/><circle cx="610.5" cy="232.0" r="1.0" fill="#1571ce"/><circle cx="619.5" cy="240.1" r="1.0" fill="#1571ce"/><circle cx="604.7" cy="231.6" r="1.0" fill="#1672ce"/><circle cx="614.9" cy="234.5" r="1.0" fill="#1672ce"/><circle cx="611.8" cy="232.5" r="1.0" fill="#1773ce"/><circle cx="615.3" cy="246.6" r="1.0" fill="#1773ce"/><circle cx="608.5" cy="238.5" r="1.0" fill="#1773cd"/><circle cx="619.2" cy="251.2" r="1.0" fill="#1773cd"/><circle cx="622.1" cy="243.8" r="1.0" fill="#1873cd"/><circle cx="611.0" cy="240.8" r="1.0" fill="#1874cd"/><circle cx="605.0" cy="229.9" r="1.0" fill="#1874cd"/><circle cx="623.0" cy="253.9" r="1.0" fill="#1874cd"/><circle cx="612.2" cy="233.1" r="1.0" fill="#1975cd"/><circle cx="627.9" cy="256.0" r="1.0" fill="#1975cc"/><circle cx="629.5" cy="256.9" r="1.0" fill="#1975cc"/><circle cx="623.8" cy="255.4" r="1.0" fill="#1a76cc"/><circle cx="616.1" cy="236.2" r="1.0" fill="#1a76cc"/><circle cx="615.9" cy="236.0" r="1.0" fill="#1a76cc"/><circle cx="604.7" cy="229.4" r="1.0" fill="#1a76cc"/><circle cx="604.6" cy="232.2" r="1.0" fill="#1a76cc"/><circle cx="625.6" cy="247.8" r="1.0" fill="#1a76cc"/><circle cx="607.3" cy="228.4" r="1.0" fill="#1a76cc"/><circle cx="607.0" cy="234.9" r="1.0" fill="#1a76cc"/><circle cx="620.2" cy="251.6" r="1.0" fill="#1a76cc"/><circle cx="607.3" cy="229.0" r="1.0" fill="#1a77cc"/><circle cx="629.1" cy="256.1" r="1.0" fill="#1b77cc"/><circle cx="608.4" cy="231.0" r="1.0" fill="#1b77cc"/><circle cx="606.3" cy="229.6" r="1.0" fill="#1b77cc"/><circle cx="608.1" cy="237.9" r="1.0" fill="#1b77cc"/><circle cx="627.9" cy="253.2" r="1.0" fill="#1b77cc"/><circle cx="623.3" cy="253.6" r="1.0" fill="#1b77cc"/><circle cx="605.8" cy="229.5" r="1.0" fill="#1b78cc"/><circle cx="627.0" cy="250.5" r="1.0" fill="#1c78cb"/><circle cx="623.1" cy="244.6" r="1.0" fill="#1c79cb"/><circle cx="604.1" cy="230.6" r="1.0" fill="#1c79cb"/><circle cx="610.7" cy="240.9" r="1.0" fill="#1c79cb"/><circle cx="617.4" cy="236.8" r="1.0" fill="#1c79cb"/><circle cx="629.6" cy="256.5" r="1.0" fill="#1c79cb"/><circle cx="620.8" cy="241.5" r="1.0" fill="#1c79cb"/><circle cx="623.0" cy="253.7" r="1.0" fill="#1c7aca"/><circle cx="605.7" cy="232.6" r="1.0" fill="#1c7aca"/><circle cx="606.6" cy="235.3" r="1.0" fill="#1d7bca"/><circle cx="615.5" cy="236.0" r="1.0" fill="#1d7bca"/><circle cx="625.6" cy="248.4" r="1.0" fill="#1d7cca"/><circle cx="609.1" cy="238.2" r="1.0" fill="#1d7cca"/><circle cx="618.5" cy="239.5" r="1.0" fill="#1d7cca"/><circle cx="607.8" cy="230.7" r="1.0" fill="#1d7cca"/><circle cx="623.0" cy="253.8" r="1.0" fill="#1d7cca"/><circle cx="623.2" cy="245.5" r="1.0" fill="#1e7cc9"/><circle cx="609.2" cy="238.6" r="1.0" fill="#1e7cc9"/><circle cx="606.7" cy="233.1" r="1.0" fill="#1e7dc9"/><circle cx="607.0" cy="234.8" r="1.0" fill="#1e7dc9"/><circle cx="612.9" cy="243.4" r="1.0" fill="#1e7dc9"/><circle cx="625.4" cy="254.6" r="1.0" fill="#1e7dc9"/><circle cx="614.6" cy="235.9" r="1.0" fill="#1e7dc9"/><circle cx="626.7" cy="255.9" r="1.0" fill="#1e7ec9"/><circle cx="608.3" cy="230.2" r="1.0" fill="#1e7ec9"/><circle cx="626.8" cy="255.2" r="1.0" fill="#1e7ec9"/><circle cx="618.6" cy="249.3" r="1.0" fill="#1e7ec9"/><circle cx="607.6" cy="235.6" r="1.0" fill="#1e7fc9"/><circle cx="622.3" cy="244.5" r="1.0" fill="#1e7fc8"/><circle cx="628.7" cy="255.5" r="1.0" fill="#1e7fc8"/><circle cx="616.5" cy="248.2" r="1.0" fill="#1e7fc8"/><circle cx="607.9" cy="231.0" r="1.0" fill="#1e80c8"/><circle cx="608.4" cy="231.3" r="1.0" fill="#1e80c8"/><circle cx="607.5" cy="236.2" r="1.0" fill="#1f81c8"/><circle cx="616.9" cy="237.7" r="1.0" fill="#1f82c7"/><circle cx="616.6" cy="247.3" r="1.0" fill="#1f82c7"/><circle cx="609.6" cy="231.4" r="1.0" fill="#1f83c7"/><circle cx="611.2" cy="232.7" r="1.0" fill="#1f83c7"/><circle cx="618.7" cy="240.2" r="1.0" fill="#1f83c7"/><circle cx="627.0" cy="255.6" r="1.0" fill="#1f83c7"/><circle cx="614.9" cy="245.3" r="1.0" fill="#1f83c7"/><circle cx="616.9" cy="237.3" r="1.0" fill="#1f83c7"/><circle cx="624.9" cy="247.8" r="1.0" fill="#1e83c7"/><circle cx="623.8" cy="246.8" r="1.0" fill="#1e84c7"/><circle cx="626.7" cy="250.4" r="1.0" fill="#1e84c7"/><circle cx="617.3" cy="238.4" r="1.0" fill="#1e84c7"/><circle cx="613.7" cy="244.1" r="1.0" fill="#1e85c7"/><circle cx="610.0" cy="239.4" r="1.0" fill="#1e85c7"/><circle cx="614.7" cy="235.9" r="1.0" fill="#1e85c7"/><circle cx="613.3" cy="234.4" r="1.0" fill="#1e85c7"/><circle cx="616.9" cy="247.7" r="1.0" fill="#1e85c7"/><circle cx="626.9" cy="255.2" r="1.0" fill="#1e86c7"/><circle cx="617.3" cy="248.1" r="1.0" fill="#1e87c7"/><circle cx="614.8" cy="245.8" r="1.0" fill="#1d87c7"/><circle cx="615.9" cy="237.2" r="1.0" fill="#1d88c7"/><circle cx="625.9" cy="249.7" r="1.0" fill="#1d88c7"/><circle cx="613.3" cy="243.8" r="1.0" fill="#1c89c6"/><circle cx="626.3" cy="250.7" r="1.0" fill="#1c89c6"/><circle cx="609.3" cy="238.5" r="1.0" fill="#1c8ac6"/><circle cx="609.5" cy="238.6" r="1.0" fill="#1c8ac6"/><circle cx="619.1" cy="249.8" r="1.0" fill="#1c8ac6"/><circle cx="609.3" cy="238.5" r="1.0" fill="#1b8bc6"/><circle cx="611.6" cy="241.8" r="1.0" fill="#1b8cc6"/><circle cx="619.0" cy="240.4" r="1.0" fill="#1b8cc6"/><circle cx="627.7" cy="255.8" r="1.0" fill="#1b8cc6"/><circle cx="624.7" cy="253.6" r="1.0" fill="#1a8dc6"/><circle cx="609.0" cy="237.5" r="1.0" fill="#1a8dc6"/><circle cx="610.1" cy="232.3" r="1.0" fill="#1a8dc6"/><circle cx="612.9" cy="242.8" r="1.0" fill="#1a8dc6"/><circle cx="615.2" cy="236.3" r="1.0" fill="#198ec6"/><circle cx="625.0" cy="248.3" r="1.0" fill="#198fc6"/><circle cx="616.7" cy="247.1" r="1.0" fill="#1890c6"/><circle cx="616.7" cy="238.3" r="1.0" fill="#1890c6"/><circle cx="608.1" cy="232.0" r="1.0" fill="#1890c6"/><circle cx="607.3" cy="232.6" r="1.0" fill="#1890c6"/><circle cx="625.2" cy="248.6" r="1.0" fill="#1890c6"/><circle cx="607.8" cy="235.0" r="1.0" fill="#1890c6"/><circle cx="621.7" cy="243.1" r="1.0" fill="#1890c6"/><circle cx="625.1" cy="254.7" r="1.0" fill="#1890c6"/><circle cx="618.9" cy="249.5" r="1.0" fill="#1891c6"/><circle cx="606.5" cy="232.1" r="1.0" fill="#1791c6"/><circle cx="627.8" cy="253.7" r="1.0" fill="#1791c6"/><circle cx="621.8" cy="244.0" r="1.0" fill="#1792c6"/><circle cx="608.3" cy="231.7" r="1.0" fill="#1792c6"/><circle cx="610.9" cy="233.7" r="1.0" fill="#1693c6"/><circle cx="619.1" cy="240.4" r="1.0" fill="#1694c6"/><circle cx="625.5" cy="254.7" r="1.0" fill="#1694c6"/><circle cx="617.9" cy="248.9" r="1.0" fill="#1694c6"/><circle cx="613.3" cy="243.4" r="1.0" fill="#1594c6"/><circle cx="617.0" cy="238.4" r="1.0" fill="#1594c6"/><circle cx="607.0" cy="232.1" r="1.0" fill="#1594c6"/><circle cx="608.5" cy="232.2" r="1.0" fill="#1594c6"/><circle cx="626.7" cy="251.6" r="1.0" fill="#1594c6"/><circle cx="618.7" cy="240.6" r="1.0" fill="#1595c6"/><circle cx="606.9" cy="234.5" r="1.0" fill="#1595c6"/><circle cx="616.4" cy="237.7" r="1.0" fill="#1595c5"/><circle cx="626.8" cy="253.8" r="1.0" fill="#1596c5"/><circle cx="616.8" cy="246.9" r="1.0" fill="#1596c5"/><circle cx="626.1" cy="254.1" r="1.0" fill="#1596c5"/><circle cx="620.5" cy="242.5" r="1.0" fill="#1596c5"/><circle cx="611.0" cy="233.1" r="1.0" fill="#1498c4"/><circle cx="619.0" cy="249.4" r="1.0" fill="#1498c4"/><circle cx="610.3" cy="232.6" r="1.0" fill="#1499c4"/><circle cx="608.8" cy="232.5" r="1.0" fill="#149ac4"/><circle cx="614.1" cy="243.8" r="1.0" fill="#149ac4"/><circle cx="608.2" cy="232.2" r="1.0" fill="#149ac4"/><circle cx="623.1" cy="252.7" r="1.0" fill="#149ac3"/><circle cx="623.7" cy="246.8" r="1.0" fill="#149ac3"/><circle cx="626.7" cy="254.3" r="1.0" fill="#149ac3"/><circle cx="606.5" cy="233.5" r="1.0" fill="#149bc3"/><circle cx="626.3" cy="250.9" r="1.0" fill="#149bc3"/><circle cx="625.9" cy="250.0" r="1.0" fill="#149cc3"/><circle cx="616.7" cy="246.7" r="1.0" fill="#149cc2"/><circle cx="625.0" cy="253.4" r="1.0" fill="#149cc2"/><circle cx="608.9" cy="236.7" r="1.0" fill="#149cc2"/><circle cx="625.2" cy="249.3" r="1.0" fill="#149dc1"/><circle cx="621.2" cy="243.5" r="1.0" fill="#149dc1"/><circle cx="616.6" cy="237.9" r="1.0" fill="#149dc1"/><circle cx="618.7" cy="240.8" r="1.0" fill="#149dc1"/><circle cx="615.8" cy="245.9" r="1.0" fill="#149ec1"/><circle cx="612.2" cy="234.7" r="1.0" fill="#149ec0"/><circle cx="612.6" cy="241.9" r="1.0" fill="#149ec0"/><circle cx="614.6" cy="244.9" r="1.0" fill="#149fc0"/><circle cx="626.2" cy="252.9" r="1.0" fill="#149fbf"/><circle cx="626.4" cy="252.8" r="1.0" fill="#149fbf"/><circle cx="615.8" cy="245.6" r="1.0" fill="#149fbf"/><circle cx="626.0" cy="253.4" r="1.0" fill="#149fbf"/><circle cx="618.2" cy="240.0" r="1.0" fill="#14a0bf"/><circle cx="617.1" cy="247.4" r="1.0" fill="#14a0bf"/><circle cx="610.0" cy="233.0" r="1.0" fill="#14a0be"/><circle cx="606.8" cy="232.5" r="1.0" fill="#14a1be"/><circle cx="611.8" cy="234.2" r="1.0" fill="#14a1bd"/><circle cx="607.6" cy="235.0" r="1.0" fill="#14a2bd"/><circle cx="612.3" cy="241.8" r="1.0" fill="#14a2bc"/><circle cx="626.5" cy="254.4" r="1.0" fill="#14a2bc"/><circle cx="622.7" cy="245.8" r="1.0" fill="#14a2bc"/><circle cx="612.6" cy="242.6" r="1.0" fill="#14a3bb"/><circle cx="621.8" cy="244.5" r="1.0" fill="#14a3bb"/><circle cx="622.2" cy="251.4" r="1.0" fill="#15a3ba"/><circle cx="607.1" cy="232.8" r="1.0" fill="#15a3ba"/><circle cx="610.6" cy="239.6" r="1.0" fill="#15a4ba"/><circle cx="606.6" cy="231.8" r="1.0" fill="#15a4ba"/><circle cx="617.3" cy="239.6" r="1.0" fill="#15a4b9"/><circle cx="623.9" cy="252.9" r="1.0" fill="#15a4b9"/><circle cx="616.9" cy="247.1" r="1.0" fill="#15a4b9"/><circle cx="625.9" cy="253.4" r="1.0" fill="#15a4b9"/><circle cx="611.4" cy="240.2" r="1.0" fill="#15a4b9"/><circle cx="609.4" cy="232.9" r="1.0" fill="#16a4b9"/><circle cx="612.0" cy="234.3" r="1.0" fill="#16a5b8"/><circle cx="614.3" cy="236.2" r="1.0" fill="#16a5b8"/><circle cx="608.8" cy="236.7" r="1.0" fill="#16a5b8"/><circle cx="608.5" cy="235.6" r="1.0" fill="#16a5b8"/><circle cx="616.6" cy="238.4" r="1.0" fill="#17a5b7"/><circle cx="623.7" cy="252.5" r="1.0" fill="#17a6b7"/><circle cx="624.2" cy="252.6" r="1.0" fill="#17a6b7"/><circle cx="608.1" cy="233.0" r="1.0" fill="#17a6b7"/><circle cx="607.9" cy="234.3" r="1.0" fill="#17a6b6"/><circle cx="620.1" cy="242.7" r="1.0" fill="#18a6b6"/><circle cx="623.5" cy="246.3" r="1.0" fill="#18a6b6"/><circle cx="624.7" cy="248.7" r="1.0" fill="#18a7b6"/><circle cx="611.7" cy="241.1" r="1.0" fill="#19a7b5"/><circle cx="613.1" cy="235.6" r="1.0" fill="#19a7b5"/><circle cx="617.8" cy="239.8" r="1.0" fill="#19a7b5"/><circle cx="614.8" cy="244.7" r="1.0" fill="#19a7b5"/><circle cx="620.7" cy="243.3" r="1.0" fill="#19a7b5"/><circle cx="608.6" cy="235.7" r="1.0" fill="#19a7b5"/><circle cx="608.1" cy="232.0" r="1.0" fill="#1aa7b4"/><circle cx="623.1" cy="246.5" r="1.0" fill="#1aa7b4"/><circle cx="626.0" cy="251.6" r="1.0" fill="#1aa8b4"/><circle cx="626.9" cy="252.6" r="1.0" fill="#1aa8b4"/><circle cx="615.8" cy="245.8" r="1.0" fill="#1aa8b4"/><circle cx="625.6" cy="251.0" r="1.0" fill="#1aa8b4"/><circle cx="610.3" cy="239.2" r="1.0" fill="#1ba8b4"/><circle cx="609.6" cy="237.4" r="1.0" fill="#1ba8b3"/><circle cx="612.7" cy="242.1" r="1.0" fill="#1ca8b3"/><circle cx="607.4" cy="233.8" r="1.0" fill="#1ca9b2"/><circle cx="609.6" cy="237.2" r="1.0" fill="#1da9b2"/><circle cx="623.6" cy="247.0" r="1.0" fill="#1da9b2"/><circle cx="624.4" cy="248.1" r="1.0" fill="#1ea9b1"/><circle cx="616.1" cy="238.4" r="1.0" fill="#1ea9b1"/><circle cx="611.2" cy="240.3" r="1.0" fill="#1ea9b1"/><circle cx="617.7" cy="239.2" r="1.0" fill="#20aab0"/><circle cx="608.6" cy="233.2" r="1.0" fill="#20aab0"/><circle cx="611.5" cy="234.3" r="1.0" fill="#21aaaf"/><circle cx="621.5" cy="244.4" r="1.0" fill="#21abaf"/><circle cx="611.9" cy="234.6" r="1.0" fill="#23abae"/><circle cx="620.2" cy="242.7" r="1.0" fill="#23abae"/><circle cx="610.0" cy="233.6" r="1.0" fill="#24acad"/><circle cx="624.5" cy="252.0" r="1.0" fill="#25acad"/><circle cx="618.8" cy="248.6" r="1.0" fill="#25acad"/><circle cx="615.8" cy="245.1" r="1.0" fill="#25acad"/><circle cx="623.8" cy="252.5" r="1.0" fill="#25acac"/><circle cx="616.3" cy="238.6" r="1.0" fill="#25acac"/><circle cx="619.6" cy="249.1" r="1.0" fill="#26acac"/><circle cx="623.9" cy="247.1" r="1.0" fill="#27adab"/><circle cx="613.5" cy="242.6" r="1.0" fill="#28adab"/><circle cx="618.9" cy="241.3" r="1.0" fill="#28adab"/><circle cx="624.6" cy="252.0" r="1.0" fill="#29adaa"/><circle cx="608.3" cy="233.7" r="1.0" fill="#2baea9"/><circle cx="613.4" cy="242.7" r="1.0" fill="#2caea9"/><circle cx="623.3" cy="246.8" r="1.0" fill="#2caea9"/><circle cx="615.3" cy="237.6" r="1.0" fill="#2caea9"/><circle cx="610.5" cy="238.9" r="1.0" fill="#2caea8"/><circle cx="617.4" cy="240.0" r="1.0" fill="#2daea8"/><circle cx="619.1" cy="248.7" r="1.0" fill="#2daea8"/><circle cx="624.0" cy="248.0" r="1.0" fill="#2daea8"/><circle cx="608.4" cy="234.2" r="1.0" fill="#2dafa8"/><circle cx="608.9" cy="234.7" r="1.0" fill="#2eafa7"/><circle cx="625.2" cy="250.2" r="1.0" fill="#2fafa7"/><circle cx="611.0" cy="238.9" r="1.0" fill="#30afa6"/><circle cx="621.6" cy="245.0" r="1.0" fill="#30afa6"/><circle cx="613.9" cy="243.3" r="1.0" fill="#31b0a6"/><circle cx="624.4" cy="252.4" r="1.0" fill="#31b0a6"/><circle cx="623.9" cy="251.8" r="1.0" fill="#31b0a5"/><circle cx="624.9" cy="251.3" r="1.0" fill="#31b0a5"/><circle cx="616.9" cy="246.4" r="1.0" fill="#32b0a5"/><circle cx="624.1" cy="248.5" r="1.0" fill="#33b0a5"/><circle cx="626.0" cy="253.2" r="1.0" fill="#33b0a5"/><circle cx="621.5" cy="244.6" r="1.0" fill="#34b0a4"/><circle cx="614.3" cy="236.5" r="1.0" fill="#34b0a4"/><circle cx="624.7" cy="251.3" r="1.0" fill="#34b1a4"/><circle cx="610.8" cy="234.3" r="1.0" fill="#36b1a3"/><circle cx="624.1" cy="251.0" r="1.0" fill="#36b1a3"/><circle cx="616.9" cy="238.9" r="1.0" fill="#36b1a3"/><circle cx="622.9" cy="246.2" r="1.0" fill="#36b1a3"/><circle cx="622.9" cy="246.6" r="1.0" fill="#37b1a2"/><circle cx="612.5" cy="241.4" r="1.0" fill="#38b1a2"/><circle cx="624.8" cy="249.7" r="1.0" fill="#39b2a1"/><circle cx="624.6" cy="252.6" r="1.0" fill="#39b2a1"/><circle cx="614.3" cy="236.9" r="1.0" fill="#3cb29f"/><circle cx="611.8" cy="240.3" r="1.0" fill="#3db39f"/><circle cx="615.1" cy="238.0" r="1.0" fill="#3eb39e"/><circle cx="622.3" cy="251.3" r="1.0" fill="#3eb39e"/><circle cx="624.2" cy="250.9" r="1.0" fill="#40b39d"/><circle cx="624.8" cy="251.1" r="1.0" fill="#41b49d"/><circle cx="618.6" cy="241.0" r="1.0" fill="#41b49d"/><circle cx="612.0" cy="240.0" r="1.0" fill="#43b49c"/><circle cx="619.2" cy="242.0" r="1.0" fill="#44b49b"/><circle cx="614.3" cy="237.0" r="1.0" fill="#46b59a"/><circle cx="621.8" cy="245.1" r="1.0" fill="#46b59a"/><circle cx="622.5" cy="251.4" r="1.0" fill="#49b598"/><circle cx="624.7" cy="249.7" r="1.0" fill="#4bb698"/><circle cx="609.4" cy="235.7" r="1.0" fill="#4cb697"/><circle cx="609.5" cy="234.1" r="1.0" fill="#4db697"/><circle cx="620.1" cy="243.2" r="1.0" fill="#4eb696"/><circle cx="611.2" cy="239.1" r="1.0" fill="#4eb696"/><circle cx="622.6" cy="251.2" r="1.0" fill="#4fb696"/><circle cx="616.6" cy="245.7" r="1.0" fill="#50b795"/><circle cx="621.4" cy="245.1" r="1.0" fill="#51b794"/><circle cx="614.0" cy="243.0" r="1.0" fill="#53b793"/><circle cx="624.3" cy="251.5" r="1.0" fill="#56b892"/><circle cx="614.4" cy="237.2" r="1.0" fill="#56b892"/><circle cx="614.1" cy="237.3" r="1.0" fill="#58b891"/><circle cx="614.5" cy="243.2" r="1.0" fill="#5ab890"/><circle cx="612.0" cy="240.7" r="1.0" fill="#5cb88f"/><circle cx="618.6" cy="241.6" r="1.0" fill="#5db98f"/><circle cx="624.2" cy="250.5" r="1.0" fill="#5eb98e"/><circle cx="616.7" cy="245.7" r="1.0" fill="#5fb98e"/><circle cx="619.9" cy="249.0" r="1.0" fill="#5fb98e"/><circle cx="619.7" cy="248.8" r="1.0" fill="#60b98e"/><circle cx="623.5" cy="247.4" r="1.0" fill="#60b98e"/><circle cx="622.8" cy="246.9" r="1.0" fill="#60b98d"/><circle cx="613.9" cy="242.8" r="1.0" fill="#62b98d"/><circle cx="616.3" cy="239.0" r="1.0" fill="#63b98c"/><circle cx="619.9" cy="243.2" r="1.0" fill="#65b98b"/><circle cx="619.7" cy="248.7" r="1.0" fill="#65b98b"/><circle cx="622.3" cy="250.8" r="1.0" fill="#66ba8b"/><circle cx="611.8" cy="235.2" r="1.0" fill="#66ba8b"/><circle cx="614.5" cy="243.4" r="1.0" fill="#67ba8b"/><circle cx="612.6" cy="235.9" r="1.0" fill="#67ba8a"/><circle cx="624.0" cy="250.7" r="1.0" fill="#68ba8a"/><circle cx="616.8" cy="246.0" r="1.0" fill="#68ba8a"/><circle cx="611.0" cy="234.7" r="1.0" fill="#69ba8a"/><circle cx="613.8" cy="236.7" r="1.0" fill="#6aba89"/><circle cx="617.8" cy="246.8" r="1.0" fill="#6bba89"/><circle cx="623.9" cy="251.3" r="1.0" fill="#6cba88"/><circle cx="619.7" cy="248.5" r="1.0" fill="#6dba88"/><circle cx="624.0" cy="251.2" r="1.0" fill="#6eba88"/><circle cx="611.2" cy="235.6" r="1.0" fill="#6eba88"/><circle cx="616.6" cy="238.9" r="1.0" fill="#70bb87"/><circle cx="609.7" cy="236.8" r="1.0" fill="#72bb86"/><circle cx="617.4" cy="246.4" r="1.0" fill="#73bb86"/><circle cx="616.8" cy="239.6" r="1.0" fill="#73bb85"/><circle cx="609.9" cy="235.7" r="1.0" fill="#74bb85"/><circle cx="611.1" cy="239.0" r="1.0" fill="#75bb85"/><circle cx="621.1" cy="244.3" r="1.0" fill="#76bb84"/><circle cx="614.7" cy="237.7" r="1.0" fill="#77bb84"/><circle cx="612.3" cy="235.7" r="1.0" fill="#79bb83"/><circle cx="612.0" cy="236.1" r="1.0" fill="#7abb83"/><circle cx="613.5" cy="236.4" r="1.0" fill="#7cbb82"/><circle cx="617.1" cy="246.0" r="1.0" fill="#7dbb82"/><circle cx="619.3" cy="242.5" r="1.0" fill="#7dbb82"/><circle cx="612.5" cy="236.3" r="1.0" fill="#7ebc81"/><circle cx="623.4" cy="249.2" r="1.0" fill="#7ebc81"/><circle cx="614.1" cy="237.4" r="1.0" fill="#80bc81"/><circle cx="612.9" cy="236.9" r="1.0" fill="#80bc80"/><circle cx="613.2" cy="236.7" r="1.0" fill="#81bc80"/><circle cx="610.5" cy="237.4" r="1.0" fill="#81bc80"/><circle cx="616.4" cy="239.2" r="1.0" fill="#81bc80"/><circle cx="617.8" cy="246.9" r="1.0" fill="#83bc80"/><circle cx="620.3" cy="243.6" r="1.0" fill="#83bc7f"/><circle cx="620.2" cy="243.4" r="1.0" fill="#84bc7f"/><circle cx="613.7" cy="242.0" r="1.0" fill="#85bc7f"/><circle cx="617.8" cy="247.1" r="1.0" fill="#85bc7f"/><circle cx="610.7" cy="235.1" r="1.0" fill="#86bc7f"/><circle cx="612.5" cy="240.6" r="1.0" fill="#86bc7e"/><circle cx="621.7" cy="249.6" r="1.0" fill="#86bc7e"/><circle cx="624.1" cy="250.7" r="1.0" fill="#87bc7e"/><circle cx="610.5" cy="236.7" r="1.0" fill="#89bc7d"/><circle cx="620.6" cy="244.0" r="1.0" fill="#8bbc7c"/><circle cx="622.2" cy="250.5" r="1.0" fill="#8dbc7c"/><circle cx="616.7" cy="239.9" r="1.0" fill="#8dbc7c"/><circle cx="609.8" cy="235.4" r="1.0" fill="#8dbc7c"/><circle cx="623.9" cy="249.8" r="1.0" fill="#90bc7b"/><circle cx="622.9" cy="247.4" r="1.0" fill="#91bc7a"/><circle cx="613.5" cy="237.2" r="1.0" fill="#92bc7a"/><circle cx="616.4" cy="239.6" r="1.0" fill="#94bc79"/><circle cx="622.9" cy="248.2" r="1.0" fill="#95bc79"/><circle cx="622.6" cy="247.0" r="1.0" fill="#97bc78"/><circle cx="617.8" cy="246.4" r="1.0" fill="#97bc78"/><circle cx="615.1" cy="243.5" r="1.0" fill="#98bc78"/><circle cx="621.5" cy="250.0" r="1.0" fill="#99bc77"/><circle cx="614.6" cy="243.2" r="1.0" fill="#99bc77"/><circle cx="622.5" cy="246.8" r="1.0" fill="#9abc77"/><circle cx="612.8" cy="236.3" r="1.0" fill="#9abc77"/><circle cx="610.7" cy="236.5" r="1.0" fill="#9abc77"/><circle cx="623.8" cy="249.8" r="1.0" fill="#9cbc76"/><circle cx="622.3" cy="246.7" r="1.0" fill="#9cbc76"/><circle cx="610.3" cy="235.9" r="1.0" fill="#9dbc76"/><circle cx="621.3" cy="245.8" r="1.0" fill="#9dbc76"/><circle cx="616.8" cy="245.5" r="1.0" fill="#9dbc76"/><circle cx="616.1" cy="239.3" r="1.0" fill="#9ebc76"/><circle cx="613.8" cy="237.3" r="1.0" fill="#9ebc76"/><circle cx="610.7" cy="236.0" r="1.0" fill="#9fbc75"/><circle cx="621.7" cy="246.1" r="1.0" fill="#9fbc75"/><circle cx="611.0" cy="238.3" r="1.0" fill="#9fbc75"/><circle cx="617.4" cy="246.2" r="1.0" fill="#9fbc75"/><circle cx="613.1" cy="236.9" r="1.0" fill="#a0bc75"/><circle cx="621.9" cy="246.6" r="1.0" fill="#a3bc74"/><circle cx="616.7" cy="245.7" r="1.0" fill="#a4bc74"/><circle cx="619.4" cy="242.8" r="1.0" fill="#a4bc74"/><circle cx="615.8" cy="238.9" r="1.0" fill="#a5bc73"/><circle cx="617.9" cy="246.4" r="1.0" fill="#a5bc73"/><circle cx="612.1" cy="239.4" r="1.0" fill="#a7bc72"/><circle cx="621.0" cy="245.5" r="1.0" fill="#a8bc72"/><circle cx="615.6" cy="239.0" r="1.0" fill="#a8bc72"/><circle cx="618.8" cy="247.2" r="1.0" fill="#a8bc72"/><circle cx="619.3" cy="243.0" r="1.0" fill="#a9bc72"/><circle cx="623.4" cy="249.1" r="1.0" fill="#a9bc72"/><circle cx="612.8" cy="240.9" r="1.0" fill="#aabc71"/><circle cx="622.0" cy="246.2" r="1.0" fill="#aabc71"/><circle cx="611.0" cy="236.2" r="1.0" fill="#adbc70"/><circle cx="615.4" cy="239.0" r="1.0" fill="#adbc70"/><circle cx="621.7" cy="249.1" r="1.0" fill="#aebc70"/><circle cx="612.9" cy="240.5" r="1.0" fill="#afbc70"/><circle cx="619.0" cy="242.6" r="1.0" fill="#b0bc6f"/><circle cx="620.7" cy="249.0" r="1.0" fill="#b1bc6f"/><circle cx="612.7" cy="240.3" r="1.0" fill="#b2bc6e"/><circle cx="620.7" cy="244.3" r="1.0" fill="#b3bc6e"/><circle cx="616.7" cy="245.5" r="1.0" fill="#b3bc6e"/><circle cx="613.7" cy="241.9" r="1.0" fill="#b4bc6e"/><circle cx="613.5" cy="237.6" r="1.0" fill="#b7bc6d"/><circle cx="613.9" cy="242.1" r="1.0" fill="#b8bb6c"/><circle cx="611.8" cy="238.7" r="1.0" fill="#b9bb6c"/><circle cx="621.7" cy="247.0" r="1.0" fill="#babb6c"/><circle cx="616.9" cy="240.3" r="1.0" fill="#babb6c"/><circle cx="616.0" cy="239.6" r="1.0" fill="#bbbb6b"/><circle cx="613.4" cy="241.0" r="1.0" fill="#bcbb6b"/><circle cx="622.6" cy="248.1" r="1.0" fill="#bcbb6b"/><circle cx="621.5" cy="249.0" r="1.0" fill="#bcbb6b"/><circle cx="617.8" cy="246.1" r="1.0" fill="#bdbb6b"/><circle cx="618.4" cy="242.5" r="1.0" fill="#bdbb6b"/><circle cx="622.8" cy="248.6" r="1.0" fill="#bdbb6b"/><circle cx="623.2" cy="249.3" r="1.0" fill="#bdbb6a"/><circle cx="610.8" cy="237.1" r="1.0" fill="#bdbb6a"/><circle cx="615.5" cy="239.1" r="1.0" fill="#bebb6a"/><circle cx="620.0" cy="248.1" r="1.0" fill="#bfbb6a"/><circle cx="617.3" cy="245.9" r="1.0" fill="#bfbb6a"/><circle cx="621.2" cy="248.7" r="1.0" fill="#c0bb69"/><circle cx="620.0" cy="248.3" r="1.0" fill="#c1bb69"/><circle cx="613.4" cy="237.2" r="1.0" fill="#c1bb69"/><circle cx="613.6" cy="237.3" r="1.0" fill="#c3bb68"/><circle cx="613.2" cy="240.9" r="1.0" fill="#c3bb68"/><circle cx="616.5" cy="240.1" r="1.0" fill="#c3bb68"/><circle cx="616.4" cy="244.7" r="1.0" fill="#c4bb68"/><circle cx="620.2" cy="248.4" r="1.0" fill="#c5bb68"/><circle cx="620.3" cy="244.6" r="1.0" fill="#c5bb68"/><circle cx="615.9" cy="239.8" r="1.0" fill="#c5bb68"/><circle cx="615.0" cy="243.0" r="1.0" fill="#c5bb67"/><circle cx="622.8" cy="248.1" r="1.0" fill="#c6bb67"/><circle cx="618.3" cy="242.0" r="1.0" fill="#c6bb67"/><circle cx="621.7" cy="249.0" r="1.0" fill="#c7bb67"/><circle cx="619.5" cy="247.7" r="1.0" fill="#c7bb67"/><circle cx="617.4" cy="241.2" r="1.0" fill="#c7bb67"/><circle cx="613.5" cy="237.7" r="1.0" fill="#caba66"/><circle cx="611.7" cy="237.0" r="1.0" fill="#cbba65"/><circle cx="617.6" cy="240.9" r="1.0" fill="#cbba65"/><circle cx="621.9" cy="247.6" r="1.0" fill="#ccba65"/><circle cx="611.6" cy="238.0" r="1.0" fill="#cdba65"/><circle cx="612.4" cy="237.6" r="1.0" fill="#cdba65"/><circle cx="614.0" cy="241.5" r="1.0" fill="#cdba65"/><circle cx="611.3" cy="237.2" r="1.0" fill="#ceba64"/><circle cx="613.5" cy="237.4" r="1.0" fill="#ceba64"/><circle cx="615.0" cy="238.6" r="1.0" fill="#ceba64"/><circle cx="617.4" cy="241.0" r="1.0" fill="#cfba64"/><circle cx="614.8" cy="243.0" r="1.0" fill="#cfba64"/><circle cx="617.2" cy="240.7" r="1.0" fill="#cfba64"/><circle cx="612.1" cy="237.9" r="1.0" fill="#cfba64"/><circle cx="612.4" cy="237.5" r="1.0" fill="#d0ba64"/><circle cx="612.9" cy="240.1" r="1.0" fill="#d0ba63"/><circle cx="619.1" cy="247.4" r="1.0" fill="#d1ba63"/><circle cx="620.1" cy="248.0" r="1.0" fill="#d1ba63"/><circle cx="614.3" cy="242.5" r="1.0" fill="#d2ba63"/><circle cx="621.3" cy="246.5" r="1.0" fill="#d3ba62"/><circle cx="621.8" cy="248.9" r="1.0" fill="#d3ba62"/><circle cx="614.6" cy="238.5" r="1.0" fill="#d3ba62"/><circle cx="621.2" cy="248.5" r="1.0" fill="#d4ba62"/><circle cx="621.9" cy="249.4" r="1.0" fill="#d4ba62"/><circle cx="613.3" cy="240.8" r="1.0" fill="#d5ba62"/><circle cx="618.4" cy="242.8" r="1.0" fill="#d5ba62"/><circle cx="622.3" cy="248.1" r="1.0" fill="#d6ba61"/><circle cx="622.6" cy="248.8" r="1.0" fill="#d7ba61"/><circle cx="613.3" cy="240.6" r="1.0" fill="#d8ba60"/><circle cx="612.6" cy="236.8" r="1.0" fill="#d9ba60"/><circle cx="621.3" cy="248.0" r="1.0" fill="#daba60"/><circle cx="614.0" cy="238.3" r="1.0" fill="#dbba5f"/><circle cx="615.6" cy="239.5" r="1.0" fill="#dbba5f"/><circle cx="619.1" cy="242.8" r="1.0" fill="#dcba5f"/><circle cx="615.3" cy="243.4" r="1.0" fill="#dcb95f"/><circle cx="622.5" cy="248.9" r="1.0" fill="#ddb95e"/><circle cx="612.4" cy="238.9" r="1.0" fill="#deb95e"/><circle cx="614.3" cy="242.0" r="1.0" fill="#deb95e"/><circle cx="621.2" cy="246.2" r="1.0" fill="#e0b95d"/><circle cx="611.5" cy="237.5" r="1.0" fill="#e0b95d"/><circle cx="618.4" cy="242.1" r="1.0" fill="#e0b95d"/><circle cx="611.5" cy="237.2" r="1.0" fill="#e1b95c"/><circle cx="614.0" cy="241.4" r="1.0" fill="#e2b95c"/><circle cx="621.8" cy="249.0" r="1.0" fill="#e3b95c"/><circle cx="617.6" cy="241.2" r="1.0" fill="#e3b95b"/><circle cx="613.5" cy="238.0" r="1.0" fill="#e4b95b"/><circle cx="614.7" cy="238.8" r="1.0" fill="#e6b95a"/><circle cx="614.4" cy="238.6" r="1.0" fill="#e9ba58"/><circle cx="622.5" cy="248.5" r="1.0" fill="#ebba57"/><circle cx="613.1" cy="239.2" r="1.0" fill="#edba56"/><circle cx="612.7" cy="237.7" r="1.0" fill="#edba56"/><circle cx="613.9" cy="238.0" r="1.0" fill="#eeba55"/><circle cx="618.4" cy="246.5" r="1.0" fill="#eeba55"/><circle cx="619.9" cy="247.9" r="1.0" fill="#eeba55"/><circle cx="613.7" cy="238.3" r="1.0" fill="#efbb54"/><circle cx="611.8" cy="237.8" r="1.0" fill="#f0bb54"/><circle cx="618.4" cy="246.3" r="1.0" fill="#f0bb54"/><circle cx="616.6" cy="240.8" r="1.0" fill="#f0bb54"/><circle cx="621.0" cy="246.2" r="1.0" fill="#f1bb53"/><circle cx="614.7" cy="242.5" r="1.0" fill="#f1bb53"/><circle cx="615.8" cy="239.8" r="1.0" fill="#f1bb53"/><circle cx="621.5" cy="246.4" r="1.0" fill="#f2bb52"/><circle cx="615.4" cy="239.5" r="1.0" fill="#f2bc52"/><circle cx="618.3" cy="245.9" r="1.0" fill="#f3bc52"/><circle cx="616.0" cy="240.2" r="1.0" fill="#f3bc51"/><circle cx="616.0" cy="240.5" r="1.0" fill="#f3bc51"/><circle cx="613.2" cy="240.3" r="1.0" fill="#f3bc51"/><circle cx="615.7" cy="243.7" r="1.0" fill="#f3bc51"/><circle cx="620.0" cy="247.4" r="1.0" fill="#f3bc51"/><circle cx="612.6" cy="237.9" r="1.0" fill="#f4bd50"/><circle cx="620.6" cy="246.0" r="1.0" fill="#f4bd50"/><circle cx="613.6" cy="240.6" r="1.0" fill="#f4bd50"/><circle cx="617.0" cy="245.1" r="1.0" fill="#f4bd4f"/><circle cx="621.9" cy="247.7" r="1.0" fill="#f4bd4f"/><circle cx="618.1" cy="242.2" r="1.0" fill="#f5be4f"/><circle cx="612.6" cy="238.2" r="1.0" fill="#f5be4f"/><circle cx="613.2" cy="240.5" r="1.0" fill="#f5be4f"/><circle cx="621.7" cy="247.8" r="1.0" fill="#f5be4e"/><circle cx="612.8" cy="239.6" r="1.0" fill="#f6be4e"/><circle cx="618.7" cy="246.3" r="1.0" fill="#f6bf4d"/><circle cx="612.8" cy="238.7" r="1.0" fill="#f6bf4d"/><circle cx="613.6" cy="238.5" r="1.0" fill="#f7bf4d"/><circle cx="620.5" cy="247.5" r="1.0" fill="#f7c04c"/><circle cx="621.9" cy="247.9" r="1.0" fill="#f7c04c"/><circle cx="621.2" cy="247.3" r="1.0" fill="#f7c04c"/><circle cx="621.6" cy="247.5" r="1.0" fill="#f7c04b"/><circle cx="621.5" cy="248.2" r="1.0" fill="#f7c04b"/><circle cx="619.0" cy="243.5" r="1.0" fill="#f7c14b"/><circle cx="613.0" cy="237.6" r="1.0" fill="#f7c14b"/><circle cx="620.6" cy="247.8" r="1.0" fill="#f7c14a"/><circle cx="617.0" cy="244.5" r="1.0" fill="#f7c14a"/><circle cx="618.7" cy="246.4" r="1.0" fill="#f7c24a"/><circle cx="619.1" cy="246.8" r="1.0" fill="#f8c249"/><circle cx="621.0" cy="247.3" r="1.0" fill="#f8c349"/><circle cx="619.7" cy="246.8" r="1.0" fill="#f8c349"/><circle cx="619.7" cy="247.4" r="1.0" fill="#f8c348"/><circle cx="621.1" cy="246.0" r="1.0" fill="#f8c448"/><circle cx="621.2" cy="247.1" r="1.0" fill="#f8c448"/><circle cx="613.3" cy="238.9" r="1.0" fill="#f8c448"/><circle cx="620.3" cy="246.8" r="1.0" fill="#f8c547"/><circle cx="619.6" cy="244.5" r="1.0" fill="#f8c547"/><circle cx="618.4" cy="246.0" r="1.0" fill="#f8c547"/><circle cx="620.4" cy="246.1" r="1.0" fill="#f7c646"/><circle cx="615.5" cy="239.8" r="1.0" fill="#f7c746"/><circle cx="619.3" cy="244.2" r="1.0" fill="#f7c745"/><circle cx="618.4" cy="242.8" r="1.0" fill="#f7c745"/><circle cx="619.7" cy="244.5" r="1.0" fill="#f7c845"/><circle cx="614.8" cy="239.1" r="1.0" fill="#f7c844"/><circle cx="620.0" cy="244.8" r="1.0" fill="#f7c944"/><circle cx="613.1" cy="238.5" r="1.0" fill="#f7c943"/><circle cx="619.8" cy="244.5" r="1.0" fill="#f7c943"/><circle cx="614.1" cy="240.8" r="1.0" fill="#f7c943"/><circle cx="613.9" cy="239.4" r="1.0" fill="#f7cb42"/><circle cx="613.3" cy="239.5" r="1.0" fill="#f6cc41"/><circle cx="615.7" cy="243.1" r="1.0" fill="#f6cc41"/><circle cx="619.6" cy="244.1" r="1.0" fill="#f6cd41"/><circle cx="619.4" cy="246.7" r="1.0" fill="#f6cd41"/><circle cx="621.3" cy="247.5" r="1.0" fill="#f6cd40"/><circle cx="616.6" cy="241.1" r="1.0" fill="#f5cf3f"/><circle cx="613.7" cy="239.3" r="1.0" fill="#f5d03e"/><circle cx="613.2" cy="239.0" r="1.0" fill="#f5d13e"/><circle cx="615.9" cy="240.5" r="1.0" fill="#f5d13e"/><circle cx="617.9" cy="245.4" r="1.0" fill="#f4d13e"/><circle cx="614.8" cy="242.2" r="1.0" fill="#f4d33d"/><circle cx="613.6" cy="239.2" r="1.0" fill="#f3d43c"/><circle cx="620.3" cy="245.6" r="1.0" fill="#f3d43c"/><circle cx="620.4" cy="247.5" r="1.0" fill="#f3d53b"/><circle cx="619.5" cy="246.7" r="1.0" fill="#f3d53b"/><circle cx="616.0" cy="241.2" r="1.0" fill="#f3d53b"/><circle cx="618.3" cy="245.7" r="1.0" fill="#f2d73a"/><circle cx="614.1" cy="240.7" r="1.0" fill="#f2d839"/><circle cx="614.3" cy="240.9" r="1.0" fill="#f2d839"/><circle cx="614.7" cy="241.5" r="1.0" fill="#f2d839"/><circle cx="618.2" cy="245.4" r="1.0" fill="#f2d839"/><circle cx="614.1" cy="240.8" r="1.0" fill="#f2d839"/><circle cx="617.3" cy="244.6" r="1.0" fill="#f2d839"/><circle cx="620.2" cy="246.6" r="1.0" fill="#f2da38"/><circle cx="616.7" cy="243.7" r="1.0" fill="#f1da38"/><circle cx="619.9" cy="244.7" r="1.0" fill="#f1dc37"/><circle cx="613.4" cy="239.3" r="1.0" fill="#f1dc37"/><circle cx="619.0" cy="243.8" r="1.0" fill="#f1dc36"/><circle cx="617.3" cy="242.0" r="1.0" fill="#f1de35"/><circle cx="614.1" cy="240.9" r="1.0" fill="#f1de35"/><circle cx="616.3" cy="240.8" r="1.0" fill="#f1e034"/><circle cx="616.9" cy="241.2" r="1.0" fill="#f1e034"/><circle cx="616.3" cy="243.3" r="1.0" fill="#f1e133"/><circle cx="618.7" cy="243.6" r="1.0" fill="#f1e133"/><circle cx="615.0" cy="241.8" r="1.0" fill="#f1e133"/><circle cx="614.9" cy="241.4" r="1.0" fill="#f0e133"/><circle cx="619.3" cy="244.9" r="1.0" fill="#f0e332"/><circle cx="617.8" cy="243.7" r="1.0" fill="#f0e332"/><circle cx="618.8" cy="246.0" r="1.0" fill="#f1e332"/><circle cx="616.3" cy="243.3" r="1.0" fill="#f1e432"/><circle cx="620.2" cy="246.6" r="1.0" fill="#f1e531"/><circle cx="617.0" cy="243.9" r="1.0" fill="#f1e630"/><circle cx="616.1" cy="243.1" r="1.0" fill="#f1e730"/><circle cx="619.4" cy="244.5" r="1.0" fill="#f1e92f"/><circle cx="619.9" cy="245.9" r="1.0" fill="#f1e92f"/><circle cx="616.1" cy="242.8" r="1.0" fill="#f1ea2e"/><circle cx="614.6" cy="240.4" r="1.0" fill="#f1ea2e"/><circle cx="616.6" cy="243.9" r="1.0" fill="#f2eb2e"/><circle cx="618.3" cy="245.3" r="1.0" fill="#f2eb2e"/><circle cx="617.8" cy="244.9" r="1.0" fill="#f2ee2c"/><circle cx="618.5" cy="244.0" r="1.0" fill="#f3ef2c"/><circle cx="618.1" cy="244.9" r="1.0" fill="#f3f02b"/><circle cx="614.9" cy="240.5" r="1.0" fill="#f4f12a"/><circle cx="615.5" cy="242.2" r="1.0" fill="#f4f22a"/><circle cx="617.8" cy="243.0" r="1.0" fill="#f4f22a"/><circle cx="619.7" cy="245.3" r="1.0" fill="#f4f32a"/><circle cx="616.3" cy="242.2" r="1.0" fill="#f4f329"/><circle cx="616.9" cy="244.0" r="1.0" fill="#f4f329"/><circle cx="617.4" cy="242.3" r="1.0" fill="#f4f429"/><circle cx="613.6" cy="239.1" r="1.0" fill="#f4f429"/><circle cx="614.4" cy="240.8" r="1.0" fill="#f5f429"/><circle cx="617.3" cy="243.4" r="1.0" fill="#f5f429"/><circle cx="619.4" cy="245.5" r="1.0" fill="#f5f528"/><circle cx="617.1" cy="243.4" r="1.0" fill="#f5f628"/><circle cx="617.1" cy="242.5" r="1.0" fill="#f5f627"/><circle cx="618.2" cy="244.4" r="1.0" fill="#f6f727"/><circle cx="616.5" cy="242.3" r="1.0" fill="#f6f727"/><circle cx="616.7" cy="243.2" r="1.0" fill="#f6f727"/><circle cx="616.4" cy="241.4" r="1.0" fill="#f6f727"/><circle cx="615.7" cy="242.0" r="1.0" fill="#f6f727"/><circle cx="618.1" cy="244.0" r="1.0" fill="#f6f727"/><circle cx="617.6" cy="244.0" r="1.0" fill="#f6f727"/><circle cx="617.4" cy="242.8" r="1.0" fill="#f6f727"/><circle cx="619.1" cy="244.6" r="1.0" fill="#f6f727"/><circle cx="617.6" cy="243.6" r="1.0" fill="#f6f727"/><circle cx="617.8" cy="244.3" r="1.0" fill="#f6f727"/><circle cx="616.8" cy="243.1" r="1.0" fill="#f6f727"/><circle cx="616.5" cy="243.6" r="1.0" fill="#f6f727"/><circle cx="615.6" cy="241.2" r="1.0" fill="#f6f727"/><circle cx="616.9" cy="241.8" r="1.0" fill="#f6f727"/><circle cx="615.6" cy="241.6" r="1.0" fill="#f6f727"/><circle cx="618.2" cy="243.9" r="1.0" fill="#f6f727"/><circle cx="616.1" cy="241.6" r="1.0" fill="#f6f727"/><circle cx="614.0" cy="239.8" r="1.0" fill="#f6f727"/><circle cx="615.5" cy="241.7" r="1.0" fill="#f6f727"/><circle cx="619.6" cy="245.6" r="1.0" fill="#f6f727"/><circle cx="618.2" cy="243.7" r="1.0" fill="#f6f727"/><circle cx="618.2" cy="244.2" r="1.0" fill="#f6f727"/><circle cx="618.2" cy="243.3" r="1.0" fill="#f6f727"/><circle cx="617.1" cy="243.0" r="1.0" fill="#f6f727"/><circle cx="617.0" cy="243.7" r="1.0" fill="#f6f727"/><circle cx="617.6" cy="244.2" r="1.0" fill="#f6f727"/><circle cx="617.3" cy="243.8" r="1.0" fill="#f6f727"/><circle cx="615.5" cy="240.5" r="1.0" fill="#f6f727"/><circle cx="615.4" cy="241.9" r="1.0" fill="#f6f727"/><circle cx="617.6" cy="243.9" r="1.0" fill="#f6f727"/><circle cx="616.2" cy="241.7" r="1.0" fill="#f6f727"/><circle cx="617.4" cy="243.7" r="1.0" fill="#f6f727"/><circle cx="614.9" cy="241.1" r="1.0" fill="#f6f727"/><circle cx="617.4" cy="243.2" r="1.0" fill="#f6f727"/><circle cx="617.5" cy="244.0" r="1.0" fill="#f6f727"/><circle cx="615.9" cy="241.5" r="1.0" fill="#f6f727"/><circle cx="616.9" cy="244.4" r="1.0" fill="#f6f727"/><circle cx="616.4" cy="242.8" r="1.0" fill="#f6f727"/><circle cx="617.7" cy="242.7" r="1.0" fill="#f6f727"/><circle cx="616.0" cy="242.2" r="1.0" fill="#f6f727"/><circle cx="615.7" cy="241.9" r="1.0" fill="#f6f727"/><circle cx="617.9" cy="244.3" r="1.0" fill="#f6f727"/><circle cx="615.7" cy="242.4" r="1.0" fill="#f6f727"/><circle cx="616.3" cy="241.5" r="1.0" fill="#f6f727"/></g>
<polygon points="565.00,183.90 566.12,187.06 569.47,187.15 566.81,189.19 567.76,192.40 565.00,190.50 562.24,192.40 563.19,189.19 560.53,187.15 563.88,187.06" fill="#f2a466"/>
<text x="563.4" y="200" font-size="8.6" text-anchor="middle" fill="#ec9050" >true</text>
<defs><linearGradient id="ar2" gradientUnits="userSpaceOnUse" x1="573" y1="189.2" x2="619.6" y2="240.8"><stop offset="0" stop-color="#f08a50"/><stop offset="0.3" stop-color="#f05a32"/><stop offset="1" stop-color="#e6262a"/></linearGradient></defs>
<path d="M573 189.2C592 193 612 208 618.2 233.2" fill="none" stroke="url(#ar2)" stroke-width="1.9"/>
<polygon points="619.60,240.80 615.44,233.10 620.75,232.12" fill="#e52228"/>
<path d="M615.7 240.29999999999998L621.5 246.1M615.7 246.1L621.5 240.29999999999998" stroke="#e8202a" stroke-width="1.4"/>
<text x="600.8" y="247.3" font-size="8.8" text-anchor="middle" fill="#e42a30" >est.</text>
<rect x="549.3" y="175.4" width="91.3" height="91.1" fill="none" stroke="#4d4d4d" stroke-width="1"/>
<path d="M576.8 266.5v-3.2M576.8 175.4v3.2" stroke="#4d4d4d" stroke-width="1"/>
<text x="575" y="280.8" font-size="12.2" text-anchor="middle" fill="#262626" >–0.4</text>
<path d="M614 266.5v-3.2M614 175.4v3.2" stroke="#4d4d4d" stroke-width="1"/>
<text x="614.4" y="280.8" font-size="12.2" text-anchor="middle" fill="#262626" >–0.2</text>
<path d="M549.3 258.6h3.2M640.6 258.6h-3.2" stroke="#4d4d4d" stroke-width="1"/>
<text x="545.7" y="262.5" font-size="12.2" text-anchor="end" fill="#262626" >1.2</text>
<path d="M549.3 221.7h3.2M640.6 221.7h-3.2" stroke="#4d4d4d" stroke-width="1"/>
<text x="545.7" y="225.6" font-size="12.2" text-anchor="end" fill="#262626" >1.4</text>
<path d="M549.3 184.8h3.2M640.6 184.8h-3.2" stroke="#4d4d4d" stroke-width="1"/>
<text x="545.7" y="188.7" font-size="12.2" text-anchor="end" fill="#262626" >1.6</text>
<text x="596.5" y="294.3" font-size="12.2" text-anchor="middle" fill="#262626">log<tspan font-size="9" dy="3.6">10</tspan><tspan dy="-3.6">(BF)</tspan></text>
<text transform="translate(522.6,219.1) rotate(-90)" font-size="12.2" text-anchor="middle" fill="#262626">log<tspan font-size="9" dy="3.4">10</tspan><tspan dy="-3.4">(BS)</tspan></text>
<text x="507.6" y="171.7" font-size="14.5" fill="#1a1a1a">(<tspan font-style="italic">h</tspan>)</text>
<defs><linearGradient id="cb2" x1="0" y1="0" x2="0" y2="1"><stop offset="0.0000" stop-color="#f6f727"/><stop offset="0.0625" stop-color="#f1dd36"/><stop offset="0.1250" stop-color="#f7c944"/><stop offset="0.1875" stop-color="#ecba57"/><stop offset="0.2500" stop-color="#cfba64"/><stop offset="0.3125" stop-color="#b1bc6f"/><stop offset="0.3750" stop-color="#8ebc7b"/><stop offset="0.4375" stop-color="#65ba8b"/><stop offset="0.5000" stop-color="#3eb39f"/><stop offset="0.5625" stop-color="#20aab0"/><stop offset="0.6250" stop-color="#14a0be"/><stop offset="0.6875" stop-color="#1792c6"/><stop offset="0.7500" stop-color="#1f81c8"/><stop offset="0.8125" stop-color="#1672ce"/><stop offset="0.8750" stop-color="#0e60d0"/><stop offset="0.9375" stop-color="#3544ac"/><stop offset="1.0000" stop-color="#352c7d"/></linearGradient></defs>
<rect x="658.2" y="172.9" width="9.40" height="93.60" fill="url(#cb2)" stroke="#7a7a7a" stroke-width="0.6"/>
<text x="673.1" y="270.4" font-size="12.2" text-anchor="start" fill="#262626" >0</text>
<text x="673.1" y="223.6" font-size="12.2" text-anchor="start" fill="#262626" >0.5</text>
<text x="673.1" y="176.8" font-size="12.2" text-anchor="start" fill="#262626" >1.0</text>
</svg>
</body></html>
